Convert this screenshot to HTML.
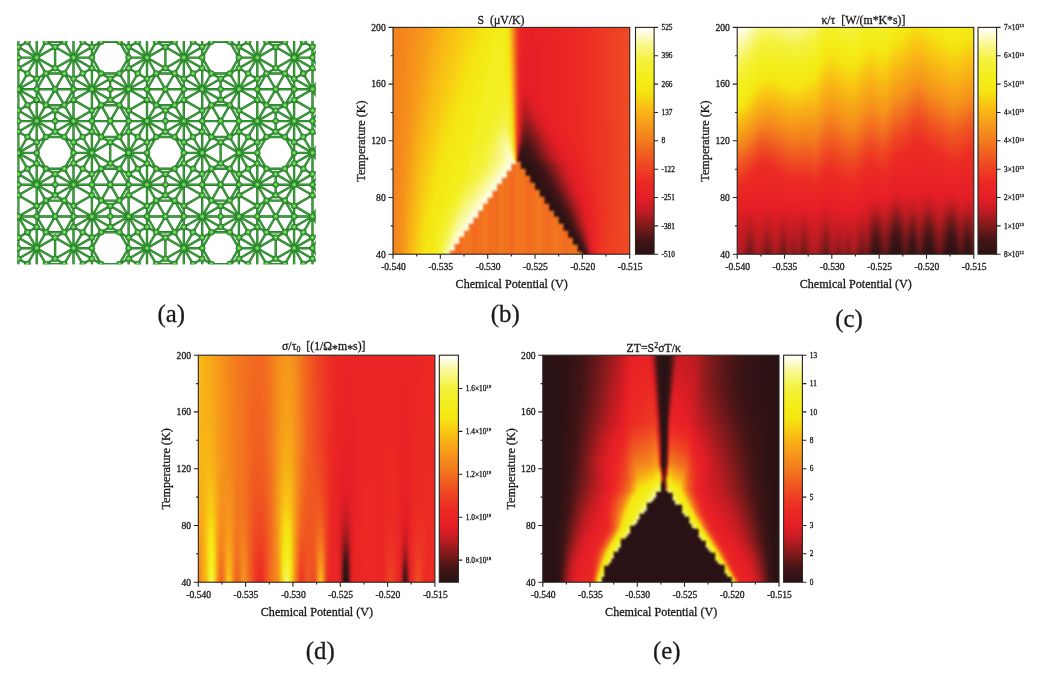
<!DOCTYPE html>
<html><head><meta charset="utf-8"><title>Figure</title>
<style>html,body{margin:0;padding:0;background:#fff}svg{display:block}text{font-family:"Liberation Serif", serif;fill:#1d191a;stroke:#1d191a;stroke-width:.3px}</style>
</head><body>
<svg width="1044" height="678" viewBox="0 0 1044 678">
<defs><filter id="hb" x="-5%" y="-5%" width="110%" height="110%" color-interpolation-filters="sRGB"><feGaussianBlur stdDeviation="0.9"/></filter><filter id="tb" x="0" y="0" width="1044" height="678" filterUnits="userSpaceOnUse" color-interpolation-filters="sRGB"><feGaussianBlur stdDeviation="0.5"/></filter><linearGradient id="cbg" x1="0" y1="0" x2="0" y2="1"><stop offset="0.000" stop-color="#fff"/><stop offset="0.030" stop-color="#fdfcd4"/><stop offset="0.070" stop-color="#f9f896"/><stop offset="0.140" stop-color="#f5f240"/><stop offset="0.220" stop-color="#f3ee1a"/><stop offset="0.280" stop-color="#f5e612"/><stop offset="0.350" stop-color="#f9c014"/><stop offset="0.420" stop-color="#f79e1a"/><stop offset="0.500" stop-color="#f37c1e"/><stop offset="0.600" stop-color="#ef4a22"/><stop offset="0.680" stop-color="#ec2a24"/><stop offset="0.750" stop-color="#e61e26"/><stop offset="0.810" stop-color="#c01c22"/><stop offset="0.875" stop-color="#801a1b"/><stop offset="0.940" stop-color="#421416"/><stop offset="1.000" stop-color="#2a1214"/></linearGradient><linearGradient id="bg" gradientUnits="userSpaceOnUse" x1="0" y1="27.4" x2="0" y2="254.2"/><linearGradient id="b0" href="#bg"><stop offset="0" stop-color="#f4821d"/><stop offset="1" stop-color="#f4831d"/></linearGradient><linearGradient id="b1" href="#bg"><stop offset="0" stop-color="#f4831d"/><stop offset="1" stop-color="#f4861d"/></linearGradient><linearGradient id="b2" href="#bg"><stop offset="0" stop-color="#f4841d"/><stop offset="1" stop-color="#f58b1c"/></linearGradient><linearGradient id="b3" href="#bg"><stop offset="0" stop-color="#f4851d"/><stop offset="1" stop-color="#f6921b"/></linearGradient><linearGradient id="b4" href="#bg"><stop offset="0" stop-color="#f4861d"/><stop offset="0.445" stop-color="#f58b1c"/><stop offset="1" stop-color="#f6991b"/></linearGradient><linearGradient id="b5" href="#bg"><stop offset="0" stop-color="#f4881d"/><stop offset="0.449" stop-color="#f58f1c"/><stop offset="1" stop-color="#f7a319"/></linearGradient><linearGradient id="b6" href="#bg"><stop offset="0" stop-color="#f58a1c"/><stop offset="0.463" stop-color="#f6931b"/><stop offset="1" stop-color="#f8ae17"/></linearGradient><linearGradient id="b7" href="#bg"><stop offset="0" stop-color="#f58b1c"/><stop offset="0.458" stop-color="#f6971b"/><stop offset="1" stop-color="#f9b815"/></linearGradient><linearGradient id="b8" href="#bg"><stop offset="0" stop-color="#f58d1c"/><stop offset="0.432" stop-color="#f79b1a"/><stop offset="1" stop-color="#f9c014"/></linearGradient><linearGradient id="b9" href="#bg"><stop offset="0" stop-color="#f58f1c"/><stop offset="0.41" stop-color="#f79e1a"/><stop offset="0.595" stop-color="#f8af17"/><stop offset="1" stop-color="#f8c814"/></linearGradient><linearGradient id="b10" href="#bg"><stop offset="0" stop-color="#f6921b"/><stop offset="0.352" stop-color="#f7a01a"/><stop offset="0.59" stop-color="#f8b616"/><stop offset="0.771" stop-color="#f9bf14"/><stop offset="1" stop-color="#f7d113"/></linearGradient><linearGradient id="b11" href="#bg"><stop offset="0" stop-color="#f6941b"/><stop offset="0.335" stop-color="#f7a319"/><stop offset="0.533" stop-color="#f8b616"/><stop offset="1" stop-color="#f6d913"/></linearGradient><linearGradient id="b12" href="#bg"><stop offset="0" stop-color="#f6971b"/><stop offset="0.317" stop-color="#f8a718"/><stop offset="1" stop-color="#f5e112"/></linearGradient><linearGradient id="b13" href="#bg"><stop offset="0" stop-color="#f6991b"/><stop offset="0.225" stop-color="#f7a519"/><stop offset="0.727" stop-color="#f7ce13"/><stop offset="0.877" stop-color="#f6e012"/><stop offset="1" stop-color="#f5e612"/></linearGradient><linearGradient id="b14" href="#bg"><stop offset="0" stop-color="#f79c1a"/><stop offset="0.163" stop-color="#f7a519"/><stop offset="0.502" stop-color="#f9c014"/><stop offset="0.872" stop-color="#f5e512"/><stop offset="1" stop-color="#f5e713"/></linearGradient><linearGradient id="b15" href="#bg"><stop offset="0" stop-color="#f79f1a"/><stop offset="0.458" stop-color="#f9c014"/><stop offset="0.837" stop-color="#f5e612"/><stop offset="1" stop-color="#f5e814"/></linearGradient><linearGradient id="b16" href="#bg"><stop offset="0" stop-color="#f7a319"/><stop offset="0.436" stop-color="#f9c314"/><stop offset="0.789" stop-color="#f5e612"/><stop offset="1" stop-color="#f4e814"/></linearGradient><linearGradient id="b17" href="#bg"><stop offset="0" stop-color="#f7a619"/><stop offset="0.419" stop-color="#f8c514"/><stop offset="0.736" stop-color="#f5e612"/><stop offset="0.93" stop-color="#f4ec18"/><stop offset="1" stop-color="#f4e915"/></linearGradient><linearGradient id="b18" href="#bg"><stop offset="0" stop-color="#f8aa18"/><stop offset="0.401" stop-color="#f8c714"/><stop offset="0.687" stop-color="#f5e612"/><stop offset="0.811" stop-color="#f5e814"/><stop offset="0.934" stop-color="#f3ee1c"/><stop offset="1" stop-color="#f3ee1b"/></linearGradient><linearGradient id="b19" href="#bg"><stop offset="0" stop-color="#f8ae17"/><stop offset="0.383" stop-color="#f8c914"/><stop offset="0.634" stop-color="#f5e612"/><stop offset="0.789" stop-color="#f4e814"/><stop offset="0.868" stop-color="#f3ee1a"/><stop offset="0.907" stop-color="#f4ef24"/><stop offset="1" stop-color="#f4f02d"/></linearGradient><linearGradient id="b20" href="#bg"><stop offset="0" stop-color="#f8b217"/><stop offset="0.366" stop-color="#f8cc13"/><stop offset="0.59" stop-color="#f5e612"/><stop offset="0.775" stop-color="#f4e915"/><stop offset="0.837" stop-color="#f3ee1b"/><stop offset="0.907" stop-color="#f4f02d"/><stop offset="1" stop-color="#f5f23f"/></linearGradient><linearGradient id="b21" href="#bg"><stop offset="0" stop-color="#f8b616"/><stop offset="0.335" stop-color="#f8cd13"/><stop offset="0.559" stop-color="#f5e612"/><stop offset="0.767" stop-color="#f4ea16"/><stop offset="0.806" stop-color="#f3ee1a"/><stop offset="0.952" stop-color="#f5f240"/><stop offset="0.978" stop-color="#f6f354"/><stop offset="1" stop-color="#f7f56d"/></linearGradient><linearGradient id="b22" href="#bg"><stop offset="0" stop-color="#f9b815"/><stop offset="0.317" stop-color="#f7ce13"/><stop offset="0.524" stop-color="#f5e612"/><stop offset="0.749" stop-color="#f4ea16"/><stop offset="0.784" stop-color="#f3ee1a"/><stop offset="0.907" stop-color="#f5f240"/><stop offset="0.965" stop-color="#f7f56a"/><stop offset="0.987" stop-color="#f8f785"/><stop offset="1" stop-color="#f9f89e"/></linearGradient><linearGradient id="b23" href="#bg"><stop offset="0" stop-color="#f9bb15"/><stop offset="0.3" stop-color="#f7d013"/><stop offset="0.493" stop-color="#f5e612"/><stop offset="0.736" stop-color="#f4ea16"/><stop offset="0.767" stop-color="#f3ee1a"/><stop offset="0.885" stop-color="#f5f244"/><stop offset="0.943" stop-color="#f7f674"/><stop offset="0.965" stop-color="#f8f78b"/><stop offset="0.974" stop-color="#f9f897"/><stop offset="0.982" stop-color="#faf9a9"/><stop offset="1" stop-color="#fdfcd8"/></linearGradient><linearGradient id="b24" href="#bg"><stop offset="0" stop-color="#f9bd14"/><stop offset="0.286" stop-color="#f7d313"/><stop offset="0.458" stop-color="#f5e612"/><stop offset="0.749" stop-color="#f3ee1a"/><stop offset="0.859" stop-color="#f5f244"/><stop offset="0.921" stop-color="#f8f67a"/><stop offset="0.947" stop-color="#f9f896"/><stop offset="0.965" stop-color="#fbfab4"/><stop offset="0.982" stop-color="#fdfcda"/><stop offset="0.987" stop-color="#f2721f"/><stop offset="1" stop-color="#f2721f"/></linearGradient><linearGradient id="b25" href="#bg"><stop offset="0" stop-color="#f9c014"/><stop offset="0.242" stop-color="#f7d213"/><stop offset="0.427" stop-color="#f5e612"/><stop offset="0.731" stop-color="#f3ee1a"/><stop offset="0.828" stop-color="#f5f23f"/><stop offset="0.863" stop-color="#f6f45c"/><stop offset="0.921" stop-color="#f9f897"/><stop offset="0.956" stop-color="#fdfccd"/><stop offset="0.982" stop-color="#fff"/><stop offset="0.987" stop-color="#f2701f"/><stop offset="1" stop-color="#f2701f"/></linearGradient><linearGradient id="b26" href="#bg"><stop offset="0" stop-color="#f9c214"/><stop offset="0.229" stop-color="#f7d413"/><stop offset="0.396" stop-color="#f5e612"/><stop offset="0.714" stop-color="#f3ee1a"/><stop offset="0.811" stop-color="#f5f243"/><stop offset="0.85" stop-color="#f7f567"/><stop offset="0.89" stop-color="#f9f892"/><stop offset="0.952" stop-color="#fefde2"/><stop offset="0.956" stop-color="#f2701f"/><stop offset="1" stop-color="#f2701f"/></linearGradient><linearGradient id="b27" href="#bg"><stop offset="0" stop-color="#f8c514"/><stop offset="0.216" stop-color="#f7d613"/><stop offset="0.361" stop-color="#f5e612"/><stop offset="0.7" stop-color="#f3ee1b"/><stop offset="0.789" stop-color="#f5f242"/><stop offset="0.912" stop-color="#fcfbc3"/><stop offset="0.934" stop-color="#fefddf"/><stop offset="0.952" stop-color="#fffffd"/><stop offset="0.956" stop-color="#f16920"/><stop offset="1" stop-color="#f16920"/></linearGradient><linearGradient id="b28" href="#bg"><stop offset="0" stop-color="#f8c814"/><stop offset="0.33" stop-color="#f5e612"/><stop offset="0.683" stop-color="#f3ee1a"/><stop offset="0.762" stop-color="#f5f23f"/><stop offset="0.802" stop-color="#f7f56f"/><stop offset="0.855" stop-color="#f9f899"/><stop offset="0.881" stop-color="#fbfab1"/><stop offset="0.921" stop-color="#fefde3"/><stop offset="0.925" stop-color="#f26b1f"/><stop offset="1" stop-color="#f26b1f"/></linearGradient><linearGradient id="b29" href="#bg"><stop offset="0" stop-color="#f8cb13"/><stop offset="0.3" stop-color="#f5e612"/><stop offset="0.665" stop-color="#f3ee1a"/><stop offset="0.74" stop-color="#f5f241"/><stop offset="0.762" stop-color="#f6f45d"/><stop offset="0.78" stop-color="#f7f56e"/><stop offset="0.841" stop-color="#f9f898"/><stop offset="0.877" stop-color="#fcfbbe"/><stop offset="0.921" stop-color="#fffffa"/><stop offset="0.925" stop-color="#f3761e"/><stop offset="1" stop-color="#f3761e"/></linearGradient><linearGradient id="b30" href="#bg"><stop offset="0" stop-color="#f8cd13"/><stop offset="0.264" stop-color="#f5e612"/><stop offset="0.639" stop-color="#f3ee1a"/><stop offset="0.656" stop-color="#f3ef20"/><stop offset="0.714" stop-color="#f5f240"/><stop offset="0.74" stop-color="#f6f458"/><stop offset="0.824" stop-color="#f9f896"/><stop offset="0.855" stop-color="#fbfab7"/><stop offset="0.894" stop-color="#fefeea"/><stop offset="0.899" stop-color="#f2761f"/><stop offset="1" stop-color="#f2761f"/></linearGradient><linearGradient id="b31" href="#bg"><stop offset="0" stop-color="#f7d013"/><stop offset="0.233" stop-color="#f5e612"/><stop offset="0.612" stop-color="#f3ee1d"/><stop offset="0.7" stop-color="#f5f241"/><stop offset="0.753" stop-color="#f7f566"/><stop offset="0.819" stop-color="#faf9a3"/><stop offset="0.855" stop-color="#fcfbcb"/><stop offset="0.894" stop-color="#fff"/><stop offset="0.899" stop-color="#f2731f"/><stop offset="1" stop-color="#f2731f"/></linearGradient><linearGradient id="b32" href="#bg"><stop offset="0" stop-color="#f7d313"/><stop offset="0.203" stop-color="#f5e612"/><stop offset="0.533" stop-color="#f3ed19"/><stop offset="0.577" stop-color="#f3ef20"/><stop offset="0.7" stop-color="#f5f242"/><stop offset="0.793" stop-color="#f9f897"/><stop offset="0.863" stop-color="#fefeea"/><stop offset="0.868" stop-color="#f3771e"/><stop offset="1" stop-color="#f3771e"/></linearGradient><linearGradient id="b33" href="#bg"><stop offset="0" stop-color="#f7d513"/><stop offset="0.172" stop-color="#f5e612"/><stop offset="0.498" stop-color="#f3ee1a"/><stop offset="0.586" stop-color="#f4f02d"/><stop offset="0.656" stop-color="#f4f135"/><stop offset="0.692" stop-color="#f5f243"/><stop offset="0.775" stop-color="#f9f894"/><stop offset="0.863" stop-color="#fffffd"/><stop offset="0.868" stop-color="#f26f1f"/><stop offset="1" stop-color="#f26f1f"/></linearGradient><linearGradient id="b34" href="#bg"><stop offset="0" stop-color="#f6d813"/><stop offset="0.137" stop-color="#f5e612"/><stop offset="0.454" stop-color="#f3ee1a"/><stop offset="0.515" stop-color="#f4f028"/><stop offset="0.604" stop-color="#f4f02e"/><stop offset="0.656" stop-color="#f5f138"/><stop offset="0.678" stop-color="#f5f243"/><stop offset="0.762" stop-color="#f9f895"/><stop offset="0.837" stop-color="#fefeee"/><stop offset="0.841" stop-color="#f16720"/><stop offset="1" stop-color="#f16720"/></linearGradient><linearGradient id="b35" href="#bg"><stop offset="0" stop-color="#f6db13"/><stop offset="0.106" stop-color="#f5e612"/><stop offset="0.41" stop-color="#f3ee1a"/><stop offset="0.471" stop-color="#f4f029"/><stop offset="0.555" stop-color="#f4f029"/><stop offset="0.656" stop-color="#f5f23d"/><stop offset="0.665" stop-color="#f5f243"/><stop offset="0.749" stop-color="#f9f897"/><stop offset="0.837" stop-color="#fff"/><stop offset="0.841" stop-color="#f26e1f"/><stop offset="1" stop-color="#f26e1f"/></linearGradient><linearGradient id="b36" href="#bg"><stop offset="0" stop-color="#f6de12"/><stop offset="0.075" stop-color="#f5e612"/><stop offset="0.352" stop-color="#f3ed19"/><stop offset="0.37" stop-color="#f3ee1a"/><stop offset="0.436" stop-color="#f4f02a"/><stop offset="0.507" stop-color="#f3ef23"/><stop offset="0.643" stop-color="#f5f23f"/><stop offset="0.656" stop-color="#f5f347"/><stop offset="0.731" stop-color="#f9f893"/><stop offset="0.806" stop-color="#fefeed"/><stop offset="0.811" stop-color="#f2721f"/><stop offset="1" stop-color="#f2721f"/></linearGradient><linearGradient id="b37" href="#bg"><stop offset="0" stop-color="#f6e012"/><stop offset="0.044" stop-color="#f5e612"/><stop offset="0.308" stop-color="#f3ed19"/><stop offset="0.392" stop-color="#f4f02a"/><stop offset="0.485" stop-color="#f3ef22"/><stop offset="0.626" stop-color="#f5f240"/><stop offset="0.656" stop-color="#f6f355"/><stop offset="0.718" stop-color="#f9f894"/><stop offset="0.806" stop-color="#fff"/><stop offset="0.811" stop-color="#f2701f"/><stop offset="1" stop-color="#f2701f"/></linearGradient><linearGradient id="b38" href="#bg"><stop offset="0" stop-color="#f5e512"/><stop offset="0.264" stop-color="#f3ed19"/><stop offset="0.348" stop-color="#f4f029"/><stop offset="0.463" stop-color="#f3ef21"/><stop offset="0.608" stop-color="#f5f240"/><stop offset="0.656" stop-color="#f7f463"/><stop offset="0.705" stop-color="#f9f895"/><stop offset="0.775" stop-color="#fefeec"/><stop offset="0.78" stop-color="#f3781e"/><stop offset="1" stop-color="#f3781e"/></linearGradient><linearGradient id="b39" href="#bg"><stop offset="0" stop-color="#f5e713"/><stop offset="0.22" stop-color="#f3ed19"/><stop offset="0.295" stop-color="#f4f028"/><stop offset="0.445" stop-color="#f3ef21"/><stop offset="0.586" stop-color="#f5f240"/><stop offset="0.608" stop-color="#f6f34d"/><stop offset="0.656" stop-color="#f7f571"/><stop offset="0.692" stop-color="#f9f896"/><stop offset="0.775" stop-color="#fffffd"/><stop offset="0.78" stop-color="#f3791e"/><stop offset="1" stop-color="#f3791e"/></linearGradient><linearGradient id="b40" href="#bg"><stop offset="0" stop-color="#f5e713"/><stop offset="0.176" stop-color="#f3ed19"/><stop offset="0.247" stop-color="#f4ef27"/><stop offset="0.423" stop-color="#f3ef21"/><stop offset="0.551" stop-color="#f5f240"/><stop offset="0.595" stop-color="#f6f351"/><stop offset="0.656" stop-color="#f8f680"/><stop offset="0.678" stop-color="#f9f897"/><stop offset="0.749" stop-color="#fefeef"/><stop offset="0.753" stop-color="#f26e1f"/><stop offset="1" stop-color="#f26e1f"/></linearGradient><linearGradient id="b41" href="#bg"><stop offset="0" stop-color="#f4e814"/><stop offset="0.137" stop-color="#f3ed19"/><stop offset="0.198" stop-color="#f4ef26"/><stop offset="0.401" stop-color="#f3ef21"/><stop offset="0.52" stop-color="#f5f240"/><stop offset="0.595" stop-color="#f6f45e"/><stop offset="0.643" stop-color="#f8f783"/><stop offset="0.665" stop-color="#f9f898"/><stop offset="0.709" stop-color="#fdfcd1"/><stop offset="0.749" stop-color="#fff"/><stop offset="0.753" stop-color="#f26c1f"/><stop offset="1" stop-color="#f26c1f"/></linearGradient><linearGradient id="b42" href="#bg"><stop offset="0" stop-color="#f4e915"/><stop offset="0.097" stop-color="#f3ee1a"/><stop offset="0.15" stop-color="#f4ef25"/><stop offset="0.374" stop-color="#f3ef21"/><stop offset="0.489" stop-color="#f5f23f"/><stop offset="0.52" stop-color="#f6f350"/><stop offset="0.595" stop-color="#f7f56b"/><stop offset="0.604" stop-color="#f7f571"/><stop offset="0.652" stop-color="#f9f89a"/><stop offset="0.718" stop-color="#fefeed"/><stop offset="0.722" stop-color="#f26f1f"/><stop offset="1" stop-color="#f26f1f"/></linearGradient><linearGradient id="b43" href="#bg"><stop offset="0" stop-color="#f4ea16"/><stop offset="0.053" stop-color="#f3ee1a"/><stop offset="0.101" stop-color="#f3ef23"/><stop offset="0.344" stop-color="#f3ef21"/><stop offset="0.405" stop-color="#f4f02e"/><stop offset="0.467" stop-color="#f5f240"/><stop offset="0.502" stop-color="#f6f458"/><stop offset="0.595" stop-color="#f8f678"/><stop offset="0.634" stop-color="#f9f899"/><stop offset="0.718" stop-color="#fffffe"/><stop offset="0.722" stop-color="#f26b1f"/><stop offset="1" stop-color="#f26b1f"/></linearGradient><linearGradient id="b44" href="#bg"><stop offset="0" stop-color="#f3ed19"/><stop offset="0.053" stop-color="#f3ef21"/><stop offset="0.317" stop-color="#f3ef20"/><stop offset="0.445" stop-color="#f5f23f"/><stop offset="0.502" stop-color="#f7f569"/><stop offset="0.595" stop-color="#f8f785"/><stop offset="0.626" stop-color="#faf9a1"/><stop offset="0.687" stop-color="#fefeeb"/><stop offset="0.692" stop-color="#f26f1f"/><stop offset="1" stop-color="#f26f1f"/></linearGradient><linearGradient id="b45" href="#bg"><stop offset="0" stop-color="#f3ee1e"/><stop offset="0.075" stop-color="#f3ee1c"/><stop offset="0.291" stop-color="#f3ef1f"/><stop offset="0.427" stop-color="#f5f240"/><stop offset="0.502" stop-color="#f8f679"/><stop offset="0.595" stop-color="#f9f893"/><stop offset="0.63" stop-color="#fbfab8"/><stop offset="0.687" stop-color="#fffffc"/><stop offset="0.692" stop-color="#f37a1e"/><stop offset="1" stop-color="#f37a1e"/></linearGradient><linearGradient id="b46" href="#bg"><stop offset="0" stop-color="#f3ed19"/><stop offset="0.273" stop-color="#f3ee1f"/><stop offset="0.41" stop-color="#f5f23f"/><stop offset="0.449" stop-color="#f6f45b"/><stop offset="0.502" stop-color="#f8f788"/><stop offset="0.595" stop-color="#faf9a3"/><stop offset="0.661" stop-color="#fefeee"/><stop offset="0.665" stop-color="#f3761e"/><stop offset="1" stop-color="#f3761e"/></linearGradient><linearGradient id="b47" href="#bg"><stop offset="0" stop-color="#f4eb17"/><stop offset="0.251" stop-color="#f3ee1c"/><stop offset="0.278" stop-color="#f3ef1f"/><stop offset="0.41" stop-color="#f5f240"/><stop offset="0.449" stop-color="#f6f45c"/><stop offset="0.502" stop-color="#f9f892"/><stop offset="0.542" stop-color="#faf9a8"/><stop offset="0.595" stop-color="#fbfab4"/><stop offset="0.661" stop-color="#fff"/><stop offset="0.665" stop-color="#f2711f"/><stop offset="1" stop-color="#f2711f"/></linearGradient><linearGradient id="b48" href="#bg"><stop offset="0" stop-color="#f5e612"/><stop offset="0.286" stop-color="#f3ee1a"/><stop offset="0.432" stop-color="#f5f23f"/><stop offset="0.449" stop-color="#f5f34a"/><stop offset="0.498" stop-color="#f8f78a"/><stop offset="0.533" stop-color="#fbfaae"/><stop offset="0.559" stop-color="#fcfbbe"/><stop offset="0.595" stop-color="#fcfbc5"/><stop offset="0.63" stop-color="#fefeed"/><stop offset="0.634" stop-color="#f2731f"/><stop offset="1" stop-color="#f2731f"/></linearGradient><linearGradient id="b49" href="#bg"><stop offset="0" stop-color="#f8c614"/><stop offset="0.273" stop-color="#f5e713"/><stop offset="0.374" stop-color="#f3ee1a"/><stop offset="0.449" stop-color="#f4f02d"/><stop offset="0.48" stop-color="#f5f243"/><stop offset="0.498" stop-color="#f7f461"/><stop offset="0.515" stop-color="#f8f67a"/><stop offset="0.546" stop-color="#fbfab3"/><stop offset="0.559" stop-color="#fcfbc5"/><stop offset="0.573" stop-color="#fdfcd0"/><stop offset="0.595" stop-color="#fdfcd7"/><stop offset="0.63" stop-color="#fffffe"/><stop offset="0.634" stop-color="#f26d1f"/><stop offset="1" stop-color="#f26d1f"/></linearGradient><linearGradient id="b50" href="#bg"><stop offset="0" stop-color="#f6981b"/><stop offset="0.251" stop-color="#f8b616"/><stop offset="0.449" stop-color="#f5e612"/><stop offset="0.489" stop-color="#f3ed19"/><stop offset="0.511" stop-color="#f4ef27"/><stop offset="0.533" stop-color="#f5f23e"/><stop offset="0.577" stop-color="#fcfbc3"/><stop offset="0.595" stop-color="#fefde7"/><stop offset="0.599" stop-color="#fefeeb"/><stop offset="0.604" stop-color="#f16720"/><stop offset="1" stop-color="#f16720"/></linearGradient><linearGradient id="b51" href="#bg"><stop offset="0" stop-color="#f16720"/><stop offset="0.251" stop-color="#f37e1e"/><stop offset="0.454" stop-color="#f6981b"/><stop offset="0.524" stop-color="#f8b416"/><stop offset="0.542" stop-color="#f9c314"/><stop offset="0.564" stop-color="#f5e412"/><stop offset="0.568" stop-color="#f5e814"/><stop offset="0.581" stop-color="#f3ee1e"/><stop offset="0.59" stop-color="#f4f135"/><stop offset="0.595" stop-color="#fffef7"/><stop offset="0.599" stop-color="#fffffc"/><stop offset="0.604" stop-color="#f2711f"/><stop offset="1" stop-color="#f2711f"/></linearGradient><linearGradient id="b52" href="#bg"><stop offset="0" stop-color="#ee3f23"/><stop offset="0.348" stop-color="#e42"/><stop offset="0.449" stop-color="#ee4322"/><stop offset="0.511" stop-color="#ed3823"/><stop offset="0.537" stop-color="#ec2a24"/><stop offset="0.568" stop-color="#e31e26"/><stop offset="0.586" stop-color="#bf1c22"/><stop offset="0.59" stop-color="#ae1b20"/><stop offset="0.595" stop-color="#f2761f"/><stop offset="1" stop-color="#f2761f"/></linearGradient><linearGradient id="b53" href="#bg"><stop offset="0" stop-color="#ec2a24"/><stop offset="0.352" stop-color="#e82325"/><stop offset="0.423" stop-color="#e61e26"/><stop offset="0.449" stop-color="#e01e25"/><stop offset="0.502" stop-color="#bb1c21"/><stop offset="0.515" stop-color="#a81b1f"/><stop offset="0.559" stop-color="#431416"/><stop offset="0.577" stop-color="#341315"/><stop offset="0.59" stop-color="#2e1214"/><stop offset="0.595" stop-color="#f2731f"/><stop offset="1" stop-color="#f2731f"/></linearGradient><linearGradient id="b54" href="#bg"><stop offset="0" stop-color="#e92525"/><stop offset="0.286" stop-color="#e61e26"/><stop offset="0.348" stop-color="#d51d24"/><stop offset="0.401" stop-color="#c11c22"/><stop offset="0.449" stop-color="#a41b1f"/><stop offset="0.511" stop-color="#611718"/><stop offset="0.533" stop-color="#411416"/><stop offset="0.573" stop-color="#2f1214"/><stop offset="0.621" stop-color="#2a1214"/><stop offset="0.626" stop-color="#f3771e"/><stop offset="1" stop-color="#f3771e"/></linearGradient><linearGradient id="b55" href="#bg"><stop offset="0" stop-color="#e82225"/><stop offset="0.233" stop-color="#e71f26"/><stop offset="0.278" stop-color="#e21e26"/><stop offset="0.37" stop-color="#be1c22"/><stop offset="0.449" stop-color="#821a1b"/><stop offset="0.52" stop-color="#411416"/><stop offset="0.573" stop-color="#301315"/><stop offset="0.621" stop-color="#2a1214"/><stop offset="0.626" stop-color="#f3761e"/><stop offset="1" stop-color="#f3761e"/></linearGradient><linearGradient id="b56" href="#bg"><stop offset="0" stop-color="#e82125"/><stop offset="0.278" stop-color="#e41e26"/><stop offset="0.366" stop-color="#c01c22"/><stop offset="0.52" stop-color="#421416"/><stop offset="0.573" stop-color="#331315"/><stop offset="0.59" stop-color="#321315"/><stop offset="0.595" stop-color="#2e1214"/><stop offset="0.652" stop-color="#2a1214"/><stop offset="0.656" stop-color="#f26b1f"/><stop offset="1" stop-color="#f26b1f"/></linearGradient><linearGradient id="b57" href="#bg"><stop offset="0" stop-color="#e72126"/><stop offset="0.282" stop-color="#e61e26"/><stop offset="0.348" stop-color="#ce1d23"/><stop offset="0.379" stop-color="#bf1c22"/><stop offset="0.458" stop-color="#78191a"/><stop offset="0.533" stop-color="#421416"/><stop offset="0.59" stop-color="#361315"/><stop offset="0.595" stop-color="#301315"/><stop offset="0.652" stop-color="#2a1214"/><stop offset="0.656" stop-color="#f26a1f"/><stop offset="1" stop-color="#f26a1f"/></linearGradient><linearGradient id="b58" href="#bg"><stop offset="0" stop-color="#e72026"/><stop offset="0.3" stop-color="#e51e26"/><stop offset="0.348" stop-color="#d51d24"/><stop offset="0.392" stop-color="#c11c22"/><stop offset="0.463" stop-color="#811a1b"/><stop offset="0.551" stop-color="#421416"/><stop offset="0.59" stop-color="#3a1315"/><stop offset="0.595" stop-color="#341315"/><stop offset="0.617" stop-color="#2f1214"/><stop offset="0.683" stop-color="#2a1214"/><stop offset="0.687" stop-color="#f2701f"/><stop offset="1" stop-color="#f2701f"/></linearGradient><linearGradient id="b59" href="#bg"><stop offset="0" stop-color="#e72126"/><stop offset="0.278" stop-color="#e72026"/><stop offset="0.326" stop-color="#e31e26"/><stop offset="0.361" stop-color="#d81d24"/><stop offset="0.41" stop-color="#c11c22"/><stop offset="0.48" stop-color="#821a1b"/><stop offset="0.568" stop-color="#431416"/><stop offset="0.59" stop-color="#3f1416"/><stop offset="0.595" stop-color="#381315"/><stop offset="0.617" stop-color="#331315"/><stop offset="0.683" stop-color="#2a1214"/><stop offset="0.687" stop-color="#f26e1f"/><stop offset="1" stop-color="#f26e1f"/></linearGradient><linearGradient id="b60" href="#bg"><stop offset="0" stop-color="#e72126"/><stop offset="0.344" stop-color="#e41e26"/><stop offset="0.392" stop-color="#d31d24"/><stop offset="0.427" stop-color="#c11c22"/><stop offset="0.515" stop-color="#77191a"/><stop offset="0.573" stop-color="#4e1517"/><stop offset="0.59" stop-color="#471516"/><stop offset="0.595" stop-color="#3c1416"/><stop offset="0.661" stop-color="#2d1214"/><stop offset="0.714" stop-color="#2a1214"/><stop offset="0.718" stop-color="#f2731f"/><stop offset="1" stop-color="#f2731f"/></linearGradient><linearGradient id="b61" href="#bg"><stop offset="0" stop-color="#e82125"/><stop offset="0.361" stop-color="#e61e26"/><stop offset="0.405" stop-color="#d61d24"/><stop offset="0.445" stop-color="#c11c22"/><stop offset="0.537" stop-color="#76191a"/><stop offset="0.573" stop-color="#5c1718"/><stop offset="0.59" stop-color="#551618"/><stop offset="0.595" stop-color="#411416"/><stop offset="0.665" stop-color="#301214"/><stop offset="0.714" stop-color="#2a1214"/><stop offset="0.718" stop-color="#f37b1e"/><stop offset="1" stop-color="#f37b1e"/></linearGradient><linearGradient id="b62" href="#bg"><stop offset="0" stop-color="#e82225"/><stop offset="0.295" stop-color="#e82125"/><stop offset="0.383" stop-color="#e51e26"/><stop offset="0.414" stop-color="#da1d25"/><stop offset="0.467" stop-color="#be1c22"/><stop offset="0.568" stop-color="#6f181a"/><stop offset="0.59" stop-color="#631719"/><stop offset="0.595" stop-color="#4e1517"/><stop offset="0.612" stop-color="#421416"/><stop offset="0.687" stop-color="#2e1214"/><stop offset="0.744" stop-color="#2a1214"/><stop offset="0.749" stop-color="#f2751f"/><stop offset="1" stop-color="#f2751f"/></linearGradient><linearGradient id="b63" href="#bg"><stop offset="0" stop-color="#e82225"/><stop offset="0.308" stop-color="#e82225"/><stop offset="0.405" stop-color="#e51e26"/><stop offset="0.485" stop-color="#c01c22"/><stop offset="0.573" stop-color="#7b191b"/><stop offset="0.59" stop-color="#72191a"/><stop offset="0.595" stop-color="#5c1718"/><stop offset="0.63" stop-color="#421416"/><stop offset="0.696" stop-color="#301214"/><stop offset="0.744" stop-color="#2a1214"/><stop offset="0.749" stop-color="#f26d1f"/><stop offset="1" stop-color="#f26d1f"/></linearGradient><linearGradient id="b64" href="#bg"><stop offset="0" stop-color="#e82225"/><stop offset="0.326" stop-color="#e82225"/><stop offset="0.423" stop-color="#e51e26"/><stop offset="0.507" stop-color="#be1c22"/><stop offset="0.573" stop-color="#8b1a1c"/><stop offset="0.59" stop-color="#811a1b"/><stop offset="0.595" stop-color="#6b1819"/><stop offset="0.648" stop-color="#431416"/><stop offset="0.718" stop-color="#2f1214"/><stop offset="0.775" stop-color="#2a1214"/><stop offset="0.78" stop-color="#f2701f"/><stop offset="1" stop-color="#f2701f"/></linearGradient><linearGradient id="b65" href="#bg"><stop offset="0" stop-color="#e82325"/><stop offset="0.344" stop-color="#e82325"/><stop offset="0.441" stop-color="#e51e26"/><stop offset="0.524" stop-color="#c01c22"/><stop offset="0.573" stop-color="#9b1b1e"/><stop offset="0.59" stop-color="#911b1d"/><stop offset="0.595" stop-color="#7a191a"/><stop offset="0.67" stop-color="#411416"/><stop offset="0.731" stop-color="#301214"/><stop offset="0.775" stop-color="#2a1214"/><stop offset="0.78" stop-color="#f26c1f"/><stop offset="1" stop-color="#f26c1f"/></linearGradient><linearGradient id="b66" href="#bg"><stop offset="0" stop-color="#e92325"/><stop offset="0.357" stop-color="#e92325"/><stop offset="0.458" stop-color="#e51e26"/><stop offset="0.542" stop-color="#c11c22"/><stop offset="0.59" stop-color="#a01b1e"/><stop offset="0.595" stop-color="#891a1c"/><stop offset="0.687" stop-color="#421416"/><stop offset="0.753" stop-color="#2e1214"/><stop offset="0.806" stop-color="#2a1214"/><stop offset="0.811" stop-color="#f26a1f"/><stop offset="1" stop-color="#f26a1f"/></linearGradient><linearGradient id="b67" href="#bg"><stop offset="0" stop-color="#e92425"/><stop offset="0.37" stop-color="#e92425"/><stop offset="0.476" stop-color="#e61e26"/><stop offset="0.564" stop-color="#c01c22"/><stop offset="0.59" stop-color="#af1b20"/><stop offset="0.595" stop-color="#991b1e"/><stop offset="0.705" stop-color="#421416"/><stop offset="0.762" stop-color="#301315"/><stop offset="0.806" stop-color="#2a1214"/><stop offset="0.811" stop-color="#f2741f"/><stop offset="1" stop-color="#f2741f"/></linearGradient><linearGradient id="b68" href="#bg"><stop offset="0" stop-color="#e92425"/><stop offset="0.388" stop-color="#e92425"/><stop offset="0.493" stop-color="#e61e26"/><stop offset="0.59" stop-color="#be1c22"/><stop offset="0.595" stop-color="#a81b1f"/><stop offset="0.648" stop-color="#821a1b"/><stop offset="0.722" stop-color="#431416"/><stop offset="0.784" stop-color="#2f1214"/><stop offset="0.833" stop-color="#2a1214"/><stop offset="0.837" stop-color="#f3791e"/><stop offset="1" stop-color="#f3791e"/></linearGradient><linearGradient id="b69" href="#bg"><stop offset="0" stop-color="#e92525"/><stop offset="0.405" stop-color="#e92425"/><stop offset="0.515" stop-color="#e61e26"/><stop offset="0.59" stop-color="#c81c23"/><stop offset="0.595" stop-color="#b81c21"/><stop offset="0.656" stop-color="#8d1a1c"/><stop offset="0.744" stop-color="#411416"/><stop offset="0.797" stop-color="#301214"/><stop offset="0.833" stop-color="#2a1214"/><stop offset="0.837" stop-color="#f2731f"/><stop offset="1" stop-color="#f2731f"/></linearGradient><linearGradient id="b70" href="#bg"><stop offset="0" stop-color="#ea2525"/><stop offset="0.41" stop-color="#ea2525"/><stop offset="0.533" stop-color="#e61e26"/><stop offset="0.59" stop-color="#d01d24"/><stop offset="0.595" stop-color="#c41c22"/><stop offset="0.617" stop-color="#ba1c21"/><stop offset="0.661" stop-color="#9b1b1e"/><stop offset="0.762" stop-color="#411416"/><stop offset="0.819" stop-color="#2f1214"/><stop offset="0.863" stop-color="#2a1214"/><stop offset="0.868" stop-color="#f2741f"/><stop offset="1" stop-color="#f2741f"/></linearGradient><linearGradient id="b71" href="#bg"><stop offset="0" stop-color="#ea2625"/><stop offset="0.423" stop-color="#ea2625"/><stop offset="0.555" stop-color="#e51e26"/><stop offset="0.59" stop-color="#d91d25"/><stop offset="0.595" stop-color="#cd1d23"/><stop offset="0.63" stop-color="#c11c22"/><stop offset="0.661" stop-color="#ac1b20"/><stop offset="0.705" stop-color="#891a1c"/><stop offset="0.78" stop-color="#421416"/><stop offset="0.828" stop-color="#311315"/><stop offset="0.863" stop-color="#2a1214"/><stop offset="0.868" stop-color="#f2721f"/><stop offset="1" stop-color="#f2721f"/></linearGradient><linearGradient id="b72" href="#bg"><stop offset="0" stop-color="#ea2625"/><stop offset="0.432" stop-color="#ea2625"/><stop offset="0.573" stop-color="#e61e26"/><stop offset="0.59" stop-color="#e01e25"/><stop offset="0.595" stop-color="#d61d24"/><stop offset="0.656" stop-color="#c01c22"/><stop offset="0.674" stop-color="#b41c21"/><stop offset="0.722" stop-color="#8c1a1c"/><stop offset="0.797" stop-color="#421416"/><stop offset="0.859" stop-color="#2d1214"/><stop offset="0.894" stop-color="#2a1214"/><stop offset="0.899" stop-color="#f16820"/><stop offset="1" stop-color="#f16820"/></linearGradient><linearGradient id="b73" href="#bg"><stop offset="0" stop-color="#ea2725"/><stop offset="0.445" stop-color="#ea2725"/><stop offset="0.59" stop-color="#e61e26"/><stop offset="0.595" stop-color="#de1e25"/><stop offset="0.648" stop-color="#ce1d23"/><stop offset="0.687" stop-color="#bc1c22"/><stop offset="0.736" stop-color="#941b1d"/><stop offset="0.819" stop-color="#421416"/><stop offset="0.868" stop-color="#301214"/><stop offset="0.894" stop-color="#2a1214"/><stop offset="0.899" stop-color="#f26b1f"/><stop offset="1" stop-color="#f26b1f"/></linearGradient><linearGradient id="b74" href="#bg"><stop offset="0" stop-color="#eb2824"/><stop offset="0.449" stop-color="#eb2724"/><stop offset="0.59" stop-color="#e72026"/><stop offset="0.652" stop-color="#d61d24"/><stop offset="0.705" stop-color="#c11c22"/><stop offset="0.749" stop-color="#9d1b1e"/><stop offset="0.841" stop-color="#411416"/><stop offset="0.894" stop-color="#2d1214"/><stop offset="0.925" stop-color="#2a1214"/><stop offset="0.93" stop-color="#f2731f"/><stop offset="1" stop-color="#f2731f"/></linearGradient><linearGradient id="b75" href="#bg"><stop offset="0" stop-color="#eb2824"/><stop offset="0.471" stop-color="#eb2824"/><stop offset="0.626" stop-color="#e61e26"/><stop offset="0.683" stop-color="#d51d24"/><stop offset="0.731" stop-color="#c01c22"/><stop offset="0.767" stop-color="#a11b1f"/><stop offset="0.863" stop-color="#411416"/><stop offset="0.903" stop-color="#301214"/><stop offset="0.925" stop-color="#2a1214"/><stop offset="0.93" stop-color="#f2721f"/><stop offset="1" stop-color="#f2721f"/></linearGradient><linearGradient id="b76" href="#bg"><stop offset="0" stop-color="#eb2924"/><stop offset="0.48" stop-color="#eb2824"/><stop offset="0.661" stop-color="#e51e26"/><stop offset="0.709" stop-color="#d51d24"/><stop offset="0.753" stop-color="#c11c22"/><stop offset="0.837" stop-color="#75191a"/><stop offset="0.885" stop-color="#411416"/><stop offset="0.93" stop-color="#2c1214"/><stop offset="0.956" stop-color="#2a1214"/><stop offset="0.96" stop-color="#f2741f"/><stop offset="1" stop-color="#f2741f"/></linearGradient><linearGradient id="b77" href="#bg"><stop offset="0" stop-color="#ec2924"/><stop offset="0.493" stop-color="#eb2924"/><stop offset="0.692" stop-color="#e51e26"/><stop offset="0.736" stop-color="#d61d24"/><stop offset="0.78" stop-color="#c01c22"/><stop offset="0.85" stop-color="#821a1b"/><stop offset="0.877" stop-color="#651719"/><stop offset="0.903" stop-color="#431416"/><stop offset="0.934" stop-color="#311315"/><stop offset="0.956" stop-color="#2a1214"/><stop offset="0.96" stop-color="#f37a1e"/><stop offset="1" stop-color="#f37a1e"/></linearGradient><linearGradient id="b78" href="#bg"><stop offset="0" stop-color="#ec2a24"/><stop offset="0.507" stop-color="#ec2924"/><stop offset="0.718" stop-color="#e61e26"/><stop offset="0.771" stop-color="#d21d24"/><stop offset="0.824" stop-color="#b41c21"/><stop offset="0.872" stop-color="#881a1c"/><stop offset="0.899" stop-color="#681819"/><stop offset="0.925" stop-color="#421416"/><stop offset="0.965" stop-color="#2c1214"/><stop offset="0.987" stop-color="#2a1214"/><stop offset="0.991" stop-color="#f2711f"/><stop offset="1" stop-color="#f2711f"/></linearGradient><linearGradient id="b79" href="#bg"><stop offset="0" stop-color="#ec2b24"/><stop offset="0.485" stop-color="#ec2b24"/><stop offset="0.749" stop-color="#e61e26"/><stop offset="0.841" stop-color="#c01c22"/><stop offset="0.855" stop-color="#b61c21"/><stop offset="0.899" stop-color="#8a1a1c"/><stop offset="0.947" stop-color="#431416"/><stop offset="0.987" stop-color="#2a1214"/><stop offset="0.991" stop-color="#f26a1f"/><stop offset="1" stop-color="#f26a1f"/></linearGradient><linearGradient id="b80" href="#bg"><stop offset="0" stop-color="#ec2c24"/><stop offset="0.498" stop-color="#ec2c24"/><stop offset="0.78" stop-color="#e61e26"/><stop offset="0.85" stop-color="#cd1d23"/><stop offset="0.881" stop-color="#be1c22"/><stop offset="0.903" stop-color="#a81b1f"/><stop offset="0.921" stop-color="#921b1d"/><stop offset="0.947" stop-color="#6c1819"/><stop offset="0.969" stop-color="#441416"/><stop offset="1" stop-color="#2b1214"/></linearGradient><linearGradient id="b81" href="#bg"><stop offset="0" stop-color="#ec2e24"/><stop offset="0.511" stop-color="#ec2d24"/><stop offset="0.815" stop-color="#e61e26"/><stop offset="0.872" stop-color="#d51d24"/><stop offset="0.916" stop-color="#bd1c22"/><stop offset="0.956" stop-color="#8d1a1c"/><stop offset="0.974" stop-color="#6e181a"/><stop offset="0.991" stop-color="#461416"/><stop offset="1" stop-color="#3a1315"/></linearGradient><linearGradient id="b82" href="#bg"><stop offset="0" stop-color="#ec2f24"/><stop offset="0.52" stop-color="#ec2f24"/><stop offset="0.868" stop-color="#e61e26"/><stop offset="0.907" stop-color="#d91d25"/><stop offset="0.956" stop-color="#be1c22"/><stop offset="0.978" stop-color="#a11b1f"/><stop offset="0.991" stop-color="#871a1c"/><stop offset="1" stop-color="#72191a"/></linearGradient><linearGradient id="b83" href="#bg"><stop offset="0" stop-color="#ed3124"/><stop offset="0.533" stop-color="#ed3024"/><stop offset="0.916" stop-color="#e61f26"/><stop offset="0.969" stop-color="#d61d24"/><stop offset="0.987" stop-color="#cb1d23"/><stop offset="1" stop-color="#be1c22"/></linearGradient><linearGradient id="b84" href="#bg"><stop offset="0" stop-color="#ed3223"/><stop offset="0.542" stop-color="#ed3224"/><stop offset="1" stop-color="#e61f26"/></linearGradient><linearGradient id="b85" href="#bg"><stop offset="0" stop-color="#ed3423"/><stop offset="0.537" stop-color="#ed3323"/><stop offset="0.802" stop-color="#eb2924"/><stop offset="1" stop-color="#ea2725"/></linearGradient><linearGradient id="b86" href="#bg"><stop offset="0" stop-color="#ed3523"/><stop offset="0.546" stop-color="#ed3523"/><stop offset="0.93" stop-color="#ec2a24"/><stop offset="1" stop-color="#ec2e24"/></linearGradient><linearGradient id="b87" href="#bg"><stop offset="0" stop-color="#ed3723"/><stop offset="0.546" stop-color="#ed3723"/><stop offset="0.802" stop-color="#ed2f24"/><stop offset="0.934" stop-color="#ed3024"/><stop offset="1" stop-color="#ed3423"/></linearGradient><linearGradient id="b88" href="#bg"><stop offset="0" stop-color="#ed3823"/><stop offset="0.546" stop-color="#ed3823"/><stop offset="0.802" stop-color="#ed3323"/><stop offset="1" stop-color="#ed3723"/></linearGradient><linearGradient id="b89" href="#bg"><stop offset="0" stop-color="#ed3a23"/><stop offset="0.546" stop-color="#ed3a23"/><stop offset="0.802" stop-color="#ed3623"/><stop offset="1" stop-color="#ed3a23"/></linearGradient><linearGradient id="b90" href="#bg"><stop offset="0" stop-color="#ee3b23"/><stop offset="0.802" stop-color="#ed3823"/><stop offset="1" stop-color="#ee3b23"/></linearGradient><linearGradient id="b91" href="#bg"><stop offset="0" stop-color="#ee3d23"/><stop offset="1" stop-color="#ee3d23"/></linearGradient><linearGradient id="b92" href="#bg"><stop offset="0" stop-color="#ee3f23"/><stop offset="1" stop-color="#ee3f23"/></linearGradient><linearGradient id="b93" href="#bg"><stop offset="0" stop-color="#ee4023"/><stop offset="1" stop-color="#ee4023"/></linearGradient><linearGradient id="b94" href="#bg"><stop offset="0" stop-color="#ee4223"/><stop offset="1" stop-color="#ee4223"/></linearGradient><linearGradient id="b95" href="#bg"><stop offset="0" stop-color="#ee4322"/><stop offset="1" stop-color="#ee4322"/></linearGradient><linearGradient id="b96" href="#bg"><stop offset="0" stop-color="#ef4522"/><stop offset="1" stop-color="#ef4522"/></linearGradient><linearGradient id="b97" href="#bg"><stop offset="0" stop-color="#ef4722"/><stop offset="1" stop-color="#ef4722"/></linearGradient><linearGradient id="b98" href="#bg"><stop offset="0" stop-color="#ef4822"/><stop offset="1" stop-color="#ef4822"/></linearGradient><linearGradient id="b99" href="#bg"><stop offset="0" stop-color="#ef4a22"/><stop offset="1" stop-color="#ef4a22"/></linearGradient><clipPath id="clb"><rect x="393.0" y="27.4" width="236.7" height="226.8"/></clipPath><linearGradient id="cg" gradientUnits="userSpaceOnUse" x1="0" y1="27.4" x2="0" y2="254.2"/><linearGradient id="c0" href="#cg"><stop offset="0" stop-color="#fffffe"/><stop offset="0.088" stop-color="#f9f895"/><stop offset="0.172" stop-color="#f5f243"/><stop offset="0.273" stop-color="#f3ee1b"/><stop offset="0.352" stop-color="#f5e412"/><stop offset="0.41" stop-color="#f9c014"/><stop offset="0.537" stop-color="#f37b1e"/><stop offset="0.595" stop-color="#f05821"/><stop offset="0.696" stop-color="#ec2b24"/><stop offset="0.811" stop-color="#e61e26"/><stop offset="0.85" stop-color="#d61d24"/><stop offset="0.952" stop-color="#c01c22"/><stop offset="1" stop-color="#b01c20"/></linearGradient><linearGradient id="c1" href="#cg"><stop offset="0" stop-color="#fffff8"/><stop offset="0.084" stop-color="#f9f894"/><stop offset="0.167" stop-color="#f5f242"/><stop offset="0.269" stop-color="#f3ee1a"/><stop offset="0.344" stop-color="#f5e612"/><stop offset="0.405" stop-color="#f9c014"/><stop offset="0.533" stop-color="#f37c1e"/><stop offset="0.59" stop-color="#f05821"/><stop offset="0.692" stop-color="#ec2b24"/><stop offset="0.811" stop-color="#e51e26"/><stop offset="0.85" stop-color="#d51d24"/><stop offset="0.943" stop-color="#bf1c22"/><stop offset="1" stop-color="#ab1b20"/></linearGradient><linearGradient id="c2" href="#cg"><stop offset="0" stop-color="#fefeec"/><stop offset="0.07" stop-color="#f9f897"/><stop offset="0.159" stop-color="#f5f240"/><stop offset="0.26" stop-color="#f3ee1a"/><stop offset="0.335" stop-color="#f5e512"/><stop offset="0.396" stop-color="#f9bf14"/><stop offset="0.524" stop-color="#f37c1e"/><stop offset="0.581" stop-color="#f05821"/><stop offset="0.683" stop-color="#ec2b24"/><stop offset="0.806" stop-color="#e51e26"/><stop offset="0.85" stop-color="#d11d24"/><stop offset="0.907" stop-color="#c01c22"/><stop offset="1" stop-color="#981b1e"/></linearGradient><linearGradient id="c3" href="#cg"><stop offset="0" stop-color="#fdfddb"/><stop offset="0.057" stop-color="#f9f895"/><stop offset="0.145" stop-color="#f5f240"/><stop offset="0.247" stop-color="#f3ee1a"/><stop offset="0.322" stop-color="#f5e512"/><stop offset="0.383" stop-color="#f9c014"/><stop offset="0.511" stop-color="#f37d1e"/><stop offset="0.568" stop-color="#f05921"/><stop offset="0.665" stop-color="#ec2d24"/><stop offset="0.797" stop-color="#e61e26"/><stop offset="0.877" stop-color="#c01c22"/><stop offset="1" stop-color="#78191a"/></linearGradient><linearGradient id="c4" href="#cg"><stop offset="0" stop-color="#fcfbc7"/><stop offset="0.04" stop-color="#f9f896"/><stop offset="0.128" stop-color="#f5f240"/><stop offset="0.229" stop-color="#f3ee1a"/><stop offset="0.304" stop-color="#f5e512"/><stop offset="0.37" stop-color="#f9bf14"/><stop offset="0.498" stop-color="#f37d1e"/><stop offset="0.555" stop-color="#f05921"/><stop offset="0.652" stop-color="#ec2d24"/><stop offset="0.793" stop-color="#e61e26"/><stop offset="0.868" stop-color="#c01c22"/><stop offset="1" stop-color="#6d1819"/></linearGradient><linearGradient id="c5" href="#cg"><stop offset="0" stop-color="#fbfab0"/><stop offset="0.022" stop-color="#f9f895"/><stop offset="0.11" stop-color="#f5f240"/><stop offset="0.211" stop-color="#f3ee1a"/><stop offset="0.286" stop-color="#f5e512"/><stop offset="0.352" stop-color="#f9bf14"/><stop offset="0.454" stop-color="#f58e1c"/><stop offset="0.568" stop-color="#ef4a22"/><stop offset="0.639" stop-color="#ec2c24"/><stop offset="0.797" stop-color="#e51e26"/><stop offset="0.89" stop-color="#bf1c22"/><stop offset="1" stop-color="#851a1c"/></linearGradient><linearGradient id="c6" href="#cg"><stop offset="0" stop-color="#f9f89b"/><stop offset="0.093" stop-color="#f5f240"/><stop offset="0.194" stop-color="#f3ee1a"/><stop offset="0.269" stop-color="#f5e512"/><stop offset="0.335" stop-color="#f9c014"/><stop offset="0.441" stop-color="#f58e1c"/><stop offset="0.555" stop-color="#ef4a22"/><stop offset="0.626" stop-color="#ec2c24"/><stop offset="0.793" stop-color="#e61e26"/><stop offset="0.925" stop-color="#c01c22"/><stop offset="1" stop-color="#a21b1f"/></linearGradient><linearGradient id="c7" href="#cg"><stop offset="0" stop-color="#f8f78b"/><stop offset="0.075" stop-color="#f5f241"/><stop offset="0.181" stop-color="#f3ee1a"/><stop offset="0.251" stop-color="#f5e612"/><stop offset="0.322" stop-color="#f9c014"/><stop offset="0.427" stop-color="#f58f1c"/><stop offset="0.542" stop-color="#ef4b22"/><stop offset="0.617" stop-color="#ec2c24"/><stop offset="0.793" stop-color="#e61e26"/><stop offset="0.938" stop-color="#c01c22"/><stop offset="1" stop-color="#aa1b20"/></linearGradient><linearGradient id="c8" href="#cg"><stop offset="0" stop-color="#f8f67f"/><stop offset="0.066" stop-color="#f5f23f"/><stop offset="0.163" stop-color="#f3ee1b"/><stop offset="0.238" stop-color="#f5e612"/><stop offset="0.313" stop-color="#f9bf14"/><stop offset="0.419" stop-color="#f58f1c"/><stop offset="0.537" stop-color="#ef4a22"/><stop offset="0.608" stop-color="#ec2d24"/><stop offset="0.793" stop-color="#e51e26"/><stop offset="0.907" stop-color="#bf1c22"/><stop offset="1" stop-color="#951b1d"/></linearGradient><linearGradient id="c9" href="#cg"><stop offset="0" stop-color="#f8f679"/><stop offset="0.062" stop-color="#f5f23f"/><stop offset="0.159" stop-color="#f3ee1a"/><stop offset="0.229" stop-color="#f5e612"/><stop offset="0.308" stop-color="#f9bf14"/><stop offset="0.414" stop-color="#f58f1c"/><stop offset="0.537" stop-color="#ef4a22"/><stop offset="0.608" stop-color="#ec2c24"/><stop offset="0.789" stop-color="#e61e26"/><stop offset="0.877" stop-color="#c11c22"/><stop offset="1" stop-color="#77191a"/></linearGradient><linearGradient id="c10" href="#cg"><stop offset="0" stop-color="#f8f677"/><stop offset="0.057" stop-color="#f5f240"/><stop offset="0.154" stop-color="#f3ee1b"/><stop offset="0.229" stop-color="#f5e612"/><stop offset="0.304" stop-color="#f9c014"/><stop offset="0.449" stop-color="#f37d1e"/><stop offset="0.537" stop-color="#ef4b22"/><stop offset="0.612" stop-color="#ec2c24"/><stop offset="0.789" stop-color="#e61e26"/><stop offset="0.877" stop-color="#bf1c22"/><stop offset="1" stop-color="#73191a"/></linearGradient><linearGradient id="c11" href="#cg"><stop offset="0" stop-color="#f8f679"/><stop offset="0.057" stop-color="#f5f240"/><stop offset="0.159" stop-color="#f3ee1a"/><stop offset="0.229" stop-color="#f5e612"/><stop offset="0.308" stop-color="#f9bf14"/><stop offset="0.454" stop-color="#f37d1e"/><stop offset="0.546" stop-color="#ef4a22"/><stop offset="0.617" stop-color="#ec2c24"/><stop offset="0.793" stop-color="#e61e26"/><stop offset="0.899" stop-color="#bf1c22"/><stop offset="1" stop-color="#8d1a1c"/></linearGradient><linearGradient id="c12" href="#cg"><stop offset="0" stop-color="#f8f67c"/><stop offset="0.062" stop-color="#f5f240"/><stop offset="0.159" stop-color="#f3ee1b"/><stop offset="0.233" stop-color="#f5e612"/><stop offset="0.313" stop-color="#f9be14"/><stop offset="0.458" stop-color="#f37d1e"/><stop offset="0.555" stop-color="#ef4922"/><stop offset="0.626" stop-color="#ec2c24"/><stop offset="0.793" stop-color="#e61e26"/><stop offset="0.93" stop-color="#c11c22"/><stop offset="1" stop-color="#a61b1f"/></linearGradient><linearGradient id="c13" href="#cg"><stop offset="0" stop-color="#f8f680"/><stop offset="0.066" stop-color="#f5f240"/><stop offset="0.163" stop-color="#f3ee1b"/><stop offset="0.238" stop-color="#f5e612"/><stop offset="0.317" stop-color="#f9be14"/><stop offset="0.467" stop-color="#f37c1e"/><stop offset="0.564" stop-color="#ef4922"/><stop offset="0.634" stop-color="#ec2c24"/><stop offset="0.797" stop-color="#e51e26"/><stop offset="0.925" stop-color="#bf1c22"/><stop offset="1" stop-color="#a21b1f"/></linearGradient><linearGradient id="c14" href="#cg"><stop offset="0" stop-color="#f8f785"/><stop offset="0.07" stop-color="#f5f240"/><stop offset="0.172" stop-color="#f3ee1a"/><stop offset="0.242" stop-color="#f5e612"/><stop offset="0.322" stop-color="#f9bf14"/><stop offset="0.471" stop-color="#f37d1e"/><stop offset="0.573" stop-color="#ef4922"/><stop offset="0.643" stop-color="#ec2c24"/><stop offset="0.797" stop-color="#e51e26"/><stop offset="0.885" stop-color="#c01c22"/><stop offset="1" stop-color="#821a1b"/></linearGradient><linearGradient id="c15" href="#cg"><stop offset="0" stop-color="#f8f78a"/><stop offset="0.075" stop-color="#f5f240"/><stop offset="0.176" stop-color="#f3ee1a"/><stop offset="0.251" stop-color="#f5e612"/><stop offset="0.326" stop-color="#f9bf14"/><stop offset="0.48" stop-color="#f37c1e"/><stop offset="0.581" stop-color="#ef4922"/><stop offset="0.652" stop-color="#ec2c24"/><stop offset="0.793" stop-color="#e61e26"/><stop offset="0.868" stop-color="#c01c22"/><stop offset="1" stop-color="#6c1819"/></linearGradient><linearGradient id="c16" href="#cg"><stop offset="0" stop-color="#f9f78f"/><stop offset="0.079" stop-color="#f5f241"/><stop offset="0.181" stop-color="#f3ee1a"/><stop offset="0.256" stop-color="#f5e612"/><stop offset="0.33" stop-color="#f9c014"/><stop offset="0.489" stop-color="#f37b1e"/><stop offset="0.586" stop-color="#ef4b22"/><stop offset="0.656" stop-color="#ec2d24"/><stop offset="0.797" stop-color="#e61e26"/><stop offset="0.881" stop-color="#c01c22"/><stop offset="1" stop-color="#7e1a1b"/></linearGradient><linearGradient id="c17" href="#cg"><stop offset="0" stop-color="#f9f892"/><stop offset="0.084" stop-color="#f5f240"/><stop offset="0.185" stop-color="#f3ee1a"/><stop offset="0.26" stop-color="#f5e612"/><stop offset="0.335" stop-color="#f9c014"/><stop offset="0.493" stop-color="#f37c1e"/><stop offset="0.595" stop-color="#ef4922"/><stop offset="0.665" stop-color="#ec2c24"/><stop offset="0.802" stop-color="#e61e26"/><stop offset="0.85" stop-color="#d31d24"/><stop offset="0.921" stop-color="#bf1c22"/><stop offset="1" stop-color="#9f1b1e"/></linearGradient><linearGradient id="c18" href="#cg"><stop offset="0" stop-color="#f9f895"/><stop offset="0.088" stop-color="#f5f23f"/><stop offset="0.189" stop-color="#f3ee1a"/><stop offset="0.264" stop-color="#f5e512"/><stop offset="0.339" stop-color="#f9bf14"/><stop offset="0.498" stop-color="#f37b1e"/><stop offset="0.599" stop-color="#ef4922"/><stop offset="0.67" stop-color="#ec2c24"/><stop offset="0.802" stop-color="#e61e26"/><stop offset="0.899" stop-color="#bf1c22"/><stop offset="1" stop-color="#861a1c"/></linearGradient><linearGradient id="c19" href="#cg"><stop offset="0" stop-color="#f9f896"/><stop offset="0.088" stop-color="#f5f240"/><stop offset="0.189" stop-color="#f3ee1a"/><stop offset="0.264" stop-color="#f5e512"/><stop offset="0.339" stop-color="#f9bf14"/><stop offset="0.498" stop-color="#f37c1e"/><stop offset="0.599" stop-color="#ef4a22"/><stop offset="0.67" stop-color="#ec2c24"/><stop offset="0.802" stop-color="#e61e26"/><stop offset="0.894" stop-color="#c01c22"/><stop offset="1" stop-color="#831a1b"/></linearGradient><linearGradient id="c20" href="#cg"><stop offset="0" stop-color="#f9f894"/><stop offset="0.084" stop-color="#f5f242"/><stop offset="0.189" stop-color="#f3ee1a"/><stop offset="0.26" stop-color="#f5e612"/><stop offset="0.339" stop-color="#f9bf14"/><stop offset="0.498" stop-color="#f37b1e"/><stop offset="0.599" stop-color="#ef4922"/><stop offset="0.67" stop-color="#ec2c24"/><stop offset="0.802" stop-color="#e61e26"/><stop offset="0.85" stop-color="#d21d24"/><stop offset="0.916" stop-color="#c01c22"/><stop offset="1" stop-color="#9f1b1e"/></linearGradient><linearGradient id="c21" href="#cg"><stop offset="0" stop-color="#f9f78e"/><stop offset="0.079" stop-color="#f5f240"/><stop offset="0.181" stop-color="#f3ee1a"/><stop offset="0.256" stop-color="#f5e512"/><stop offset="0.335" stop-color="#f9be14"/><stop offset="0.493" stop-color="#f37c1e"/><stop offset="0.595" stop-color="#ef4b22"/><stop offset="0.67" stop-color="#ec2c24"/><stop offset="0.797" stop-color="#e61e26"/><stop offset="0.881" stop-color="#c01c22"/><stop offset="1" stop-color="#7f1a1b"/></linearGradient><linearGradient id="c22" href="#cg"><stop offset="0" stop-color="#f8f785"/><stop offset="0.07" stop-color="#f5f240"/><stop offset="0.172" stop-color="#f3ee1a"/><stop offset="0.247" stop-color="#f5e612"/><stop offset="0.326" stop-color="#f9c014"/><stop offset="0.489" stop-color="#f37d1e"/><stop offset="0.595" stop-color="#ef4a22"/><stop offset="0.67" stop-color="#ec2c24"/><stop offset="0.793" stop-color="#e61f26"/><stop offset="0.863" stop-color="#c01c22"/><stop offset="0.943" stop-color="#8b1a1c"/><stop offset="1" stop-color="#691819"/></linearGradient><linearGradient id="c23" href="#cg"><stop offset="0" stop-color="#f8f67d"/><stop offset="0.066" stop-color="#f5f23f"/><stop offset="0.163" stop-color="#f3ee1a"/><stop offset="0.233" stop-color="#f5e612"/><stop offset="0.322" stop-color="#f9bf14"/><stop offset="0.489" stop-color="#f37d1e"/><stop offset="0.595" stop-color="#ef4a22"/><stop offset="0.67" stop-color="#ec2d24"/><stop offset="0.797" stop-color="#e61e26"/><stop offset="0.877" stop-color="#c01c22"/><stop offset="1" stop-color="#7a191a"/></linearGradient><linearGradient id="c24" href="#cg"><stop offset="0" stop-color="#f8f678"/><stop offset="0.057" stop-color="#f5f240"/><stop offset="0.159" stop-color="#f3ee1a"/><stop offset="0.229" stop-color="#f5e612"/><stop offset="0.322" stop-color="#f9be14"/><stop offset="0.493" stop-color="#f37c1e"/><stop offset="0.599" stop-color="#ef4a22"/><stop offset="0.678" stop-color="#ec2c24"/><stop offset="0.802" stop-color="#e61e26"/><stop offset="0.85" stop-color="#d21d24"/><stop offset="0.912" stop-color="#c01c22"/><stop offset="1" stop-color="#9b1b1e"/></linearGradient><linearGradient id="c25" href="#cg"><stop offset="0" stop-color="#f8f676"/><stop offset="0.057" stop-color="#f5f23f"/><stop offset="0.154" stop-color="#f3ee1a"/><stop offset="0.229" stop-color="#f5e612"/><stop offset="0.322" stop-color="#f9bf14"/><stop offset="0.498" stop-color="#f37d1e"/><stop offset="0.608" stop-color="#ef4a22"/><stop offset="0.692" stop-color="#ec2b24"/><stop offset="0.811" stop-color="#e51e26"/><stop offset="0.85" stop-color="#d51d24"/><stop offset="0.943" stop-color="#c01c22"/><stop offset="1" stop-color="#ac1b20"/></linearGradient><linearGradient id="c26" href="#cg"><stop offset="0" stop-color="#f7f56b"/><stop offset="0.044" stop-color="#f5f240"/><stop offset="0.145" stop-color="#f3ee1a"/><stop offset="0.216" stop-color="#f5e612"/><stop offset="0.313" stop-color="#f9bf14"/><stop offset="0.498" stop-color="#f37c1e"/><stop offset="0.608" stop-color="#ef4a22"/><stop offset="0.692" stop-color="#ec2c24"/><stop offset="0.811" stop-color="#e61e26"/><stop offset="0.85" stop-color="#d61d24"/><stop offset="0.947" stop-color="#c01c22"/><stop offset="1" stop-color="#ae1b20"/></linearGradient><linearGradient id="c27" href="#cg"><stop offset="0" stop-color="#f6f355"/><stop offset="0.022" stop-color="#f5f240"/><stop offset="0.119" stop-color="#f3ee1b"/><stop offset="0.194" stop-color="#f5e612"/><stop offset="0.295" stop-color="#f9bf14"/><stop offset="0.436" stop-color="#f58e1c"/><stop offset="0.595" stop-color="#ef4a22"/><stop offset="0.683" stop-color="#ec2b24"/><stop offset="0.802" stop-color="#e61e26"/><stop offset="0.85" stop-color="#d21d24"/><stop offset="0.921" stop-color="#c01c22"/><stop offset="1" stop-color="#a11b1f"/></linearGradient><linearGradient id="c28" href="#cg"><stop offset="0" stop-color="#f5f23d"/><stop offset="0.093" stop-color="#f3ee1a"/><stop offset="0.167" stop-color="#f5e612"/><stop offset="0.269" stop-color="#f9bf14"/><stop offset="0.414" stop-color="#f58f1c"/><stop offset="0.577" stop-color="#ef4a22"/><stop offset="0.661" stop-color="#ec2d24"/><stop offset="0.793" stop-color="#e61e26"/><stop offset="0.881" stop-color="#c01c22"/><stop offset="1" stop-color="#831a1b"/></linearGradient><linearGradient id="c29" href="#cg"><stop offset="0" stop-color="#f4f134"/><stop offset="0.066" stop-color="#f3ee1a"/><stop offset="0.145" stop-color="#f5e512"/><stop offset="0.242" stop-color="#f9c014"/><stop offset="0.396" stop-color="#f58e1c"/><stop offset="0.559" stop-color="#ef4922"/><stop offset="0.643" stop-color="#ec2d24"/><stop offset="0.784" stop-color="#e61e26"/><stop offset="0.859" stop-color="#bf1c22"/><stop offset="0.938" stop-color="#8a1a1c"/><stop offset="1" stop-color="#661719"/></linearGradient><linearGradient id="c30" href="#cg"><stop offset="0" stop-color="#f4f02d"/><stop offset="0.048" stop-color="#f3ee1a"/><stop offset="0.123" stop-color="#f5e612"/><stop offset="0.225" stop-color="#f9c014"/><stop offset="0.379" stop-color="#f58f1c"/><stop offset="0.546" stop-color="#ef4a22"/><stop offset="0.634" stop-color="#ec2c24"/><stop offset="0.784" stop-color="#e61e26"/><stop offset="0.859" stop-color="#c01c22"/><stop offset="0.938" stop-color="#8c1a1c"/><stop offset="1" stop-color="#681819"/></linearGradient><linearGradient id="c31" href="#cg"><stop offset="0" stop-color="#f4f02b"/><stop offset="0.044" stop-color="#f3ee1a"/><stop offset="0.119" stop-color="#f5e612"/><stop offset="0.22" stop-color="#f9c014"/><stop offset="0.379" stop-color="#f58e1c"/><stop offset="0.542" stop-color="#ef4a22"/><stop offset="0.63" stop-color="#ec2c24"/><stop offset="0.789" stop-color="#e61e26"/><stop offset="0.885" stop-color="#c01c22"/><stop offset="1" stop-color="#871a1c"/></linearGradient><linearGradient id="c32" href="#cg"><stop offset="0" stop-color="#f4f02c"/><stop offset="0.048" stop-color="#f3ee1a"/><stop offset="0.123" stop-color="#f5e512"/><stop offset="0.225" stop-color="#f9c014"/><stop offset="0.379" stop-color="#f58f1c"/><stop offset="0.546" stop-color="#ef4a22"/><stop offset="0.634" stop-color="#ec2c24"/><stop offset="0.793" stop-color="#e61e26"/><stop offset="0.85" stop-color="#d31d24"/><stop offset="0.925" stop-color="#c01c22"/><stop offset="1" stop-color="#a31b1f"/></linearGradient><linearGradient id="c33" href="#cg"><stop offset="0" stop-color="#f4f02f"/><stop offset="0.053" stop-color="#f3ee1a"/><stop offset="0.132" stop-color="#f5e512"/><stop offset="0.233" stop-color="#f9bf14"/><stop offset="0.388" stop-color="#f58e1c"/><stop offset="0.551" stop-color="#ef4b22"/><stop offset="0.643" stop-color="#ec2c24"/><stop offset="0.797" stop-color="#e61e26"/><stop offset="0.899" stop-color="#c11c22"/><stop offset="1" stop-color="#8b1a1c"/></linearGradient><linearGradient id="c34" href="#cg"><stop offset="0" stop-color="#f4f132"/><stop offset="0.066" stop-color="#f3ee1a"/><stop offset="0.141" stop-color="#f5e512"/><stop offset="0.242" stop-color="#f9c014"/><stop offset="0.396" stop-color="#f58f1c"/><stop offset="0.564" stop-color="#ef4a22"/><stop offset="0.652" stop-color="#ec2c24"/><stop offset="0.802" stop-color="#e61e26"/><stop offset="0.894" stop-color="#bf1c22"/><stop offset="1" stop-color="#7f1a1b"/></linearGradient><linearGradient id="c35" href="#cg"><stop offset="0" stop-color="#f5f137"/><stop offset="0.075" stop-color="#f3ee1a"/><stop offset="0.15" stop-color="#f5e612"/><stop offset="0.256" stop-color="#f9bf14"/><stop offset="0.41" stop-color="#f58e1c"/><stop offset="0.573" stop-color="#ef4b22"/><stop offset="0.661" stop-color="#ec2d24"/><stop offset="0.802" stop-color="#e61e26"/><stop offset="0.912" stop-color="#c11c22"/><stop offset="1" stop-color="#981b1e"/></linearGradient><linearGradient id="c36" href="#cg"><stop offset="0" stop-color="#f5f13a"/><stop offset="0.084" stop-color="#f3ee1b"/><stop offset="0.163" stop-color="#f5e512"/><stop offset="0.264" stop-color="#f9c014"/><stop offset="0.419" stop-color="#f58f1c"/><stop offset="0.581" stop-color="#ef4b22"/><stop offset="0.674" stop-color="#ec2c24"/><stop offset="0.806" stop-color="#e61e26"/><stop offset="0.907" stop-color="#bf1c22"/><stop offset="1" stop-color="#901b1d"/></linearGradient><linearGradient id="c37" href="#cg"><stop offset="0" stop-color="#f5f23d"/><stop offset="0.093" stop-color="#f3ee1a"/><stop offset="0.167" stop-color="#f5e612"/><stop offset="0.273" stop-color="#f9bf14"/><stop offset="0.427" stop-color="#f58e1c"/><stop offset="0.59" stop-color="#ef4a22"/><stop offset="0.678" stop-color="#ec2c24"/><stop offset="0.806" stop-color="#e61e26"/><stop offset="0.89" stop-color="#c11c22"/><stop offset="1" stop-color="#7e1a1b"/></linearGradient><linearGradient id="c38" href="#cg"><stop offset="0" stop-color="#f5f23e"/><stop offset="0.093" stop-color="#f3ee1a"/><stop offset="0.167" stop-color="#f5e612"/><stop offset="0.273" stop-color="#f9c014"/><stop offset="0.432" stop-color="#f58e1c"/><stop offset="0.59" stop-color="#ef4b22"/><stop offset="0.683" stop-color="#ec2c24"/><stop offset="0.806" stop-color="#e61e26"/><stop offset="0.907" stop-color="#c01c22"/><stop offset="1" stop-color="#921b1d"/></linearGradient><linearGradient id="c39" href="#cg"><stop offset="0" stop-color="#f5f23c"/><stop offset="0.088" stop-color="#f3ee1b"/><stop offset="0.167" stop-color="#f5e512"/><stop offset="0.269" stop-color="#f9c014"/><stop offset="0.427" stop-color="#f58e1c"/><stop offset="0.586" stop-color="#ef4b22"/><stop offset="0.683" stop-color="#ec2b24"/><stop offset="0.806" stop-color="#e61e26"/><stop offset="0.85" stop-color="#d51d24"/><stop offset="0.934" stop-color="#c01c22"/><stop offset="1" stop-color="#a71b1f"/></linearGradient><linearGradient id="c40" href="#cg"><stop offset="0" stop-color="#f5f138"/><stop offset="0.079" stop-color="#f3ee1a"/><stop offset="0.154" stop-color="#f5e612"/><stop offset="0.26" stop-color="#f9c014"/><stop offset="0.419" stop-color="#f58e1c"/><stop offset="0.577" stop-color="#ef4a22"/><stop offset="0.665" stop-color="#ec2d24"/><stop offset="0.802" stop-color="#e61e26"/><stop offset="0.85" stop-color="#d01d24"/><stop offset="0.899" stop-color="#c01c22"/><stop offset="1" stop-color="#8f1a1d"/></linearGradient><linearGradient id="c41" href="#cg"><stop offset="0" stop-color="#f4f132"/><stop offset="0.066" stop-color="#f3ee1a"/><stop offset="0.141" stop-color="#f5e512"/><stop offset="0.242" stop-color="#f9c014"/><stop offset="0.401" stop-color="#f58f1c"/><stop offset="0.559" stop-color="#ef4b22"/><stop offset="0.652" stop-color="#ec2c24"/><stop offset="0.797" stop-color="#e61e26"/><stop offset="0.872" stop-color="#bf1c22"/><stop offset="1" stop-color="#6f181a"/></linearGradient><linearGradient id="c42" href="#cg"><stop offset="0" stop-color="#f4f02c"/><stop offset="0.048" stop-color="#f3ee1a"/><stop offset="0.123" stop-color="#f5e612"/><stop offset="0.229" stop-color="#f9bf14"/><stop offset="0.388" stop-color="#f58e1c"/><stop offset="0.546" stop-color="#ef4a22"/><stop offset="0.634" stop-color="#ec2c24"/><stop offset="0.784" stop-color="#e61e26"/><stop offset="0.802" stop-color="#e01e25"/><stop offset="0.863" stop-color="#c01c22"/><stop offset="0.943" stop-color="#8b1a1c"/><stop offset="1" stop-color="#681819"/></linearGradient><linearGradient id="c43" href="#cg"><stop offset="0" stop-color="#f4ef26"/><stop offset="0.035" stop-color="#f3ee1a"/><stop offset="0.11" stop-color="#f5e512"/><stop offset="0.211" stop-color="#f9c014"/><stop offset="0.37" stop-color="#f58f1c"/><stop offset="0.529" stop-color="#ef4b22"/><stop offset="0.621" stop-color="#ec2c24"/><stop offset="0.775" stop-color="#e61e26"/><stop offset="0.872" stop-color="#c01c22"/><stop offset="1" stop-color="#7a191b"/></linearGradient><linearGradient id="c44" href="#cg"><stop offset="0" stop-color="#f3ef22"/><stop offset="0.022" stop-color="#f3ee1a"/><stop offset="0.097" stop-color="#f5e612"/><stop offset="0.203" stop-color="#f9c014"/><stop offset="0.361" stop-color="#f58f1c"/><stop offset="0.52" stop-color="#ef4a22"/><stop offset="0.608" stop-color="#ec2d24"/><stop offset="0.762" stop-color="#e61e26"/><stop offset="0.846" stop-color="#bf1c22"/><stop offset="0.93" stop-color="#8d1a1c"/><stop offset="1" stop-color="#681819"/></linearGradient><linearGradient id="c45" href="#cg"><stop offset="0" stop-color="#f3ef21"/><stop offset="0.022" stop-color="#f3ee1a"/><stop offset="0.097" stop-color="#f5e512"/><stop offset="0.198" stop-color="#f9c014"/><stop offset="0.357" stop-color="#f58f1c"/><stop offset="0.515" stop-color="#ef4b22"/><stop offset="0.608" stop-color="#ec2c24"/><stop offset="0.753" stop-color="#e61e26"/><stop offset="0.819" stop-color="#bf1c22"/><stop offset="0.877" stop-color="#8e1a1d"/><stop offset="0.938" stop-color="#611718"/><stop offset="0.987" stop-color="#421416"/><stop offset="1" stop-color="#3f1416"/></linearGradient><linearGradient id="c46" href="#cg"><stop offset="0" stop-color="#f3ef23"/><stop offset="0.026" stop-color="#f3ee1a"/><stop offset="0.101" stop-color="#f5e512"/><stop offset="0.203" stop-color="#f9c114"/><stop offset="0.361" stop-color="#f58f1c"/><stop offset="0.52" stop-color="#ef4b22"/><stop offset="0.612" stop-color="#ec2c24"/><stop offset="0.753" stop-color="#e61e26"/><stop offset="0.806" stop-color="#c01c22"/><stop offset="0.868" stop-color="#801a1b"/><stop offset="0.938" stop-color="#451416"/><stop offset="1" stop-color="#301315"/></linearGradient><linearGradient id="c47" href="#cg"><stop offset="0" stop-color="#f4ef28"/><stop offset="0.035" stop-color="#f3ee1a"/><stop offset="0.11" stop-color="#f5e612"/><stop offset="0.216" stop-color="#f9c014"/><stop offset="0.374" stop-color="#f58f1c"/><stop offset="0.533" stop-color="#ef4b22"/><stop offset="0.626" stop-color="#ec2c24"/><stop offset="0.753" stop-color="#e61e26"/><stop offset="0.806" stop-color="#c11c22"/><stop offset="0.868" stop-color="#831a1b"/><stop offset="0.943" stop-color="#441416"/><stop offset="1" stop-color="#321315"/></linearGradient><linearGradient id="c48" href="#cg"><stop offset="0" stop-color="#f4f02c"/><stop offset="0.048" stop-color="#f3ee1a"/><stop offset="0.123" stop-color="#f5e512"/><stop offset="0.229" stop-color="#f9bf14"/><stop offset="0.388" stop-color="#f58e1c"/><stop offset="0.546" stop-color="#ef4a22"/><stop offset="0.634" stop-color="#ec2c24"/><stop offset="0.758" stop-color="#e61e26"/><stop offset="0.819" stop-color="#c11c22"/><stop offset="0.859" stop-color="#9e1b1e"/><stop offset="0.925" stop-color="#6d1819"/><stop offset="0.987" stop-color="#451416"/><stop offset="1" stop-color="#401416"/></linearGradient><linearGradient id="c49" href="#cg"><stop offset="0" stop-color="#f4f02d"/><stop offset="0.048" stop-color="#f3ee1b"/><stop offset="0.128" stop-color="#f5e512"/><stop offset="0.229" stop-color="#f9c014"/><stop offset="0.388" stop-color="#f58f1c"/><stop offset="0.546" stop-color="#ef4b22"/><stop offset="0.639" stop-color="#ec2c24"/><stop offset="0.767" stop-color="#e61e26"/><stop offset="0.837" stop-color="#c01c22"/><stop offset="0.921" stop-color="#891a1c"/><stop offset="1" stop-color="#5d1718"/></linearGradient><linearGradient id="c50" href="#cg"><stop offset="0" stop-color="#f4f029"/><stop offset="0.04" stop-color="#f3ee1a"/><stop offset="0.115" stop-color="#f5e612"/><stop offset="0.22" stop-color="#f9c014"/><stop offset="0.379" stop-color="#f58f1c"/><stop offset="0.537" stop-color="#ef4a22"/><stop offset="0.626" stop-color="#ec2d24"/><stop offset="0.758" stop-color="#e61e26"/><stop offset="0.833" stop-color="#c01c22"/><stop offset="0.916" stop-color="#8a1a1c"/><stop offset="1" stop-color="#5d1718"/></linearGradient><linearGradient id="c51" href="#cg"><stop offset="0" stop-color="#f3ef21"/><stop offset="0.018" stop-color="#f3ee1a"/><stop offset="0.093" stop-color="#f5e612"/><stop offset="0.198" stop-color="#f9c014"/><stop offset="0.357" stop-color="#f58f1c"/><stop offset="0.515" stop-color="#ef4b22"/><stop offset="0.608" stop-color="#ec2c24"/><stop offset="0.744" stop-color="#e61e26"/><stop offset="0.811" stop-color="#c11c22"/><stop offset="0.863" stop-color="#961b1d"/><stop offset="0.925" stop-color="#6b1819"/><stop offset="1" stop-color="#401416"/></linearGradient><linearGradient id="c52" href="#cg"><stop offset="0" stop-color="#f3ed19"/><stop offset="0.07" stop-color="#f5e612"/><stop offset="0.176" stop-color="#f9c014"/><stop offset="0.335" stop-color="#f58f1c"/><stop offset="0.493" stop-color="#ef4a22"/><stop offset="0.586" stop-color="#ec2c24"/><stop offset="0.736" stop-color="#e61e26"/><stop offset="0.793" stop-color="#bf1c22"/><stop offset="0.859" stop-color="#801a1b"/><stop offset="0.934" stop-color="#441416"/><stop offset="1" stop-color="#301214"/></linearGradient><linearGradient id="c53" href="#cg"><stop offset="0" stop-color="#f4ec18"/><stop offset="0.053" stop-color="#f5e612"/><stop offset="0.159" stop-color="#f9c014"/><stop offset="0.317" stop-color="#f5901c"/><stop offset="0.476" stop-color="#ef4b22"/><stop offset="0.568" stop-color="#ec2c24"/><stop offset="0.727" stop-color="#e61e26"/><stop offset="0.78" stop-color="#c21c22"/><stop offset="0.846" stop-color="#7c1a1b"/><stop offset="0.907" stop-color="#441416"/><stop offset="0.965" stop-color="#2f1214"/><stop offset="1" stop-color="#2f1214"/></linearGradient><linearGradient id="c54" href="#cg"><stop offset="0" stop-color="#f4eb17"/><stop offset="0.048" stop-color="#f5e612"/><stop offset="0.159" stop-color="#f9bf14"/><stop offset="0.317" stop-color="#f58f1c"/><stop offset="0.471" stop-color="#ef4b22"/><stop offset="0.564" stop-color="#ec2d24"/><stop offset="0.727" stop-color="#e61e26"/><stop offset="0.784" stop-color="#c01c22"/><stop offset="0.846" stop-color="#801a1b"/><stop offset="0.916" stop-color="#421416"/><stop offset="0.974" stop-color="#301214"/><stop offset="1" stop-color="#2f1214"/></linearGradient><linearGradient id="c55" href="#cg"><stop offset="0" stop-color="#f4eb17"/><stop offset="0.044" stop-color="#f5e612"/><stop offset="0.15" stop-color="#f9c014"/><stop offset="0.313" stop-color="#f58e1c"/><stop offset="0.467" stop-color="#ef4b22"/><stop offset="0.559" stop-color="#ec2d24"/><stop offset="0.731" stop-color="#e61e26"/><stop offset="0.797" stop-color="#c01c22"/><stop offset="0.872" stop-color="#7f1a1b"/><stop offset="0.952" stop-color="#441416"/><stop offset="1" stop-color="#361315"/></linearGradient><linearGradient id="c56" href="#cg"><stop offset="0" stop-color="#f4e915"/><stop offset="0.035" stop-color="#f5e512"/><stop offset="0.141" stop-color="#f9c014"/><stop offset="0.3" stop-color="#f58f1c"/><stop offset="0.454" stop-color="#ef4c22"/><stop offset="0.551" stop-color="#ec2c24"/><stop offset="0.74" stop-color="#e61e26"/><stop offset="0.819" stop-color="#bf1c22"/><stop offset="0.912" stop-color="#7e1a1b"/><stop offset="1" stop-color="#4c1517"/></linearGradient><linearGradient id="c57" href="#cg"><stop offset="0" stop-color="#f5e814"/><stop offset="0.018" stop-color="#f5e612"/><stop offset="0.128" stop-color="#f9bf14"/><stop offset="0.286" stop-color="#f58f1c"/><stop offset="0.441" stop-color="#ef4b22"/><stop offset="0.537" stop-color="#ec2c24"/><stop offset="0.744" stop-color="#e61e26"/><stop offset="0.824" stop-color="#bf1c22"/><stop offset="0.912" stop-color="#7e1a1b"/><stop offset="1" stop-color="#481517"/></linearGradient><linearGradient id="c58" href="#cg"><stop offset="0" stop-color="#f5e612"/><stop offset="0.11" stop-color="#f9c014"/><stop offset="0.273" stop-color="#f58e1c"/><stop offset="0.427" stop-color="#ef4a22"/><stop offset="0.52" stop-color="#ec2d24"/><stop offset="0.74" stop-color="#e61e26"/><stop offset="0.802" stop-color="#c11c22"/><stop offset="0.877" stop-color="#7d1a1b"/><stop offset="0.947" stop-color="#441416"/><stop offset="1" stop-color="#331315"/></linearGradient><linearGradient id="c59" href="#cg"><stop offset="0" stop-color="#f5e312"/><stop offset="0.097" stop-color="#f9c014"/><stop offset="0.26" stop-color="#f58f1c"/><stop offset="0.414" stop-color="#ef4b22"/><stop offset="0.507" stop-color="#ec2d24"/><stop offset="0.74" stop-color="#e61e26"/><stop offset="0.802" stop-color="#be1c22"/><stop offset="0.872" stop-color="#79191a"/><stop offset="0.934" stop-color="#431416"/><stop offset="1" stop-color="#2f1214"/></linearGradient><linearGradient id="c60" href="#cg"><stop offset="0" stop-color="#f6e012"/><stop offset="0.093" stop-color="#f9bf14"/><stop offset="0.251" stop-color="#f58f1c"/><stop offset="0.405" stop-color="#ef4b22"/><stop offset="0.502" stop-color="#ec2c24"/><stop offset="0.74" stop-color="#e61e26"/><stop offset="0.811" stop-color="#c01c22"/><stop offset="0.89" stop-color="#7f1a1b"/><stop offset="0.965" stop-color="#491517"/><stop offset="0.978" stop-color="#411416"/><stop offset="1" stop-color="#3c1315"/></linearGradient><linearGradient id="c61" href="#cg"><stop offset="0" stop-color="#f6e012"/><stop offset="0.088" stop-color="#f9c014"/><stop offset="0.251" stop-color="#f58f1c"/><stop offset="0.405" stop-color="#ef4b22"/><stop offset="0.498" stop-color="#ec2d24"/><stop offset="0.74" stop-color="#e61e26"/><stop offset="0.833" stop-color="#bf1c22"/><stop offset="0.93" stop-color="#811a1b"/><stop offset="1" stop-color="#5a1618"/></linearGradient><linearGradient id="c62" href="#cg"><stop offset="0" stop-color="#f5e112"/><stop offset="0.097" stop-color="#f9bf14"/><stop offset="0.256" stop-color="#f58f1c"/><stop offset="0.41" stop-color="#ef4b22"/><stop offset="0.507" stop-color="#ec2c24"/><stop offset="0.736" stop-color="#e61e26"/><stop offset="0.811" stop-color="#c11c22"/><stop offset="0.907" stop-color="#7b191b"/><stop offset="1" stop-color="#431416"/></linearGradient><linearGradient id="c63" href="#cg"><stop offset="0" stop-color="#f5e512"/><stop offset="0.106" stop-color="#f9c014"/><stop offset="0.269" stop-color="#f58e1c"/><stop offset="0.423" stop-color="#ef4a22"/><stop offset="0.515" stop-color="#ec2c24"/><stop offset="0.731" stop-color="#e61e26"/><stop offset="0.793" stop-color="#c11c22"/><stop offset="0.872" stop-color="#7a191a"/><stop offset="0.943" stop-color="#421416"/><stop offset="1" stop-color="#321315"/></linearGradient><linearGradient id="c64" href="#cg"><stop offset="0" stop-color="#f5e713"/><stop offset="0.119" stop-color="#f9c014"/><stop offset="0.282" stop-color="#f58f1c"/><stop offset="0.436" stop-color="#ef4a22"/><stop offset="0.529" stop-color="#ec2d24"/><stop offset="0.731" stop-color="#e61e26"/><stop offset="0.789" stop-color="#be1c22"/><stop offset="0.85" stop-color="#7f1a1b"/><stop offset="0.916" stop-color="#431416"/><stop offset="0.974" stop-color="#2f1214"/><stop offset="1" stop-color="#2f1214"/></linearGradient><linearGradient id="c65" href="#cg"><stop offset="0" stop-color="#f4e915"/><stop offset="0.026" stop-color="#f5e512"/><stop offset="0.132" stop-color="#f9c014"/><stop offset="0.295" stop-color="#f58f1c"/><stop offset="0.449" stop-color="#ef4a22"/><stop offset="0.542" stop-color="#ec2c24"/><stop offset="0.731" stop-color="#e61e26"/><stop offset="0.793" stop-color="#be1c22"/><stop offset="0.859" stop-color="#7d1a1b"/><stop offset="0.925" stop-color="#451416"/><stop offset="0.978" stop-color="#331315"/><stop offset="1" stop-color="#2f1214"/></linearGradient><linearGradient id="c66" href="#cg"><stop offset="0" stop-color="#f4ea16"/><stop offset="0.035" stop-color="#f5e512"/><stop offset="0.141" stop-color="#f9c014"/><stop offset="0.304" stop-color="#f58f1c"/><stop offset="0.458" stop-color="#ef4a22"/><stop offset="0.551" stop-color="#ec2d24"/><stop offset="0.74" stop-color="#e61e26"/><stop offset="0.806" stop-color="#c01c22"/><stop offset="0.885" stop-color="#7f1a1b"/><stop offset="0.952" stop-color="#511517"/><stop offset="0.974" stop-color="#431416"/><stop offset="1" stop-color="#3c1315"/></linearGradient><linearGradient id="c67" href="#cg"><stop offset="0" stop-color="#f4ea16"/><stop offset="0.04" stop-color="#f5e512"/><stop offset="0.145" stop-color="#f9c014"/><stop offset="0.308" stop-color="#f58f1c"/><stop offset="0.463" stop-color="#ef4a22"/><stop offset="0.555" stop-color="#ec2d24"/><stop offset="0.744" stop-color="#e61e26"/><stop offset="0.828" stop-color="#bf1c22"/><stop offset="0.921" stop-color="#821a1b"/><stop offset="1" stop-color="#571618"/></linearGradient><linearGradient id="c68" href="#cg"><stop offset="0" stop-color="#f4ea16"/><stop offset="0.04" stop-color="#f5e612"/><stop offset="0.15" stop-color="#f9c014"/><stop offset="0.313" stop-color="#f58f1c"/><stop offset="0.463" stop-color="#ef4b22"/><stop offset="0.559" stop-color="#ec2c24"/><stop offset="0.749" stop-color="#e61e26"/><stop offset="0.837" stop-color="#c01c22"/><stop offset="0.925" stop-color="#8a1a1c"/><stop offset="1" stop-color="#641719"/></linearGradient><linearGradient id="c69" href="#cg"><stop offset="0" stop-color="#f4eb17"/><stop offset="0.053" stop-color="#f5e512"/><stop offset="0.159" stop-color="#f9c014"/><stop offset="0.322" stop-color="#f58f1c"/><stop offset="0.441" stop-color="#f05821"/><stop offset="0.568" stop-color="#ec2c24"/><stop offset="0.744" stop-color="#e61e26"/><stop offset="0.819" stop-color="#c01c22"/><stop offset="0.912" stop-color="#7f1a1b"/><stop offset="1" stop-color="#4c1517"/></linearGradient><linearGradient id="c70" href="#cg"><stop offset="0" stop-color="#f3ed19"/><stop offset="0.062" stop-color="#f5e612"/><stop offset="0.172" stop-color="#f9c014"/><stop offset="0.335" stop-color="#f58f1c"/><stop offset="0.454" stop-color="#f05721"/><stop offset="0.581" stop-color="#ec2c24"/><stop offset="0.736" stop-color="#e61e26"/><stop offset="0.802" stop-color="#be1c22"/><stop offset="0.872" stop-color="#811a1b"/><stop offset="0.952" stop-color="#471516"/><stop offset="0.96" stop-color="#421416"/><stop offset="1" stop-color="#381315"/></linearGradient><linearGradient id="c71" href="#cg"><stop offset="0" stop-color="#f3ee1a"/><stop offset="0.075" stop-color="#f5e512"/><stop offset="0.185" stop-color="#f9bf14"/><stop offset="0.344" stop-color="#f5901c"/><stop offset="0.463" stop-color="#f05821"/><stop offset="0.59" stop-color="#ec2d24"/><stop offset="0.731" stop-color="#e61e26"/><stop offset="0.789" stop-color="#be1c22"/><stop offset="0.85" stop-color="#7e1a1b"/><stop offset="0.916" stop-color="#441416"/><stop offset="0.978" stop-color="#301214"/><stop offset="1" stop-color="#2f1214"/></linearGradient><linearGradient id="c72" href="#cg"><stop offset="0" stop-color="#f3ee1c"/><stop offset="0.079" stop-color="#f5e612"/><stop offset="0.189" stop-color="#f9c014"/><stop offset="0.352" stop-color="#f58f1c"/><stop offset="0.471" stop-color="#f05821"/><stop offset="0.599" stop-color="#ec2c24"/><stop offset="0.731" stop-color="#e61e26"/><stop offset="0.784" stop-color="#bf1c22"/><stop offset="0.846" stop-color="#7b1a1b"/><stop offset="0.907" stop-color="#421416"/><stop offset="0.965" stop-color="#2f1214"/><stop offset="1" stop-color="#2f1214"/></linearGradient><linearGradient id="c73" href="#cg"><stop offset="0" stop-color="#f3ee1c"/><stop offset="0.084" stop-color="#f5e512"/><stop offset="0.189" stop-color="#f9c014"/><stop offset="0.352" stop-color="#f5901c"/><stop offset="0.471" stop-color="#f05821"/><stop offset="0.599" stop-color="#ec2c24"/><stop offset="0.736" stop-color="#e61e26"/><stop offset="0.789" stop-color="#c11c22"/><stop offset="0.85" stop-color="#821a1b"/><stop offset="0.925" stop-color="#431416"/><stop offset="0.987" stop-color="#301214"/><stop offset="1" stop-color="#2f1214"/></linearGradient><linearGradient id="c74" href="#cg"><stop offset="0" stop-color="#f3ee1a"/><stop offset="0.075" stop-color="#f5e612"/><stop offset="0.185" stop-color="#f9c014"/><stop offset="0.348" stop-color="#f5901c"/><stop offset="0.467" stop-color="#f05821"/><stop offset="0.595" stop-color="#ec2c24"/><stop offset="0.74" stop-color="#e61e26"/><stop offset="0.806" stop-color="#bf1c22"/><stop offset="0.877" stop-color="#841a1b"/><stop offset="0.943" stop-color="#551618"/><stop offset="0.974" stop-color="#421416"/><stop offset="1" stop-color="#3b1315"/></linearGradient><linearGradient id="c75" href="#cg"><stop offset="0" stop-color="#f3ed19"/><stop offset="0.07" stop-color="#f5e512"/><stop offset="0.176" stop-color="#f9c014"/><stop offset="0.339" stop-color="#f5901c"/><stop offset="0.458" stop-color="#f05821"/><stop offset="0.586" stop-color="#ec2c24"/><stop offset="0.749" stop-color="#e61e26"/><stop offset="0.824" stop-color="#c01c22"/><stop offset="0.916" stop-color="#821a1b"/><stop offset="1" stop-color="#531617"/></linearGradient><linearGradient id="c76" href="#cg"><stop offset="0" stop-color="#f3ec18"/><stop offset="0.057" stop-color="#f5e612"/><stop offset="0.167" stop-color="#f9c014"/><stop offset="0.33" stop-color="#f58f1c"/><stop offset="0.445" stop-color="#f05921"/><stop offset="0.577" stop-color="#ec2c24"/><stop offset="0.749" stop-color="#e61e26"/><stop offset="0.815" stop-color="#c01c22"/><stop offset="0.885" stop-color="#841a1b"/><stop offset="0.947" stop-color="#581618"/><stop offset="0.978" stop-color="#441416"/><stop offset="1" stop-color="#3d1416"/></linearGradient><linearGradient id="c77" href="#cg"><stop offset="0" stop-color="#f4eb17"/><stop offset="0.048" stop-color="#f5e512"/><stop offset="0.159" stop-color="#f9bf14"/><stop offset="0.322" stop-color="#f58f1c"/><stop offset="0.436" stop-color="#f05821"/><stop offset="0.564" stop-color="#ec2c24"/><stop offset="0.744" stop-color="#e61e26"/><stop offset="0.802" stop-color="#c01c22"/><stop offset="0.868" stop-color="#7e1a1b"/><stop offset="0.934" stop-color="#441416"/><stop offset="1" stop-color="#2f1214"/></linearGradient><linearGradient id="c78" href="#cg"><stop offset="0" stop-color="#f4ea16"/><stop offset="0.04" stop-color="#f5e512"/><stop offset="0.15" stop-color="#f9bf14"/><stop offset="0.313" stop-color="#f58f1c"/><stop offset="0.427" stop-color="#f05821"/><stop offset="0.555" stop-color="#ec2c24"/><stop offset="0.744" stop-color="#e61e26"/><stop offset="0.806" stop-color="#be1c22"/><stop offset="0.872" stop-color="#7f1a1b"/><stop offset="0.943" stop-color="#451416"/><stop offset="1" stop-color="#321315"/></linearGradient><linearGradient id="c79" href="#cg"><stop offset="0" stop-color="#f4e915"/><stop offset="0.035" stop-color="#f5e512"/><stop offset="0.141" stop-color="#f9c014"/><stop offset="0.308" stop-color="#f58f1c"/><stop offset="0.423" stop-color="#f05821"/><stop offset="0.551" stop-color="#ec2c24"/><stop offset="0.749" stop-color="#e61e26"/><stop offset="0.819" stop-color="#c11c22"/><stop offset="0.907" stop-color="#7f1a1b"/><stop offset="1" stop-color="#451416"/></linearGradient><clipPath id="clc"><rect x="737.2" y="27.4" width="236.6" height="226.8"/></clipPath><linearGradient id="dg" gradientUnits="userSpaceOnUse" x1="0" y1="355.2" x2="0" y2="582.2"/><linearGradient id="d0" href="#dg"><stop offset="0" stop-color="#f9ba15"/><stop offset="0.388" stop-color="#f9b815"/><stop offset="0.626" stop-color="#f8af17"/><stop offset="0.846" stop-color="#f6981b"/><stop offset="0.93" stop-color="#f58a1c"/><stop offset="1" stop-color="#f3791e"/></linearGradient><linearGradient id="d1" href="#dg"><stop offset="0" stop-color="#f8b616"/><stop offset="0.524" stop-color="#f8b416"/><stop offset="0.678" stop-color="#f8ad17"/><stop offset="0.899" stop-color="#f79d1a"/><stop offset="1" stop-color="#f79c1a"/></linearGradient><linearGradient id="d2" href="#dg"><stop offset="0" stop-color="#f8b216"/><stop offset="0.59" stop-color="#f8b616"/><stop offset="1" stop-color="#f8ae17"/></linearGradient><linearGradient id="d3" href="#dg"><stop offset="0" stop-color="#f8ae17"/><stop offset="0.414" stop-color="#f8b516"/><stop offset="0.833" stop-color="#f8c714"/><stop offset="0.916" stop-color="#f9c414"/><stop offset="1" stop-color="#f9ba15"/></linearGradient><linearGradient id="d4" href="#dg"><stop offset="0" stop-color="#f8aa18"/><stop offset="0.291" stop-color="#f8af17"/><stop offset="0.498" stop-color="#f9b915"/><stop offset="0.661" stop-color="#f8c914"/><stop offset="0.833" stop-color="#f5e612"/><stop offset="1" stop-color="#f3ec18"/></linearGradient><linearGradient id="d5" href="#dg"><stop offset="0" stop-color="#f7a619"/><stop offset="0.3" stop-color="#f8ac17"/><stop offset="0.507" stop-color="#f8b716"/><stop offset="0.652" stop-color="#f8c914"/><stop offset="0.78" stop-color="#f5e512"/><stop offset="0.868" stop-color="#f3ed19"/><stop offset="0.912" stop-color="#f4f029"/><stop offset="0.96" stop-color="#f5f241"/><stop offset="1" stop-color="#f8f67d"/></linearGradient><linearGradient id="d6" href="#dg"><stop offset="0" stop-color="#f7a219"/><stop offset="0.308" stop-color="#f8a818"/><stop offset="0.529" stop-color="#f8b316"/><stop offset="0.687" stop-color="#f9c414"/><stop offset="0.85" stop-color="#f5e612"/><stop offset="0.969" stop-color="#f3ee1a"/><stop offset="1" stop-color="#f3ef1f"/></linearGradient><linearGradient id="d7" href="#dg"><stop offset="0" stop-color="#f79e1a"/><stop offset="0.388" stop-color="#f7a519"/><stop offset="0.841" stop-color="#f8b716"/><stop offset="0.925" stop-color="#f8b616"/><stop offset="1" stop-color="#f8af17"/></linearGradient><linearGradient id="d8" href="#dg"><stop offset="0" stop-color="#f69a1b"/><stop offset="0.643" stop-color="#f79e1a"/><stop offset="0.784" stop-color="#f6981b"/><stop offset="1" stop-color="#f4841d"/></linearGradient><linearGradient id="d9" href="#dg"><stop offset="0" stop-color="#f6951b"/><stop offset="0.471" stop-color="#f6981b"/><stop offset="0.67" stop-color="#f6931b"/><stop offset="0.771" stop-color="#f58b1c"/><stop offset="0.868" stop-color="#f37e1e"/><stop offset="0.938" stop-color="#f26f1f"/><stop offset="1" stop-color="#f15d20"/></linearGradient><linearGradient id="d10" href="#dg"><stop offset="0" stop-color="#f6911b"/><stop offset="0.454" stop-color="#f6931b"/><stop offset="0.656" stop-color="#f5901c"/><stop offset="0.828" stop-color="#f4871d"/><stop offset="1" stop-color="#f2731f"/></linearGradient><linearGradient id="d11" href="#dg"><stop offset="0" stop-color="#f58d1c"/><stop offset="0.608" stop-color="#f5901c"/><stop offset="1" stop-color="#f6991b"/></linearGradient><linearGradient id="d12" href="#dg"><stop offset="0" stop-color="#f5891c"/><stop offset="0.449" stop-color="#f58b1c"/><stop offset="0.687" stop-color="#f6941b"/><stop offset="0.784" stop-color="#f79c1a"/><stop offset="0.85" stop-color="#f7a519"/><stop offset="0.93" stop-color="#f8b516"/><stop offset="1" stop-color="#f8c914"/></linearGradient><linearGradient id="d13" href="#dg"><stop offset="0" stop-color="#f4851d"/><stop offset="0.432" stop-color="#f4871d"/><stop offset="0.674" stop-color="#f5901c"/><stop offset="0.841" stop-color="#f7a01a"/><stop offset="0.925" stop-color="#f8b117"/><stop offset="1" stop-color="#f8c514"/></linearGradient><linearGradient id="d14" href="#dg"><stop offset="0" stop-color="#f4801d"/><stop offset="0.48" stop-color="#f4831d"/><stop offset="0.912" stop-color="#f5911c"/><stop offset="1" stop-color="#f5911c"/></linearGradient><linearGradient id="d15" href="#dg"><stop offset="0" stop-color="#f37c1e"/><stop offset="0.744" stop-color="#f37e1e"/><stop offset="0.85" stop-color="#f37b1e"/><stop offset="1" stop-color="#f26f1f"/></linearGradient><linearGradient id="d16" href="#dg"><stop offset="0" stop-color="#f3781e"/><stop offset="0.736" stop-color="#f3771e"/><stop offset="0.877" stop-color="#f26f1f"/><stop offset="1" stop-color="#f05c21"/></linearGradient><linearGradient id="d17" href="#dg"><stop offset="0" stop-color="#f3771e"/><stop offset="0.841" stop-color="#f3781e"/><stop offset="1" stop-color="#f2731f"/></linearGradient><linearGradient id="d18" href="#dg"><stop offset="0" stop-color="#f2741f"/><stop offset="0.652" stop-color="#f2751f"/><stop offset="0.828" stop-color="#f37f1e"/><stop offset="1" stop-color="#f6921b"/></linearGradient><linearGradient id="d19" href="#dg"><stop offset="0" stop-color="#f2721f"/><stop offset="0.48" stop-color="#f26f1f"/><stop offset="0.67" stop-color="#f2721f"/><stop offset="0.85" stop-color="#f3801e"/><stop offset="1" stop-color="#f6991b"/></linearGradient><linearGradient id="d20" href="#dg"><stop offset="0" stop-color="#f26f1f"/><stop offset="0.661" stop-color="#f26c1f"/><stop offset="0.797" stop-color="#f2701f"/><stop offset="1" stop-color="#f37e1e"/></linearGradient><linearGradient id="d21" href="#dg"><stop offset="0" stop-color="#f26d1f"/><stop offset="0.775" stop-color="#f16320"/><stop offset="1" stop-color="#f16820"/></linearGradient><linearGradient id="d22" href="#dg"><stop offset="0" stop-color="#f26a1f"/><stop offset="0.449" stop-color="#f16420"/><stop offset="0.872" stop-color="#f05421"/><stop offset="1" stop-color="#f05821"/></linearGradient><linearGradient id="d23" href="#dg"><stop offset="0" stop-color="#f16820"/><stop offset="0.48" stop-color="#f15f20"/><stop offset="0.894" stop-color="#ef4722"/><stop offset="1" stop-color="#e42"/></linearGradient><linearGradient id="d24" href="#dg"><stop offset="0" stop-color="#f16720"/><stop offset="0.317" stop-color="#f16320"/><stop offset="0.559" stop-color="#f05921"/><stop offset="0.727" stop-color="#ef4d22"/><stop offset="1" stop-color="#ed3124"/></linearGradient><linearGradient id="d25" href="#dg"><stop offset="0" stop-color="#f16720"/><stop offset="0.33" stop-color="#f16220"/><stop offset="0.586" stop-color="#f05721"/><stop offset="0.815" stop-color="#ee4222"/><stop offset="1" stop-color="#eb2824"/></linearGradient><linearGradient id="d26" href="#dg"><stop offset="0" stop-color="#f16820"/><stop offset="0.326" stop-color="#f16320"/><stop offset="0.581" stop-color="#f05821"/><stop offset="0.815" stop-color="#ee4322"/><stop offset="1" stop-color="#eb2824"/></linearGradient><linearGradient id="d27" href="#dg"><stop offset="0" stop-color="#f26a1f"/><stop offset="0.304" stop-color="#f16620"/><stop offset="0.542" stop-color="#f05d21"/><stop offset="0.727" stop-color="#ef4f22"/><stop offset="1" stop-color="#ed3223"/></linearGradient><linearGradient id="d28" href="#dg"><stop offset="0" stop-color="#f26d1f"/><stop offset="0.449" stop-color="#f16620"/><stop offset="0.634" stop-color="#f05c21"/><stop offset="0.881" stop-color="#ef4a22"/><stop offset="1" stop-color="#ef4622"/></linearGradient><linearGradient id="d29" href="#dg"><stop offset="0" stop-color="#f2721f"/><stop offset="0.419" stop-color="#f26d1f"/><stop offset="0.863" stop-color="#f05821"/><stop offset="1" stop-color="#f05c21"/></linearGradient><linearGradient id="d30" href="#dg"><stop offset="0" stop-color="#f3771e"/><stop offset="0.419" stop-color="#f2751f"/><stop offset="0.833" stop-color="#f16620"/><stop offset="0.916" stop-color="#f16720"/><stop offset="1" stop-color="#f26d1f"/></linearGradient><linearGradient id="d31" href="#dg"><stop offset="0" stop-color="#f37d1e"/><stop offset="0.476" stop-color="#f37d1e"/><stop offset="0.846" stop-color="#f2741f"/><stop offset="1" stop-color="#f3791e"/></linearGradient><linearGradient id="d32" href="#dg"><stop offset="0" stop-color="#f4831d"/><stop offset="0.59" stop-color="#f4881d"/><stop offset="1" stop-color="#f4811d"/></linearGradient><linearGradient id="d33" href="#dg"><stop offset="0" stop-color="#f5891c"/><stop offset="0.744" stop-color="#f6981b"/><stop offset="0.863" stop-color="#f6951b"/><stop offset="1" stop-color="#f58b1c"/></linearGradient><linearGradient id="d34" href="#dg"><stop offset="0" stop-color="#f58f1c"/><stop offset="0.41" stop-color="#f6991b"/><stop offset="0.824" stop-color="#f8b216"/><stop offset="0.916" stop-color="#f8af17"/><stop offset="1" stop-color="#f7a219"/></linearGradient><linearGradient id="d35" href="#dg"><stop offset="0" stop-color="#f6931b"/><stop offset="0.26" stop-color="#f79a1a"/><stop offset="0.436" stop-color="#f7a319"/><stop offset="0.634" stop-color="#f8b616"/><stop offset="0.894" stop-color="#f6dd12"/><stop offset="0.952" stop-color="#f6e012"/><stop offset="1" stop-color="#f6dc13"/></linearGradient><linearGradient id="d36" href="#dg"><stop offset="0" stop-color="#f6971b"/><stop offset="0.264" stop-color="#f79e1a"/><stop offset="0.485" stop-color="#f8ae17"/><stop offset="0.634" stop-color="#f9c114"/><stop offset="0.793" stop-color="#f5e612"/><stop offset="0.894" stop-color="#f3ee1a"/><stop offset="1" stop-color="#f5f23c"/></linearGradient><linearGradient id="d37" href="#dg"><stop offset="0" stop-color="#f6981b"/><stop offset="0.26" stop-color="#f7a01a"/><stop offset="0.471" stop-color="#f8af17"/><stop offset="0.617" stop-color="#f9c214"/><stop offset="0.767" stop-color="#f5e612"/><stop offset="0.855" stop-color="#f3ee1a"/><stop offset="0.947" stop-color="#f5f240"/><stop offset="1" stop-color="#f8f78b"/></linearGradient><linearGradient id="d38" href="#dg"><stop offset="0" stop-color="#f6971b"/><stop offset="0.269" stop-color="#f79f1a"/><stop offset="0.493" stop-color="#f8ae17"/><stop offset="0.643" stop-color="#f9c214"/><stop offset="0.802" stop-color="#f5e612"/><stop offset="0.903" stop-color="#f3ee1a"/><stop offset="1" stop-color="#f4f135"/></linearGradient><linearGradient id="d39" href="#dg"><stop offset="0" stop-color="#f6931b"/><stop offset="0.251" stop-color="#f69a1b"/><stop offset="0.432" stop-color="#f7a219"/><stop offset="0.648" stop-color="#f8b516"/><stop offset="0.899" stop-color="#f7d713"/><stop offset="0.956" stop-color="#f6d913"/><stop offset="1" stop-color="#f7d413"/></linearGradient><linearGradient id="d40" href="#dg"><stop offset="0" stop-color="#f58e1c"/><stop offset="0.326" stop-color="#f6961b"/><stop offset="0.784" stop-color="#f8a718"/><stop offset="0.894" stop-color="#f7a519"/><stop offset="1" stop-color="#f79c1a"/></linearGradient><linearGradient id="d41" href="#dg"><stop offset="0" stop-color="#f4871d"/><stop offset="0.643" stop-color="#f5901c"/><stop offset="0.775" stop-color="#f58b1c"/><stop offset="1" stop-color="#f3761e"/></linearGradient><linearGradient id="d42" href="#dg"><stop offset="0" stop-color="#f37f1e"/><stop offset="0.432" stop-color="#f4841d"/><stop offset="0.643" stop-color="#f37f1e"/><stop offset="0.793" stop-color="#f2701f"/><stop offset="1" stop-color="#ef4822"/></linearGradient><linearGradient id="d43" href="#dg"><stop offset="0" stop-color="#f3771e"/><stop offset="0.392" stop-color="#f37a1e"/><stop offset="0.612" stop-color="#f2721f"/><stop offset="0.709" stop-color="#f26a1f"/><stop offset="0.797" stop-color="#f15d20"/><stop offset="0.934" stop-color="#ee4222"/><stop offset="1" stop-color="#ed3224"/></linearGradient><linearGradient id="d44" href="#dg"><stop offset="0" stop-color="#f26e1f"/><stop offset="0.339" stop-color="#f2701f"/><stop offset="0.546" stop-color="#f26b1f"/><stop offset="0.722" stop-color="#f15e20"/><stop offset="1" stop-color="#ee3d23"/></linearGradient><linearGradient id="d45" href="#dg"><stop offset="0" stop-color="#f16620"/><stop offset="0.419" stop-color="#f16620"/><stop offset="0.577" stop-color="#f16120"/><stop offset="0.868" stop-color="#f05121"/><stop offset="1" stop-color="#f05321"/></linearGradient><linearGradient id="d46" href="#dg"><stop offset="0" stop-color="#f15e20"/><stop offset="0.427" stop-color="#f15e20"/><stop offset="0.833" stop-color="#f05421"/><stop offset="1" stop-color="#f05a21"/></linearGradient><linearGradient id="d47" href="#dg"><stop offset="0" stop-color="#f05721"/><stop offset="0.524" stop-color="#f05821"/><stop offset="1" stop-color="#f05221"/></linearGradient><linearGradient id="d48" href="#dg"><stop offset="0" stop-color="#f05121"/><stop offset="0.767" stop-color="#f05821"/><stop offset="0.868" stop-color="#f05421"/><stop offset="1" stop-color="#ef4822"/></linearGradient><linearGradient id="d49" href="#dg"><stop offset="0" stop-color="#ef4a22"/><stop offset="0.441" stop-color="#ef4e22"/><stop offset="0.846" stop-color="#f16120"/><stop offset="0.925" stop-color="#f15e20"/><stop offset="1" stop-color="#f05121"/></linearGradient><linearGradient id="d50" href="#dg"><stop offset="0" stop-color="#ef4522"/><stop offset="0.344" stop-color="#ef4722"/><stop offset="0.546" stop-color="#ef4e22"/><stop offset="0.7" stop-color="#f15d20"/><stop offset="0.921" stop-color="#f4811d"/><stop offset="1" stop-color="#f5891c"/></linearGradient><linearGradient id="d51" href="#dg"><stop offset="0" stop-color="#ee4023"/><stop offset="0.419" stop-color="#ee4322"/><stop offset="0.559" stop-color="#ef4a22"/><stop offset="0.652" stop-color="#f05421"/><stop offset="0.762" stop-color="#f16820"/><stop offset="0.872" stop-color="#f4881d"/><stop offset="0.934" stop-color="#f7a11a"/><stop offset="1" stop-color="#f8ca13"/></linearGradient><linearGradient id="d52" href="#dg"><stop offset="0" stop-color="#ee3b23"/><stop offset="0.392" stop-color="#ee3d23"/><stop offset="0.529" stop-color="#ee4222"/><stop offset="0.639" stop-color="#ef4a22"/><stop offset="0.736" stop-color="#f05921"/><stop offset="0.819" stop-color="#f26d1f"/><stop offset="0.93" stop-color="#f5911c"/><stop offset="1" stop-color="#f8b117"/></linearGradient><linearGradient id="d53" href="#dg"><stop offset="0" stop-color="#ed3723"/><stop offset="0.304" stop-color="#ed3623"/><stop offset="0.515" stop-color="#ee3b23"/><stop offset="0.718" stop-color="#ef4722"/><stop offset="0.921" stop-color="#f15e20"/><stop offset="1" stop-color="#f15d20"/></linearGradient><linearGradient id="d54" href="#dg"><stop offset="0" stop-color="#ed3323"/><stop offset="0.388" stop-color="#ed3224"/><stop offset="0.819" stop-color="#ee3b23"/><stop offset="0.912" stop-color="#ed3723"/><stop offset="1" stop-color="#ec2d24"/></linearGradient><linearGradient id="d55" href="#dg"><stop offset="0" stop-color="#ec2f24"/><stop offset="0.705" stop-color="#ec2e24"/><stop offset="1" stop-color="#ea2625"/></linearGradient><linearGradient id="d56" href="#dg"><stop offset="0" stop-color="#ec2b24"/><stop offset="1" stop-color="#ea2525"/></linearGradient><linearGradient id="d57" href="#dg"><stop offset="0" stop-color="#ec2924"/><stop offset="1" stop-color="#ea2525"/></linearGradient><linearGradient id="d58" href="#dg"><stop offset="0" stop-color="#eb2824"/><stop offset="0.714" stop-color="#e82325"/><stop offset="1" stop-color="#e92525"/></linearGradient><linearGradient id="d59" href="#dg"><stop offset="0" stop-color="#eb2724"/><stop offset="0.793" stop-color="#e61e26"/><stop offset="1" stop-color="#e82325"/></linearGradient><linearGradient id="d60" href="#dg"><stop offset="0" stop-color="#ea2725"/><stop offset="0.379" stop-color="#e92425"/><stop offset="0.63" stop-color="#e61e26"/><stop offset="0.916" stop-color="#b91c21"/><stop offset="0.96" stop-color="#b91c21"/><stop offset="1" stop-color="#c11c22"/></linearGradient><linearGradient id="d61" href="#dg"><stop offset="0" stop-color="#ea2625"/><stop offset="0.577" stop-color="#e61e26"/><stop offset="0.643" stop-color="#dc1d25"/><stop offset="0.753" stop-color="#c01c22"/><stop offset="0.797" stop-color="#a81b1f"/><stop offset="0.837" stop-color="#8d1a1c"/><stop offset="0.881" stop-color="#6b1819"/><stop offset="0.925" stop-color="#431416"/><stop offset="0.982" stop-color="#2a1214"/><stop offset="1" stop-color="#2a1214"/></linearGradient><linearGradient id="d62" href="#dg"><stop offset="0" stop-color="#ea2625"/><stop offset="0.568" stop-color="#e61e26"/><stop offset="0.626" stop-color="#dd1e25"/><stop offset="0.709" stop-color="#c91c23"/><stop offset="0.736" stop-color="#c01c22"/><stop offset="0.753" stop-color="#b71c21"/><stop offset="0.789" stop-color="#a01b1f"/><stop offset="0.824" stop-color="#851a1c"/><stop offset="0.859" stop-color="#651719"/><stop offset="0.89" stop-color="#431416"/><stop offset="0.934" stop-color="#2a1214"/><stop offset="1" stop-color="#2a1214"/></linearGradient><linearGradient id="d63" href="#dg"><stop offset="0" stop-color="#ea2625"/><stop offset="0.586" stop-color="#e61e26"/><stop offset="0.643" stop-color="#de1e25"/><stop offset="0.714" stop-color="#d01d24"/><stop offset="0.775" stop-color="#bf1c22"/><stop offset="0.841" stop-color="#9c1b1e"/><stop offset="0.965" stop-color="#501517"/><stop offset="1" stop-color="#411416"/></linearGradient><linearGradient id="d64" href="#dg"><stop offset="0" stop-color="#ea2525"/><stop offset="0.656" stop-color="#e61e26"/><stop offset="0.819" stop-color="#d41d24"/><stop offset="0.89" stop-color="#d01d24"/><stop offset="0.947" stop-color="#d31d24"/><stop offset="1" stop-color="#dc1d25"/></linearGradient><linearGradient id="d65" href="#dg"><stop offset="0" stop-color="#ea2525"/><stop offset="0.767" stop-color="#e72026"/><stop offset="1" stop-color="#e92425"/></linearGradient><linearGradient id="d66" href="#dg"><stop offset="0" stop-color="#ea2525"/><stop offset="1" stop-color="#ea2525"/></linearGradient><linearGradient id="d67" href="#dg"><stop offset="0" stop-color="#ea2525"/><stop offset="1" stop-color="#ea2625"/></linearGradient><linearGradient id="d68" href="#dg"><stop offset="0" stop-color="#ea2525"/><stop offset="1" stop-color="#ea2625"/></linearGradient><linearGradient id="d69" href="#dg"><stop offset="0" stop-color="#ea2525"/><stop offset="1" stop-color="#eb2824"/></linearGradient><linearGradient id="d70" href="#dg"><stop offset="0" stop-color="#ea2525"/><stop offset="1" stop-color="#eb2924"/></linearGradient><linearGradient id="d71" href="#dg"><stop offset="0" stop-color="#ea2525"/><stop offset="1" stop-color="#ec2a24"/></linearGradient><linearGradient id="d72" href="#dg"><stop offset="0" stop-color="#ea2525"/><stop offset="1" stop-color="#ec2a24"/></linearGradient><linearGradient id="d73" href="#dg"><stop offset="0" stop-color="#ea2525"/><stop offset="1" stop-color="#ec2924"/></linearGradient><linearGradient id="d74" href="#dg"><stop offset="0" stop-color="#ea2525"/><stop offset="1" stop-color="#eb2824"/></linearGradient><linearGradient id="d75" href="#dg"><stop offset="0" stop-color="#ea2525"/><stop offset="1" stop-color="#ea2725"/></linearGradient><linearGradient id="d76" href="#dg"><stop offset="0" stop-color="#ea2525"/><stop offset="1" stop-color="#ea2625"/></linearGradient><linearGradient id="d77" href="#dg"><stop offset="0" stop-color="#ea2525"/><stop offset="1" stop-color="#ea2725"/></linearGradient><linearGradient id="d78" href="#dg"><stop offset="0" stop-color="#ea2525"/><stop offset="1" stop-color="#ec2924"/></linearGradient><linearGradient id="d79" href="#dg"><stop offset="0" stop-color="#ea2525"/><stop offset="0.727" stop-color="#ec2a24"/><stop offset="1" stop-color="#ed3523"/></linearGradient><linearGradient id="d80" href="#dg"><stop offset="0" stop-color="#ea2525"/><stop offset="0.727" stop-color="#ec2a24"/><stop offset="0.872" stop-color="#ed3323"/><stop offset="1" stop-color="#ee4222"/></linearGradient><linearGradient id="d81" href="#dg"><stop offset="0" stop-color="#ea2525"/><stop offset="0.727" stop-color="#ec2a24"/><stop offset="0.877" stop-color="#ed3523"/><stop offset="1" stop-color="#ef4622"/></linearGradient><linearGradient id="d82" href="#dg"><stop offset="0" stop-color="#ea2525"/><stop offset="0.749" stop-color="#ec2a24"/><stop offset="1" stop-color="#ee3d23"/></linearGradient><linearGradient id="d83" href="#dg"><stop offset="0" stop-color="#ea2525"/><stop offset="0.626" stop-color="#eb2724"/><stop offset="1" stop-color="#ec2f24"/></linearGradient><linearGradient id="d84" href="#dg"><stop offset="0" stop-color="#ea2525"/><stop offset="1" stop-color="#eb2824"/></linearGradient><linearGradient id="d85" href="#dg"><stop offset="0" stop-color="#ea2525"/><stop offset="1" stop-color="#e82225"/></linearGradient><linearGradient id="d86" href="#dg"><stop offset="0" stop-color="#ea2525"/><stop offset="0.502" stop-color="#e92425"/><stop offset="0.744" stop-color="#e61e26"/><stop offset="0.815" stop-color="#d51d24"/><stop offset="0.881" stop-color="#c01c22"/><stop offset="1" stop-color="#7b1a1b"/></linearGradient><linearGradient id="d87" href="#dg"><stop offset="0" stop-color="#ea2525"/><stop offset="0.489" stop-color="#e92425"/><stop offset="0.714" stop-color="#e61e26"/><stop offset="0.775" stop-color="#d51d24"/><stop offset="0.828" stop-color="#c11c22"/><stop offset="0.859" stop-color="#a81b1f"/><stop offset="0.89" stop-color="#8a1a1c"/><stop offset="0.921" stop-color="#671819"/><stop offset="0.947" stop-color="#421416"/><stop offset="0.982" stop-color="#2a1214"/><stop offset="1" stop-color="#2a1214"/></linearGradient><linearGradient id="d88" href="#dg"><stop offset="0" stop-color="#ea2525"/><stop offset="0.511" stop-color="#e92425"/><stop offset="0.749" stop-color="#e61e26"/><stop offset="0.819" stop-color="#d61d24"/><stop offset="0.89" stop-color="#c01c22"/><stop offset="0.965" stop-color="#971b1d"/><stop offset="1" stop-color="#871a1c"/></linearGradient><linearGradient id="d89" href="#dg"><stop offset="0" stop-color="#ea2525"/><stop offset="1" stop-color="#e82325"/></linearGradient><linearGradient id="d90" href="#dg"><stop offset="0" stop-color="#ea2525"/><stop offset="1" stop-color="#ec2a24"/></linearGradient><linearGradient id="d91" href="#dg"><stop offset="0" stop-color="#ea2525"/><stop offset="0.744" stop-color="#ec2a24"/><stop offset="1" stop-color="#ee3d23"/></linearGradient><linearGradient id="d92" href="#dg"><stop offset="0" stop-color="#ea2625"/><stop offset="0.692" stop-color="#ec2a24"/><stop offset="0.872" stop-color="#ed3923"/><stop offset="0.947" stop-color="#e42"/><stop offset="1" stop-color="#ef4f22"/></linearGradient><linearGradient id="d93" href="#dg"><stop offset="0" stop-color="#ea2625"/><stop offset="0.661" stop-color="#ec2a24"/><stop offset="0.855" stop-color="#ed3723"/><stop offset="1" stop-color="#ef4e22"/></linearGradient><linearGradient id="d94" href="#dg"><stop offset="0" stop-color="#eb2724"/><stop offset="0.639" stop-color="#ec2a24"/><stop offset="1" stop-color="#ee3c23"/></linearGradient><linearGradient id="d95" href="#dg"><stop offset="0" stop-color="#eb2824"/><stop offset="0.617" stop-color="#ec2a24"/><stop offset="0.89" stop-color="#ed3024"/><stop offset="1" stop-color="#ec2d24"/></linearGradient><linearGradient id="d96" href="#dg"><stop offset="0" stop-color="#eb2924"/><stop offset="0.802" stop-color="#ec2c24"/><stop offset="1" stop-color="#ec2924"/></linearGradient><linearGradient id="d97" href="#dg"><stop offset="0" stop-color="#ec2924"/><stop offset="1" stop-color="#ec2924"/></linearGradient><linearGradient id="d98" href="#dg"><stop offset="0" stop-color="#ec2a24"/><stop offset="1" stop-color="#ec2a24"/></linearGradient><linearGradient id="d99" href="#dg"><stop offset="0" stop-color="#ec2a24"/><stop offset="1" stop-color="#ec2a24"/></linearGradient><clipPath id="cld"><rect x="198.3" y="355.2" width="236.6" height="227.0"/></clipPath><linearGradient id="eg" gradientUnits="userSpaceOnUse" x1="0" y1="355.2" x2="0" y2="582.2"/><linearGradient id="e0" href="#eg"><stop offset="0" stop-color="#2a1214"/><stop offset="1" stop-color="#2a1214"/></linearGradient><linearGradient id="e1" href="#eg"><stop offset="0" stop-color="#2a1214"/><stop offset="1" stop-color="#2a1214"/></linearGradient><linearGradient id="e2" href="#eg"><stop offset="0" stop-color="#2a1214"/><stop offset="1" stop-color="#2a1214"/></linearGradient><linearGradient id="e3" href="#eg"><stop offset="0" stop-color="#2a1214"/><stop offset="1" stop-color="#2a1214"/></linearGradient><linearGradient id="e4" href="#eg"><stop offset="0" stop-color="#2a1214"/><stop offset="1" stop-color="#2a1214"/></linearGradient><linearGradient id="e5" href="#eg"><stop offset="0" stop-color="#2a1214"/><stop offset="1" stop-color="#2a1214"/></linearGradient><linearGradient id="e6" href="#eg"><stop offset="0" stop-color="#2a1214"/><stop offset="1" stop-color="#2e1214"/></linearGradient><linearGradient id="e7" href="#eg"><stop offset="0" stop-color="#2b1214"/><stop offset="0.67" stop-color="#2f1214"/><stop offset="1" stop-color="#3c1416"/></linearGradient><linearGradient id="e8" href="#eg"><stop offset="0" stop-color="#2b1214"/><stop offset="0.546" stop-color="#301315"/><stop offset="0.744" stop-color="#371315"/><stop offset="0.885" stop-color="#421416"/><stop offset="1" stop-color="#5c1618"/></linearGradient><linearGradient id="e9" href="#eg"><stop offset="0" stop-color="#2d1214"/><stop offset="0.546" stop-color="#341315"/><stop offset="0.784" stop-color="#411416"/><stop offset="0.815" stop-color="#461416"/><stop offset="0.907" stop-color="#691819"/><stop offset="1" stop-color="#831a1b"/></linearGradient><linearGradient id="e10" href="#eg"><stop offset="0" stop-color="#301214"/><stop offset="0.537" stop-color="#381315"/><stop offset="0.705" stop-color="#421416"/><stop offset="0.811" stop-color="#5b1618"/><stop offset="0.907" stop-color="#881a1c"/><stop offset="1" stop-color="#a71b1f"/></linearGradient><linearGradient id="e11" href="#eg"><stop offset="0" stop-color="#321315"/><stop offset="0.366" stop-color="#371315"/><stop offset="0.63" stop-color="#421416"/><stop offset="0.722" stop-color="#561618"/><stop offset="0.811" stop-color="#71191a"/><stop offset="0.907" stop-color="#a51b1f"/><stop offset="0.978" stop-color="#c01c22"/><stop offset="1" stop-color="#c41c22"/></linearGradient><linearGradient id="e12" href="#eg"><stop offset="0" stop-color="#351315"/><stop offset="0.392" stop-color="#3c1315"/><stop offset="0.551" stop-color="#421416"/><stop offset="0.595" stop-color="#481516"/><stop offset="0.687" stop-color="#5d1718"/><stop offset="0.771" stop-color="#77191a"/><stop offset="0.815" stop-color="#881a1c"/><stop offset="0.907" stop-color="#bf1c22"/><stop offset="1" stop-color="#d51d24"/></linearGradient><linearGradient id="e13" href="#eg"><stop offset="0" stop-color="#371315"/><stop offset="0.441" stop-color="#421416"/><stop offset="0.595" stop-color="#541617"/><stop offset="0.683" stop-color="#6b1819"/><stop offset="0.762" stop-color="#861a1c"/><stop offset="0.811" stop-color="#9a1b1e"/><stop offset="0.872" stop-color="#c01c22"/><stop offset="0.907" stop-color="#ce1d23"/><stop offset="1" stop-color="#e31e26"/></linearGradient><linearGradient id="e14" href="#eg"><stop offset="0" stop-color="#3a1315"/><stop offset="0.335" stop-color="#421416"/><stop offset="0.551" stop-color="#581618"/><stop offset="0.608" stop-color="#641719"/><stop offset="0.705" stop-color="#821a1b"/><stop offset="0.784" stop-color="#a21b1f"/><stop offset="0.841" stop-color="#c01c22"/><stop offset="0.907" stop-color="#da1d25"/><stop offset="0.956" stop-color="#e61e26"/><stop offset="1" stop-color="#e72026"/></linearGradient><linearGradient id="e15" href="#eg"><stop offset="0" stop-color="#3d1416"/><stop offset="0.247" stop-color="#421416"/><stop offset="0.546" stop-color="#631719"/><stop offset="0.595" stop-color="#6d1819"/><stop offset="0.674" stop-color="#861a1c"/><stop offset="0.907" stop-color="#e51e26"/><stop offset="1" stop-color="#e82225"/></linearGradient><linearGradient id="e16" href="#eg"><stop offset="0" stop-color="#401416"/><stop offset="0.128" stop-color="#421416"/><stop offset="0.22" stop-color="#481517"/><stop offset="0.48" stop-color="#6a1819"/><stop offset="0.542" stop-color="#6d181a"/><stop offset="0.595" stop-color="#79191a"/><stop offset="0.634" stop-color="#861a1c"/><stop offset="0.78" stop-color="#c01c22"/><stop offset="0.885" stop-color="#e61e26"/><stop offset="1" stop-color="#e92425"/></linearGradient><linearGradient id="e17" href="#eg"><stop offset="0" stop-color="#431416"/><stop offset="0.229" stop-color="#511517"/><stop offset="0.48" stop-color="#76191a"/><stop offset="0.542" stop-color="#78191a"/><stop offset="0.595" stop-color="#851a1b"/><stop offset="0.744" stop-color="#bf1c22"/><stop offset="0.863" stop-color="#e61e26"/><stop offset="1" stop-color="#e92525"/></linearGradient><linearGradient id="e18" href="#eg"><stop offset="0" stop-color="#4a1517"/><stop offset="0.225" stop-color="#591618"/><stop offset="0.295" stop-color="#621719"/><stop offset="0.48" stop-color="#831a1b"/><stop offset="0.511" stop-color="#811a1b"/><stop offset="0.542" stop-color="#831a1b"/><stop offset="0.595" stop-color="#901b1d"/><stop offset="0.718" stop-color="#c11c22"/><stop offset="0.841" stop-color="#e51e26"/><stop offset="1" stop-color="#ea2625"/></linearGradient><linearGradient id="e19" href="#eg"><stop offset="0" stop-color="#511517"/><stop offset="0.145" stop-color="#5a1618"/><stop offset="0.26" stop-color="#661819"/><stop offset="0.48" stop-color="#911b1d"/><stop offset="0.515" stop-color="#8d1a1c"/><stop offset="0.542" stop-color="#8f1a1d"/><stop offset="0.595" stop-color="#9c1b1e"/><stop offset="0.687" stop-color="#c01c22"/><stop offset="0.824" stop-color="#e61e26"/><stop offset="1" stop-color="#ea2625"/></linearGradient><linearGradient id="e20" href="#eg"><stop offset="0" stop-color="#581618"/><stop offset="0.15" stop-color="#621719"/><stop offset="0.269" stop-color="#70181a"/><stop offset="0.48" stop-color="#9e1b1e"/><stop offset="0.52" stop-color="#991b1e"/><stop offset="0.546" stop-color="#9a1b1e"/><stop offset="0.595" stop-color="#a61b1f"/><stop offset="0.661" stop-color="#c01c22"/><stop offset="0.802" stop-color="#e61e26"/><stop offset="1" stop-color="#eb2724"/></linearGradient><linearGradient id="e21" href="#eg"><stop offset="0" stop-color="#5e1718"/><stop offset="0.154" stop-color="#6b1819"/><stop offset="0.278" stop-color="#7b191b"/><stop offset="0.48" stop-color="#ac1b20"/><stop offset="0.529" stop-color="#a51b1f"/><stop offset="0.551" stop-color="#a61b1f"/><stop offset="0.595" stop-color="#b11c20"/><stop offset="0.639" stop-color="#c21c22"/><stop offset="0.78" stop-color="#e61e26"/><stop offset="0.938" stop-color="#ec2b24"/><stop offset="0.965" stop-color="#ed3024"/><stop offset="1" stop-color="#e42"/></linearGradient><linearGradient id="e22" href="#eg"><stop offset="0" stop-color="#651719"/><stop offset="0.141" stop-color="#71191a"/><stop offset="0.251" stop-color="#7f1a1b"/><stop offset="0.295" stop-color="#871a1c"/><stop offset="0.48" stop-color="#b91c21"/><stop offset="0.551" stop-color="#b21c20"/><stop offset="0.758" stop-color="#e61e26"/><stop offset="0.841" stop-color="#e92425"/><stop offset="0.899" stop-color="#ed3224"/><stop offset="0.943" stop-color="#ef4922"/><stop offset="0.965" stop-color="#f15f20"/><stop offset="0.982" stop-color="#f37d1e"/><stop offset="1" stop-color="#f7a519"/></linearGradient><linearGradient id="e23" href="#eg"><stop offset="0" stop-color="#6c1819"/><stop offset="0.154" stop-color="#7a191b"/><stop offset="0.273" stop-color="#8c1a1c"/><stop offset="0.454" stop-color="#c01c22"/><stop offset="0.48" stop-color="#c41c22"/><stop offset="0.551" stop-color="#be1c22"/><stop offset="0.595" stop-color="#c31c22"/><stop offset="0.639" stop-color="#d31d24"/><stop offset="0.736" stop-color="#e61e26"/><stop offset="0.833" stop-color="#ea2625"/><stop offset="0.85" stop-color="#ec2b24"/><stop offset="0.894" stop-color="#ef4922"/><stop offset="0.925" stop-color="#f16820"/><stop offset="0.943" stop-color="#f37e1e"/><stop offset="0.952" stop-color="#f6931b"/><stop offset="0.965" stop-color="#f9bc15"/><stop offset="0.974" stop-color="#f5e512"/><stop offset="1" stop-color="#f3ed19"/></linearGradient><linearGradient id="e24" href="#eg"><stop offset="0" stop-color="#74191a"/><stop offset="0.141" stop-color="#811a1b"/><stop offset="0.264" stop-color="#941b1d"/><stop offset="0.295" stop-color="#9a1b1e"/><stop offset="0.41" stop-color="#bf1c22"/><stop offset="0.48" stop-color="#cd1d23"/><stop offset="0.546" stop-color="#c71c23"/><stop offset="0.595" stop-color="#ca1d23"/><stop offset="0.639" stop-color="#dd1e25"/><stop offset="0.692" stop-color="#e61e26"/><stop offset="0.815" stop-color="#ea2625"/><stop offset="0.837" stop-color="#ed3024"/><stop offset="0.903" stop-color="#f37b1e"/><stop offset="0.907" stop-color="#f4811d"/><stop offset="0.921" stop-color="#f79f1a"/><stop offset="0.943" stop-color="#f5e612"/><stop offset="0.969" stop-color="#f3ee1a"/><stop offset="0.978" stop-color="#f3ef23"/><stop offset="0.982" stop-color="#f4f032"/><stop offset="0.987" stop-color="#f5f245"/><stop offset="1" stop-color="#fcfbc5"/></linearGradient><linearGradient id="e25" href="#eg"><stop offset="0" stop-color="#7b1a1b"/><stop offset="0.137" stop-color="#8a1a1c"/><stop offset="0.256" stop-color="#9c1b1e"/><stop offset="0.295" stop-color="#a41b1f"/><stop offset="0.374" stop-color="#c01c22"/><stop offset="0.48" stop-color="#d61d24"/><stop offset="0.546" stop-color="#d01d24"/><stop offset="0.595" stop-color="#d21d24"/><stop offset="0.634" stop-color="#e61e26"/><stop offset="0.767" stop-color="#e82225"/><stop offset="0.797" stop-color="#ea2625"/><stop offset="0.811" stop-color="#ec2a24"/><stop offset="0.828" stop-color="#ee3b23"/><stop offset="0.841" stop-color="#ef4c22"/><stop offset="0.863" stop-color="#f2721f"/><stop offset="0.877" stop-color="#f4831d"/><stop offset="0.894" stop-color="#f8ab18"/><stop offset="0.912" stop-color="#f5e412"/><stop offset="0.947" stop-color="#f3ee1d"/><stop offset="0.956" stop-color="#f4f02b"/><stop offset="0.96" stop-color="#f5f13a"/><stop offset="0.965" stop-color="#f6f45c"/><stop offset="0.969" stop-color="#f8f78a"/><stop offset="0.974" stop-color="#fcfbc2"/><stop offset="0.978" stop-color="#2a1214"/><stop offset="1" stop-color="#2a1214"/></linearGradient><linearGradient id="e26" href="#eg"><stop offset="0" stop-color="#841a1b"/><stop offset="0.137" stop-color="#931b1d"/><stop offset="0.251" stop-color="#a51b1f"/><stop offset="0.295" stop-color="#ae1b20"/><stop offset="0.344" stop-color="#c11c22"/><stop offset="0.48" stop-color="#df1e25"/><stop offset="0.595" stop-color="#db1d25"/><stop offset="0.617" stop-color="#e61e26"/><stop offset="0.634" stop-color="#e82225"/><stop offset="0.78" stop-color="#ea2725"/><stop offset="0.793" stop-color="#ec2b24"/><stop offset="0.806" stop-color="#ed3723"/><stop offset="0.819" stop-color="#ef4722"/><stop offset="0.837" stop-color="#f16520"/><stop offset="0.85" stop-color="#f37d1e"/><stop offset="0.872" stop-color="#f9bb15"/><stop offset="0.885" stop-color="#f5e412"/><stop offset="0.921" stop-color="#f3ee1a"/><stop offset="0.925" stop-color="#f3ee1e"/><stop offset="0.93" stop-color="#2a1214"/><stop offset="1" stop-color="#2a1214"/></linearGradient><linearGradient id="e27" href="#eg"><stop offset="0" stop-color="#8c1a1c"/><stop offset="0.132" stop-color="#9b1b1e"/><stop offset="0.247" stop-color="#ae1b20"/><stop offset="0.467" stop-color="#e61e26"/><stop offset="0.595" stop-color="#e51e26"/><stop offset="0.639" stop-color="#ea2625"/><stop offset="0.771" stop-color="#ec2924"/><stop offset="0.784" stop-color="#ed3323"/><stop offset="0.802" stop-color="#ef4822"/><stop offset="0.833" stop-color="#f37e1e"/><stop offset="0.846" stop-color="#f8a818"/><stop offset="0.859" stop-color="#f6dc13"/><stop offset="0.863" stop-color="#f5e713"/><stop offset="0.899" stop-color="#f3ee1a"/><stop offset="0.907" stop-color="#f3ef22"/><stop offset="0.916" stop-color="#f5f137"/><stop offset="0.921" stop-color="#f6f34d"/><stop offset="0.925" stop-color="#f7f572"/><stop offset="0.93" stop-color="#2a1214"/><stop offset="1" stop-color="#2a1214"/></linearGradient><linearGradient id="e28" href="#eg"><stop offset="0" stop-color="#941b1d"/><stop offset="0.229" stop-color="#b51c21"/><stop offset="0.295" stop-color="#c21c22"/><stop offset="0.432" stop-color="#e61e26"/><stop offset="0.595" stop-color="#e82125"/><stop offset="0.7" stop-color="#ed3623"/><stop offset="0.767" stop-color="#ed3623"/><stop offset="0.784" stop-color="#ef4822"/><stop offset="0.815" stop-color="#f37f1e"/><stop offset="0.828" stop-color="#f8a918"/><stop offset="0.841" stop-color="#f6de12"/><stop offset="0.846" stop-color="#f5e713"/><stop offset="0.877" stop-color="#f3ee1a"/><stop offset="0.885" stop-color="#f3ef21"/><stop offset="0.89" stop-color="#f4ef26"/><stop offset="0.899" stop-color="#f5f23e"/><stop offset="0.903" stop-color="#f6f45b"/><stop offset="0.912" stop-color="#faf9a5"/><stop offset="0.916" stop-color="#2a1214"/><stop offset="1" stop-color="#2a1214"/></linearGradient><linearGradient id="e29" href="#eg"><stop offset="0" stop-color="#9c1b1e"/><stop offset="0.291" stop-color="#c71c23"/><stop offset="0.401" stop-color="#e61e26"/><stop offset="0.489" stop-color="#e92425"/><stop offset="0.595" stop-color="#e92525"/><stop offset="0.617" stop-color="#ec2a24"/><stop offset="0.639" stop-color="#ed3723"/><stop offset="0.7" stop-color="#ef4522"/><stop offset="0.767" stop-color="#ef4c22"/><stop offset="0.771" stop-color="#ef4f22"/><stop offset="0.797" stop-color="#f37f1e"/><stop offset="0.811" stop-color="#f8a918"/><stop offset="0.824" stop-color="#f6dd12"/><stop offset="0.828" stop-color="#f5e713"/><stop offset="0.855" stop-color="#f3ed19"/><stop offset="0.868" stop-color="#f3ef22"/><stop offset="0.872" stop-color="#f4f02a"/><stop offset="0.881" stop-color="#f5f243"/><stop offset="0.89" stop-color="#f8f783"/><stop offset="0.894" stop-color="#faf9a9"/><stop offset="0.899" stop-color="#2a1214"/><stop offset="1" stop-color="#2a1214"/></linearGradient><linearGradient id="e30" href="#eg"><stop offset="0" stop-color="#a51b1f"/><stop offset="0.291" stop-color="#cd1d23"/><stop offset="0.374" stop-color="#e61e26"/><stop offset="0.485" stop-color="#ea2725"/><stop offset="0.599" stop-color="#ec2a24"/><stop offset="0.639" stop-color="#ee4322"/><stop offset="0.767" stop-color="#f2691f"/><stop offset="0.78" stop-color="#f37e1e"/><stop offset="0.797" stop-color="#f9b815"/><stop offset="0.806" stop-color="#f6db13"/><stop offset="0.811" stop-color="#f5e713"/><stop offset="0.841" stop-color="#f3ee1b"/><stop offset="0.85" stop-color="#f3ef23"/><stop offset="0.859" stop-color="#f5f137"/><stop offset="0.863" stop-color="#f5f347"/><stop offset="0.868" stop-color="#2a1214"/><stop offset="1" stop-color="#2a1214"/></linearGradient><linearGradient id="e31" href="#eg"><stop offset="0" stop-color="#ad1b20"/><stop offset="0.291" stop-color="#d41d24"/><stop offset="0.348" stop-color="#e61e26"/><stop offset="0.595" stop-color="#ed3224"/><stop offset="0.639" stop-color="#f05221"/><stop offset="0.749" stop-color="#f37f1e"/><stop offset="0.762" stop-color="#f58a1c"/><stop offset="0.771" stop-color="#f6971b"/><stop offset="0.784" stop-color="#f8c614"/><stop offset="0.793" stop-color="#f5e612"/><stop offset="0.824" stop-color="#f3ee1a"/><stop offset="0.837" stop-color="#f4f029"/><stop offset="0.846" stop-color="#f5f242"/><stop offset="0.859" stop-color="#faf9a1"/><stop offset="0.863" stop-color="#fcfbc9"/><stop offset="0.868" stop-color="#2a1214"/><stop offset="1" stop-color="#2a1214"/></linearGradient><linearGradient id="e32" href="#eg"><stop offset="0" stop-color="#b51c21"/><stop offset="0.291" stop-color="#da1d25"/><stop offset="0.33" stop-color="#e61e26"/><stop offset="0.458" stop-color="#ec2a24"/><stop offset="0.595" stop-color="#ee3d23"/><stop offset="0.639" stop-color="#f16220"/><stop offset="0.696" stop-color="#f37e1e"/><stop offset="0.731" stop-color="#f79a1a"/><stop offset="0.749" stop-color="#f8ae17"/><stop offset="0.767" stop-color="#f8c814"/><stop offset="0.775" stop-color="#f5e612"/><stop offset="0.806" stop-color="#f3ee1a"/><stop offset="0.819" stop-color="#f4ef26"/><stop offset="0.828" stop-color="#f5f23d"/><stop offset="0.833" stop-color="#f6f458"/><stop offset="0.841" stop-color="#f9f896"/><stop offset="0.846" stop-color="#fcfbbd"/><stop offset="0.85" stop-color="#2a1214"/><stop offset="1" stop-color="#2a1214"/></linearGradient><linearGradient id="e33" href="#eg"><stop offset="0" stop-color="#c21c22"/><stop offset="0.176" stop-color="#d41d24"/><stop offset="0.304" stop-color="#e61e26"/><stop offset="0.432" stop-color="#ec2a24"/><stop offset="0.595" stop-color="#ef4922"/><stop offset="0.639" stop-color="#f2731f"/><stop offset="0.661" stop-color="#f37e1e"/><stop offset="0.687" stop-color="#f6961b"/><stop offset="0.722" stop-color="#f9bd15"/><stop offset="0.749" stop-color="#f5e612"/><stop offset="0.789" stop-color="#f3ed19"/><stop offset="0.802" stop-color="#f3ef23"/><stop offset="0.806" stop-color="#f4f02e"/><stop offset="0.811" stop-color="#2a1214"/><stop offset="1" stop-color="#2a1214"/></linearGradient><linearGradient id="e34" href="#eg"><stop offset="0" stop-color="#cc1d23"/><stop offset="0.238" stop-color="#e61e26"/><stop offset="0.295" stop-color="#e72026"/><stop offset="0.388" stop-color="#ec2a24"/><stop offset="0.48" stop-color="#ee3f23"/><stop offset="0.546" stop-color="#ef4822"/><stop offset="0.581" stop-color="#f05721"/><stop offset="0.595" stop-color="#f05921"/><stop offset="0.665" stop-color="#f79f1a"/><stop offset="0.692" stop-color="#f9c014"/><stop offset="0.718" stop-color="#f5e612"/><stop offset="0.775" stop-color="#f3ee1a"/><stop offset="0.789" stop-color="#f4f029"/><stop offset="0.797" stop-color="#f5f241"/><stop offset="0.806" stop-color="#f8f67e"/><stop offset="0.811" stop-color="#2a1214"/><stop offset="1" stop-color="#2a1214"/></linearGradient><linearGradient id="e35" href="#eg"><stop offset="0" stop-color="#d51d24"/><stop offset="0.15" stop-color="#e61e26"/><stop offset="0.295" stop-color="#e92325"/><stop offset="0.352" stop-color="#ec2a24"/><stop offset="0.485" stop-color="#ef4b22"/><stop offset="0.542" stop-color="#f05121"/><stop offset="0.581" stop-color="#f16620"/><stop offset="0.595" stop-color="#f16920"/><stop offset="0.617" stop-color="#f37e1e"/><stop offset="0.639" stop-color="#f7a219"/><stop offset="0.661" stop-color="#f9bc15"/><stop offset="0.687" stop-color="#f5e312"/><stop offset="0.753" stop-color="#f3ee1a"/><stop offset="0.771" stop-color="#f4ef24"/><stop offset="0.78" stop-color="#f5f13b"/><stop offset="0.784" stop-color="#f6f352"/><stop offset="0.793" stop-color="#f9f78f"/><stop offset="0.797" stop-color="#fbfab4"/><stop offset="0.802" stop-color="#2a1214"/><stop offset="1" stop-color="#2a1214"/></linearGradient><linearGradient id="e36" href="#eg"><stop offset="0" stop-color="#df1e25"/><stop offset="0.062" stop-color="#e61e26"/><stop offset="0.295" stop-color="#ea2625"/><stop offset="0.326" stop-color="#ec2a24"/><stop offset="0.493" stop-color="#f15d20"/><stop offset="0.546" stop-color="#f16020"/><stop offset="0.599" stop-color="#f37d1e"/><stop offset="0.621" stop-color="#f7a01a"/><stop offset="0.639" stop-color="#f9c214"/><stop offset="0.665" stop-color="#f5e612"/><stop offset="0.731" stop-color="#f3ee1a"/><stop offset="0.753" stop-color="#f4ef26"/><stop offset="0.767" stop-color="#f5f245"/><stop offset="0.775" stop-color="#f8f67f"/><stop offset="0.78" stop-color="#faf9a0"/><stop offset="0.784" stop-color="#fcfbc6"/><stop offset="0.789" stop-color="#2a1214"/><stop offset="1" stop-color="#2a1214"/></linearGradient><linearGradient id="e37" href="#eg"><stop offset="0" stop-color="#e61f26"/><stop offset="0.304" stop-color="#ec2b24"/><stop offset="0.401" stop-color="#ef4a22"/><stop offset="0.498" stop-color="#f26f1f"/><stop offset="0.546" stop-color="#f3761e"/><stop offset="0.577" stop-color="#f58b1c"/><stop offset="0.595" stop-color="#f58f1c"/><stop offset="0.621" stop-color="#f9bf14"/><stop offset="0.639" stop-color="#f5e512"/><stop offset="0.714" stop-color="#f3ee1a"/><stop offset="0.731" stop-color="#f3ef23"/><stop offset="0.74" stop-color="#f4f030"/><stop offset="0.749" stop-color="#f5f244"/><stop offset="0.753" stop-color="#2a1214"/><stop offset="1" stop-color="#2a1214"/></linearGradient><linearGradient id="e38" href="#eg"><stop offset="0" stop-color="#e72026"/><stop offset="0.295" stop-color="#ec2c24"/><stop offset="0.379" stop-color="#ef4a22"/><stop offset="0.493" stop-color="#f37d1e"/><stop offset="0.546" stop-color="#f58b1c"/><stop offset="0.581" stop-color="#f7a619"/><stop offset="0.595" stop-color="#f8ab18"/><stop offset="0.621" stop-color="#f5e212"/><stop offset="0.626" stop-color="#f5e612"/><stop offset="0.692" stop-color="#f3ee1a"/><stop offset="0.714" stop-color="#f4ef24"/><stop offset="0.731" stop-color="#f5f242"/><stop offset="0.74" stop-color="#f7f56d"/><stop offset="0.749" stop-color="#faf9a1"/><stop offset="0.753" stop-color="#2a1214"/><stop offset="1" stop-color="#2a1214"/></linearGradient><linearGradient id="e39" href="#eg"><stop offset="0" stop-color="#e72126"/><stop offset="0.295" stop-color="#ec2d24"/><stop offset="0.374" stop-color="#ef4b22"/><stop offset="0.48" stop-color="#f37c1e"/><stop offset="0.511" stop-color="#f6931b"/><stop offset="0.546" stop-color="#f79e1a"/><stop offset="0.581" stop-color="#f9c214"/><stop offset="0.595" stop-color="#f8ca13"/><stop offset="0.608" stop-color="#f5e612"/><stop offset="0.674" stop-color="#f3ee1a"/><stop offset="0.696" stop-color="#f4ef24"/><stop offset="0.714" stop-color="#f5f240"/><stop offset="0.731" stop-color="#f9f893"/><stop offset="0.74" stop-color="#fdfccf"/><stop offset="0.744" stop-color="#2a1214"/><stop offset="1" stop-color="#2a1214"/></linearGradient><linearGradient id="e40" href="#eg"><stop offset="0" stop-color="#e82125"/><stop offset="0.238" stop-color="#ec2a24"/><stop offset="0.295" stop-color="#ed2f24"/><stop offset="0.366" stop-color="#ef4a22"/><stop offset="0.48" stop-color="#f37f1e"/><stop offset="0.546" stop-color="#f8b416"/><stop offset="0.59" stop-color="#f5e412"/><stop offset="0.656" stop-color="#f3ee1a"/><stop offset="0.678" stop-color="#f4ef24"/><stop offset="0.696" stop-color="#f5f23e"/><stop offset="0.7" stop-color="#f6f34e"/><stop offset="0.714" stop-color="#f8f788"/><stop offset="0.722" stop-color="#fbfabc"/><stop offset="0.727" stop-color="#2a1214"/><stop offset="1" stop-color="#2a1214"/></linearGradient><linearGradient id="e41" href="#eg"><stop offset="0" stop-color="#e82225"/><stop offset="0.22" stop-color="#ec2a24"/><stop offset="0.295" stop-color="#ed3124"/><stop offset="0.361" stop-color="#ef4a22"/><stop offset="0.48" stop-color="#f4821d"/><stop offset="0.542" stop-color="#f8b516"/><stop offset="0.586" stop-color="#f5e612"/><stop offset="0.639" stop-color="#f3ee1a"/><stop offset="0.661" stop-color="#f4ef24"/><stop offset="0.678" stop-color="#f5f23c"/><stop offset="0.683" stop-color="#f5f347"/><stop offset="0.696" stop-color="#f8f67f"/><stop offset="0.7" stop-color="#2a1214"/><stop offset="1" stop-color="#2a1214"/></linearGradient><linearGradient id="e42" href="#eg"><stop offset="0" stop-color="#e82325"/><stop offset="0.198" stop-color="#ec2a24"/><stop offset="0.295" stop-color="#ed3323"/><stop offset="0.357" stop-color="#ef4b22"/><stop offset="0.48" stop-color="#f4851d"/><stop offset="0.546" stop-color="#f9be14"/><stop offset="0.577" stop-color="#f5e412"/><stop offset="0.621" stop-color="#f3ee1a"/><stop offset="0.643" stop-color="#f3ef23"/><stop offset="0.665" stop-color="#f5f241"/><stop offset="0.687" stop-color="#f9f89b"/><stop offset="0.696" stop-color="#fdfccd"/><stop offset="0.7" stop-color="#2a1214"/><stop offset="1" stop-color="#2a1214"/></linearGradient><linearGradient id="e43" href="#eg"><stop offset="0" stop-color="#e92325"/><stop offset="0.181" stop-color="#ec2a24"/><stop offset="0.295" stop-color="#ed3523"/><stop offset="0.352" stop-color="#ef4b22"/><stop offset="0.48" stop-color="#f4881d"/><stop offset="0.542" stop-color="#f9bf14"/><stop offset="0.573" stop-color="#f5e612"/><stop offset="0.608" stop-color="#f3ee1a"/><stop offset="0.63" stop-color="#f4ef26"/><stop offset="0.648" stop-color="#f5f23e"/><stop offset="0.652" stop-color="#f5f34a"/><stop offset="0.67" stop-color="#f9f78e"/><stop offset="0.683" stop-color="#fdfcd4"/><stop offset="0.687" stop-color="#2a1214"/><stop offset="1" stop-color="#2a1214"/></linearGradient><linearGradient id="e44" href="#eg"><stop offset="0" stop-color="#e82325"/><stop offset="0.163" stop-color="#ec2a24"/><stop offset="0.295" stop-color="#ed3723"/><stop offset="0.344" stop-color="#ef4922"/><stop offset="0.48" stop-color="#f58b1c"/><stop offset="0.537" stop-color="#f9c014"/><stop offset="0.568" stop-color="#f5e612"/><stop offset="0.595" stop-color="#f3ee1b"/><stop offset="0.617" stop-color="#f4ef28"/><stop offset="0.634" stop-color="#f5f242"/><stop offset="0.648" stop-color="#f7f673"/><stop offset="0.652" stop-color="#2a1214"/><stop offset="1" stop-color="#2a1214"/></linearGradient><linearGradient id="e45" href="#eg"><stop offset="0" stop-color="#df1e25"/><stop offset="0.018" stop-color="#e61e26"/><stop offset="0.093" stop-color="#ea2625"/><stop offset="0.295" stop-color="#ed3823"/><stop offset="0.339" stop-color="#ef4a22"/><stop offset="0.48" stop-color="#f58e1c"/><stop offset="0.533" stop-color="#f9c114"/><stop offset="0.564" stop-color="#f5e612"/><stop offset="0.586" stop-color="#f3ee1a"/><stop offset="0.599" stop-color="#f4ef24"/><stop offset="0.617" stop-color="#f5f23c"/><stop offset="0.621" stop-color="#f5f246"/><stop offset="0.626" stop-color="#f6f457"/><stop offset="0.643" stop-color="#f9f89b"/><stop offset="0.648" stop-color="#fbfab0"/><stop offset="0.652" stop-color="#2a1214"/><stop offset="1" stop-color="#2a1214"/></linearGradient><linearGradient id="e46" href="#eg"><stop offset="0" stop-color="#b61c21"/><stop offset="0.097" stop-color="#e61e26"/><stop offset="0.181" stop-color="#ec2a24"/><stop offset="0.225" stop-color="#ed3523"/><stop offset="0.295" stop-color="#ee3c23"/><stop offset="0.48" stop-color="#f6941b"/><stop offset="0.524" stop-color="#f9bc15"/><stop offset="0.559" stop-color="#f5e612"/><stop offset="0.577" stop-color="#f3ee1a"/><stop offset="0.604" stop-color="#f5f23e"/><stop offset="0.608" stop-color="#f5f34a"/><stop offset="0.626" stop-color="#f9f78c"/><stop offset="0.639" stop-color="#fcfbca"/><stop offset="0.643" stop-color="#2a1214"/><stop offset="1" stop-color="#2a1214"/></linearGradient><linearGradient id="e47" href="#eg"><stop offset="0" stop-color="#72191a"/><stop offset="0.053" stop-color="#8f1a1d"/><stop offset="0.119" stop-color="#bf1c22"/><stop offset="0.185" stop-color="#e61e26"/><stop offset="0.251" stop-color="#ec2b24"/><stop offset="0.295" stop-color="#ee3c23"/><stop offset="0.41" stop-color="#f37c1e"/><stop offset="0.48" stop-color="#f79c1a"/><stop offset="0.515" stop-color="#f9c014"/><stop offset="0.551" stop-color="#f5e713"/><stop offset="0.568" stop-color="#f3ee1d"/><stop offset="0.59" stop-color="#f5f240"/><stop offset="0.595" stop-color="#f6f34d"/><stop offset="0.612" stop-color="#f9f88f"/><stop offset="0.626" stop-color="#fdfcce"/><stop offset="0.63" stop-color="#2a1214"/><stop offset="1" stop-color="#2a1214"/></linearGradient><linearGradient id="e48" href="#eg"><stop offset="0" stop-color="#3c1416"/><stop offset="0.044" stop-color="#421416"/><stop offset="0.115" stop-color="#601718"/><stop offset="0.176" stop-color="#871a1c"/><stop offset="0.238" stop-color="#bf1c22"/><stop offset="0.286" stop-color="#e41e26"/><stop offset="0.335" stop-color="#ec2a24"/><stop offset="0.379" stop-color="#ef4922"/><stop offset="0.432" stop-color="#f37b1e"/><stop offset="0.48" stop-color="#f7a219"/><stop offset="0.489" stop-color="#f8af17"/><stop offset="0.537" stop-color="#f5e713"/><stop offset="0.555" stop-color="#f3ed19"/><stop offset="0.577" stop-color="#f5f23f"/><stop offset="0.599" stop-color="#f9f892"/><stop offset="0.604" stop-color="#2a1214"/><stop offset="1" stop-color="#2a1214"/></linearGradient><linearGradient id="e49" href="#eg"><stop offset="0" stop-color="#2c1214"/><stop offset="0.141" stop-color="#341315"/><stop offset="0.238" stop-color="#431416"/><stop offset="0.273" stop-color="#581618"/><stop offset="0.322" stop-color="#7d1a1b"/><stop offset="0.352" stop-color="#9b1b1e"/><stop offset="0.383" stop-color="#be1c22"/><stop offset="0.427" stop-color="#e61e26"/><stop offset="0.463" stop-color="#ec2924"/><stop offset="0.48" stop-color="#ed3723"/><stop offset="0.485" stop-color="#ee4123"/><stop offset="0.489" stop-color="#ef5022"/><stop offset="0.515" stop-color="#f9bd15"/><stop offset="0.524" stop-color="#f6e112"/><stop offset="0.529" stop-color="#f5e814"/><stop offset="0.546" stop-color="#f3ee1a"/><stop offset="0.573" stop-color="#f5f348"/><stop offset="0.581" stop-color="#f3ef23"/><stop offset="0.586" stop-color="#f3ee1a"/><stop offset="0.59" stop-color="#f4f02f"/><stop offset="0.595" stop-color="#fcfbbd"/><stop offset="0.599" stop-color="#fdfcd2"/><stop offset="0.604" stop-color="#2a1214"/><stop offset="1" stop-color="#2a1214"/></linearGradient><linearGradient id="e50" href="#eg"><stop offset="0" stop-color="#2a1214"/><stop offset="0.33" stop-color="#2c1214"/><stop offset="0.414" stop-color="#321315"/><stop offset="0.48" stop-color="#3c1416"/><stop offset="0.489" stop-color="#451416"/><stop offset="0.502" stop-color="#6c1819"/><stop offset="0.511" stop-color="#931b1d"/><stop offset="0.52" stop-color="#c41c22"/><stop offset="0.524" stop-color="#d91d25"/><stop offset="0.529" stop-color="#e72126"/><stop offset="0.533" stop-color="#eb2824"/><stop offset="0.542" stop-color="#ef4822"/><stop offset="0.546" stop-color="#ef4622"/><stop offset="0.555" stop-color="#e72026"/><stop offset="0.559" stop-color="#9c1b1e"/><stop offset="0.564" stop-color="#3c1416"/><stop offset="0.568" stop-color="#2a1214"/><stop offset="1" stop-color="#2a1214"/></linearGradient><linearGradient id="e51" href="#eg"><stop offset="0" stop-color="#2a1214"/><stop offset="1" stop-color="#2a1214"/></linearGradient><linearGradient id="e52" href="#eg"><stop offset="0" stop-color="#2a1214"/><stop offset="0.216" stop-color="#2d1214"/><stop offset="0.388" stop-color="#421416"/><stop offset="0.436" stop-color="#591618"/><stop offset="0.48" stop-color="#74191a"/><stop offset="0.489" stop-color="#8f1a1d"/><stop offset="0.502" stop-color="#c71c23"/><stop offset="0.511" stop-color="#e61f26"/><stop offset="0.52" stop-color="#ec2b24"/><stop offset="0.529" stop-color="#ef4c22"/><stop offset="0.537" stop-color="#f37d1e"/><stop offset="0.542" stop-color="#f5901c"/><stop offset="0.551" stop-color="#f7a519"/><stop offset="0.555" stop-color="#f8a718"/><stop offset="0.564" stop-color="#f79b1a"/><stop offset="0.577" stop-color="#f2721f"/><stop offset="0.581" stop-color="#f16920"/><stop offset="0.586" stop-color="#f26c1f"/><stop offset="0.59" stop-color="#f4851d"/><stop offset="0.595" stop-color="#fcfbbe"/><stop offset="0.599" stop-color="#2a1214"/><stop offset="1" stop-color="#2a1214"/></linearGradient><linearGradient id="e53" href="#eg"><stop offset="0" stop-color="#2f1214"/><stop offset="0.088" stop-color="#371315"/><stop offset="0.159" stop-color="#421416"/><stop offset="0.194" stop-color="#571618"/><stop offset="0.229" stop-color="#73191a"/><stop offset="0.26" stop-color="#921b1d"/><stop offset="0.295" stop-color="#c01c22"/><stop offset="0.344" stop-color="#e61e26"/><stop offset="0.388" stop-color="#ec2924"/><stop offset="0.436" stop-color="#ef4922"/><stop offset="0.48" stop-color="#f2731f"/><stop offset="0.498" stop-color="#f7a01a"/><stop offset="0.507" stop-color="#f8b117"/><stop offset="0.542" stop-color="#f5e312"/><stop offset="0.559" stop-color="#f3ed19"/><stop offset="0.564" stop-color="#f3ee1d"/><stop offset="0.586" stop-color="#f5f243"/><stop offset="0.595" stop-color="#f7f564"/><stop offset="0.604" stop-color="#f9f894"/><stop offset="0.608" stop-color="#2a1214"/><stop offset="1" stop-color="#2a1214"/></linearGradient><linearGradient id="e54" href="#eg"><stop offset="0" stop-color="#421416"/><stop offset="0.057" stop-color="#5b1618"/><stop offset="0.106" stop-color="#77191a"/><stop offset="0.145" stop-color="#951b1d"/><stop offset="0.194" stop-color="#c21c22"/><stop offset="0.247" stop-color="#e61e26"/><stop offset="0.322" stop-color="#ec2a24"/><stop offset="0.388" stop-color="#ef4b22"/><stop offset="0.48" stop-color="#f4861d"/><stop offset="0.533" stop-color="#f9c014"/><stop offset="0.559" stop-color="#f5e612"/><stop offset="0.581" stop-color="#f3ee1e"/><stop offset="0.595" stop-color="#f4f02e"/><stop offset="0.604" stop-color="#f5f240"/><stop offset="0.608" stop-color="#2a1214"/><stop offset="1" stop-color="#2a1214"/></linearGradient><linearGradient id="e55" href="#eg"><stop offset="0" stop-color="#7a191b"/><stop offset="0.048" stop-color="#981b1e"/><stop offset="0.106" stop-color="#c11c22"/><stop offset="0.181" stop-color="#e51e26"/><stop offset="0.295" stop-color="#e92325"/><stop offset="0.335" stop-color="#ec2b24"/><stop offset="0.401" stop-color="#ef4a22"/><stop offset="0.48" stop-color="#f37b1e"/><stop offset="0.542" stop-color="#f9c014"/><stop offset="0.568" stop-color="#f5e512"/><stop offset="0.59" stop-color="#f3ee1a"/><stop offset="0.604" stop-color="#f3ef22"/><stop offset="0.617" stop-color="#f5f13b"/><stop offset="0.621" stop-color="#f6f34b"/><stop offset="0.626" stop-color="#f7f564"/><stop offset="0.634" stop-color="#f9f899"/><stop offset="0.639" stop-color="#fbfabc"/><stop offset="0.643" stop-color="#2a1214"/><stop offset="1" stop-color="#2a1214"/></linearGradient><linearGradient id="e56" href="#eg"><stop offset="0" stop-color="#ad1b20"/><stop offset="0.035" stop-color="#c11c22"/><stop offset="0.115" stop-color="#da1d25"/><stop offset="0.198" stop-color="#e61e26"/><stop offset="0.291" stop-color="#e82225"/><stop offset="0.339" stop-color="#ec2a24"/><stop offset="0.41" stop-color="#ef4b22"/><stop offset="0.48" stop-color="#f3761e"/><stop offset="0.542" stop-color="#f9b815"/><stop offset="0.577" stop-color="#f5e612"/><stop offset="0.608" stop-color="#f3ee1a"/><stop offset="0.621" stop-color="#f3ef23"/><stop offset="0.634" stop-color="#f5f23f"/><stop offset="0.648" stop-color="#f9f78d"/><stop offset="0.656" stop-color="#fdfcd4"/><stop offset="0.661" stop-color="#2a1214"/><stop offset="1" stop-color="#2a1214"/></linearGradient><linearGradient id="e57" href="#eg"><stop offset="0" stop-color="#c61c23"/><stop offset="0.216" stop-color="#e61e26"/><stop offset="0.295" stop-color="#e82125"/><stop offset="0.344" stop-color="#ec2a24"/><stop offset="0.414" stop-color="#ef4a22"/><stop offset="0.48" stop-color="#f2721f"/><stop offset="0.555" stop-color="#f9c014"/><stop offset="0.586" stop-color="#f5e612"/><stop offset="0.621" stop-color="#f3ed19"/><stop offset="0.639" stop-color="#f4ef25"/><stop offset="0.648" stop-color="#f5f139"/><stop offset="0.652" stop-color="#f5f348"/><stop offset="0.656" stop-color="#f7f564"/><stop offset="0.661" stop-color="#2a1214"/><stop offset="1" stop-color="#2a1214"/></linearGradient><linearGradient id="e58" href="#eg"><stop offset="0" stop-color="#c71c23"/><stop offset="0.238" stop-color="#e61e26"/><stop offset="0.295" stop-color="#e72126"/><stop offset="0.348" stop-color="#ec2a24"/><stop offset="0.419" stop-color="#ef4922"/><stop offset="0.48" stop-color="#f26d1f"/><stop offset="0.559" stop-color="#f9bd15"/><stop offset="0.581" stop-color="#f7d713"/><stop offset="0.595" stop-color="#f6df12"/><stop offset="0.599" stop-color="#f5e612"/><stop offset="0.639" stop-color="#f3ed19"/><stop offset="0.656" stop-color="#f4ef28"/><stop offset="0.661" stop-color="#2a1214"/><stop offset="1" stop-color="#2a1214"/></linearGradient><linearGradient id="e59" href="#eg"><stop offset="0" stop-color="#c51c22"/><stop offset="0.256" stop-color="#e61e26"/><stop offset="0.291" stop-color="#e71f26"/><stop offset="0.357" stop-color="#ec2b24"/><stop offset="0.427" stop-color="#ef4a22"/><stop offset="0.48" stop-color="#f16920"/><stop offset="0.524" stop-color="#f6931b"/><stop offset="0.551" stop-color="#f79c1a"/><stop offset="0.577" stop-color="#f8aa18"/><stop offset="0.595" stop-color="#f8ac17"/><stop offset="0.617" stop-color="#f5e512"/><stop offset="0.643" stop-color="#f4eb17"/><stop offset="0.656" stop-color="#f3ed19"/><stop offset="0.67" stop-color="#f3ef22"/><stop offset="0.678" stop-color="#f4f136"/><stop offset="0.683" stop-color="#f5f244"/><stop offset="0.692" stop-color="#f8f784"/><stop offset="0.696" stop-color="#faf9aa"/><stop offset="0.7" stop-color="#2a1214"/><stop offset="1" stop-color="#2a1214"/></linearGradient><linearGradient id="e60" href="#eg"><stop offset="0" stop-color="#c31c22"/><stop offset="0.282" stop-color="#e61e26"/><stop offset="0.361" stop-color="#ec2a24"/><stop offset="0.436" stop-color="#ef4b22"/><stop offset="0.511" stop-color="#f3771e"/><stop offset="0.573" stop-color="#f4841d"/><stop offset="0.595" stop-color="#f4821d"/><stop offset="0.612" stop-color="#f7a519"/><stop offset="0.634" stop-color="#f6df12"/><stop offset="0.639" stop-color="#f5e612"/><stop offset="0.674" stop-color="#f3ed19"/><stop offset="0.687" stop-color="#f3ef23"/><stop offset="0.696" stop-color="#f5f13a"/><stop offset="0.7" stop-color="#f6f353"/><stop offset="0.709" stop-color="#f9f899"/><stop offset="0.714" stop-color="#2a1214"/><stop offset="1" stop-color="#2a1214"/></linearGradient><linearGradient id="e61" href="#eg"><stop offset="0" stop-color="#c11c22"/><stop offset="0.3" stop-color="#e61e26"/><stop offset="0.374" stop-color="#ec2a24"/><stop offset="0.507" stop-color="#f15d20"/><stop offset="0.551" stop-color="#f15d20"/><stop offset="0.577" stop-color="#f16620"/><stop offset="0.595" stop-color="#f16720"/><stop offset="0.612" stop-color="#f37b1e"/><stop offset="0.626" stop-color="#f6931b"/><stop offset="0.643" stop-color="#f9bd14"/><stop offset="0.656" stop-color="#f5e612"/><stop offset="0.696" stop-color="#f3ee1c"/><stop offset="0.705" stop-color="#f4ef26"/><stop offset="0.709" stop-color="#f4f134"/><stop offset="0.714" stop-color="#2a1214"/><stop offset="1" stop-color="#2a1214"/></linearGradient><linearGradient id="e62" href="#eg"><stop offset="0" stop-color="#bf1c22"/><stop offset="0.211" stop-color="#d61d24"/><stop offset="0.291" stop-color="#db1d25"/><stop offset="0.317" stop-color="#e61e26"/><stop offset="0.401" stop-color="#ec2a24"/><stop offset="0.493" stop-color="#ef4522"/><stop offset="0.524" stop-color="#ef4622"/><stop offset="0.577" stop-color="#f05021"/><stop offset="0.595" stop-color="#ef4f22"/><stop offset="0.639" stop-color="#f4811d"/><stop offset="0.652" stop-color="#f79d1a"/><stop offset="0.665" stop-color="#f9c014"/><stop offset="0.674" stop-color="#f6de12"/><stop offset="0.678" stop-color="#f5e713"/><stop offset="0.709" stop-color="#f3ee1a"/><stop offset="0.718" stop-color="#f3ef22"/><stop offset="0.722" stop-color="#f4f02c"/><stop offset="0.727" stop-color="#f5f13a"/><stop offset="0.731" stop-color="#f6f456"/><stop offset="0.74" stop-color="#faf9a6"/><stop offset="0.744" stop-color="#2a1214"/><stop offset="1" stop-color="#2a1214"/></linearGradient><linearGradient id="e63" href="#eg"><stop offset="0" stop-color="#bc1c22"/><stop offset="0.132" stop-color="#ca1d23"/><stop offset="0.291" stop-color="#d21d24"/><stop offset="0.339" stop-color="#e61e26"/><stop offset="0.441" stop-color="#ec2a24"/><stop offset="0.524" stop-color="#ee3b23"/><stop offset="0.573" stop-color="#ee3e23"/><stop offset="0.595" stop-color="#ee3b23"/><stop offset="0.621" stop-color="#ef5022"/><stop offset="0.661" stop-color="#f37f1e"/><stop offset="0.678" stop-color="#f8a918"/><stop offset="0.687" stop-color="#f9c514"/><stop offset="0.696" stop-color="#f5e512"/><stop offset="0.7" stop-color="#f5e713"/><stop offset="0.727" stop-color="#f3ee1b"/><stop offset="0.736" stop-color="#f4ef25"/><stop offset="0.744" stop-color="#f5f245"/><stop offset="0.753" stop-color="#f9f894"/><stop offset="0.758" stop-color="#fcfbc8"/><stop offset="0.762" stop-color="#2a1214"/><stop offset="1" stop-color="#2a1214"/></linearGradient><linearGradient id="e64" href="#eg"><stop offset="0" stop-color="#b91c21"/><stop offset="0.057" stop-color="#c11c22"/><stop offset="0.291" stop-color="#cb1d23"/><stop offset="0.374" stop-color="#e61e26"/><stop offset="0.52" stop-color="#ed3024"/><stop offset="0.573" stop-color="#ec2f24"/><stop offset="0.595" stop-color="#ec2a24"/><stop offset="0.639" stop-color="#ef4822"/><stop offset="0.674" stop-color="#f2711f"/><stop offset="0.683" stop-color="#f37d1e"/><stop offset="0.696" stop-color="#f79d1a"/><stop offset="0.705" stop-color="#f9bc15"/><stop offset="0.714" stop-color="#f5e312"/><stop offset="0.74" stop-color="#f3ed19"/><stop offset="0.749" stop-color="#f3ef21"/><stop offset="0.753" stop-color="#f4f02b"/><stop offset="0.758" stop-color="#f5f13b"/><stop offset="0.762" stop-color="#f6f45b"/><stop offset="0.767" stop-color="#2a1214"/><stop offset="1" stop-color="#2a1214"/></linearGradient><linearGradient id="e65" href="#eg"><stop offset="0" stop-color="#b51c21"/><stop offset="0.167" stop-color="#b81c21"/><stop offset="0.269" stop-color="#c11c22"/><stop offset="0.295" stop-color="#c51c23"/><stop offset="0.396" stop-color="#e61e26"/><stop offset="0.502" stop-color="#eb2824"/><stop offset="0.595" stop-color="#e92425"/><stop offset="0.621" stop-color="#ec2924"/><stop offset="0.665" stop-color="#ef4822"/><stop offset="0.692" stop-color="#f16820"/><stop offset="0.705" stop-color="#f37d1e"/><stop offset="0.709" stop-color="#f58b1c"/><stop offset="0.722" stop-color="#f9bb15"/><stop offset="0.731" stop-color="#f5e412"/><stop offset="0.758" stop-color="#f3ee1a"/><stop offset="0.762" stop-color="#f3ee1e"/><stop offset="0.767" stop-color="#2a1214"/><stop offset="1" stop-color="#2a1214"/></linearGradient><linearGradient id="e66" href="#eg"><stop offset="0" stop-color="#aa1b20"/><stop offset="0.141" stop-color="#aa1b20"/><stop offset="0.216" stop-color="#af1b20"/><stop offset="0.291" stop-color="#bf1c22"/><stop offset="0.419" stop-color="#e61e26"/><stop offset="0.507" stop-color="#e92425"/><stop offset="0.595" stop-color="#e72026"/><stop offset="0.652" stop-color="#ec2a24"/><stop offset="0.692" stop-color="#ef4722"/><stop offset="0.7" stop-color="#f05121"/><stop offset="0.714" stop-color="#f2691f"/><stop offset="0.722" stop-color="#f37b1e"/><stop offset="0.731" stop-color="#f6961b"/><stop offset="0.74" stop-color="#f9ba15"/><stop offset="0.749" stop-color="#f5e412"/><stop offset="0.775" stop-color="#f3ee1b"/><stop offset="0.78" stop-color="#f3ef21"/><stop offset="0.784" stop-color="#f4f02c"/><stop offset="0.789" stop-color="#f5f23d"/><stop offset="0.793" stop-color="#f7f564"/><stop offset="0.797" stop-color="#f9f891"/><stop offset="0.802" stop-color="#fcfbc9"/><stop offset="0.806" stop-color="#2a1214"/><stop offset="1" stop-color="#2a1214"/></linearGradient><linearGradient id="e67" href="#eg"><stop offset="0" stop-color="#9f1b1e"/><stop offset="0.137" stop-color="#9e1b1e"/><stop offset="0.194" stop-color="#a31b1f"/><stop offset="0.291" stop-color="#b71c21"/><stop offset="0.449" stop-color="#e61e26"/><stop offset="0.502" stop-color="#e72126"/><stop offset="0.595" stop-color="#e31e26"/><stop offset="0.604" stop-color="#e61e26"/><stop offset="0.683" stop-color="#ec2a24"/><stop offset="0.7" stop-color="#ed3623"/><stop offset="0.714" stop-color="#ef4622"/><stop offset="0.74" stop-color="#f3781e"/><stop offset="0.744" stop-color="#f4841d"/><stop offset="0.753" stop-color="#f7a519"/><stop offset="0.767" stop-color="#f5e512"/><stop offset="0.789" stop-color="#f3ee1a"/><stop offset="0.793" stop-color="#f3ee1e"/><stop offset="0.797" stop-color="#f4ef25"/><stop offset="0.802" stop-color="#f4f136"/><stop offset="0.806" stop-color="#f6f353"/><stop offset="0.811" stop-color="#f8f781"/><stop offset="0.815" stop-color="#fbfab6"/><stop offset="0.819" stop-color="#2a1214"/><stop offset="1" stop-color="#2a1214"/></linearGradient><linearGradient id="e68" href="#eg"><stop offset="0" stop-color="#941b1d"/><stop offset="0.101" stop-color="#911b1d"/><stop offset="0.207" stop-color="#9e1b1e"/><stop offset="0.291" stop-color="#af1b20"/><stop offset="0.339" stop-color="#c11c22"/><stop offset="0.48" stop-color="#e41e26"/><stop offset="0.595" stop-color="#dd1e25"/><stop offset="0.63" stop-color="#e61e26"/><stop offset="0.7" stop-color="#ea2725"/><stop offset="0.714" stop-color="#ec2d24"/><stop offset="0.731" stop-color="#ee4322"/><stop offset="0.74" stop-color="#f05121"/><stop offset="0.758" stop-color="#f2751f"/><stop offset="0.762" stop-color="#f3801e"/><stop offset="0.767" stop-color="#f5901c"/><stop offset="0.775" stop-color="#f9ba15"/><stop offset="0.78" stop-color="#f7d413"/><stop offset="0.784" stop-color="#f5e713"/><stop offset="0.806" stop-color="#f3ee1c"/><stop offset="0.811" stop-color="#f3ef22"/><stop offset="0.815" stop-color="#f4f02f"/><stop offset="0.819" stop-color="#2a1214"/><stop offset="1" stop-color="#2a1214"/></linearGradient><linearGradient id="e69" href="#eg"><stop offset="0" stop-color="#8a1a1c"/><stop offset="0.097" stop-color="#8a1a1c"/><stop offset="0.211" stop-color="#971b1d"/><stop offset="0.291" stop-color="#a81b1f"/><stop offset="0.361" stop-color="#c01c22"/><stop offset="0.48" stop-color="#db1d25"/><stop offset="0.59" stop-color="#d81d25"/><stop offset="0.656" stop-color="#e61e26"/><stop offset="0.718" stop-color="#ea2625"/><stop offset="0.736" stop-color="#ec2e24"/><stop offset="0.758" stop-color="#ef4c22"/><stop offset="0.771" stop-color="#f16920"/><stop offset="0.78" stop-color="#f4811d"/><stop offset="0.789" stop-color="#f8ab18"/><stop offset="0.797" stop-color="#f6dd12"/><stop offset="0.802" stop-color="#f5e713"/><stop offset="0.819" stop-color="#f3ee1a"/><stop offset="0.824" stop-color="#f3ef1f"/><stop offset="0.828" stop-color="#f4ef27"/><stop offset="0.833" stop-color="#f5f139"/><stop offset="0.837" stop-color="#f6f45e"/><stop offset="0.841" stop-color="#f9f88f"/><stop offset="0.846" stop-color="#fcfbcb"/><stop offset="0.85" stop-color="#2a1214"/><stop offset="1" stop-color="#2a1214"/></linearGradient><linearGradient id="e70" href="#eg"><stop offset="0" stop-color="#801a1b"/><stop offset="0.11" stop-color="#841a1b"/><stop offset="0.189" stop-color="#8c1a1c"/><stop offset="0.282" stop-color="#9e1b1e"/><stop offset="0.388" stop-color="#c01c22"/><stop offset="0.48" stop-color="#d31d24"/><stop offset="0.568" stop-color="#d21d24"/><stop offset="0.674" stop-color="#e61e26"/><stop offset="0.736" stop-color="#e92525"/><stop offset="0.753" stop-color="#ec2a24"/><stop offset="0.767" stop-color="#ee3a23"/><stop offset="0.775" stop-color="#ef4a22"/><stop offset="0.793" stop-color="#f3771e"/><stop offset="0.797" stop-color="#f4861d"/><stop offset="0.806" stop-color="#f8b216"/><stop offset="0.815" stop-color="#f5e612"/><stop offset="0.837" stop-color="#f3ee1c"/><stop offset="0.841" stop-color="#f3ef22"/><stop offset="0.846" stop-color="#f4f032"/><stop offset="0.85" stop-color="#f6f34c"/><stop offset="0.855" stop-color="#f8f67d"/><stop offset="0.859" stop-color="#fbfab7"/><stop offset="0.863" stop-color="#2a1214"/><stop offset="1" stop-color="#2a1214"/></linearGradient><linearGradient id="e71" href="#eg"><stop offset="0" stop-color="#7a191b"/><stop offset="0.115" stop-color="#7d1a1b"/><stop offset="0.194" stop-color="#851a1c"/><stop offset="0.278" stop-color="#951b1d"/><stop offset="0.419" stop-color="#c01c22"/><stop offset="0.48" stop-color="#cb1d23"/><stop offset="0.555" stop-color="#cc1d23"/><stop offset="0.595" stop-color="#d11d24"/><stop offset="0.692" stop-color="#e61e26"/><stop offset="0.758" stop-color="#e92525"/><stop offset="0.775" stop-color="#ec2c24"/><stop offset="0.793" stop-color="#ef4b22"/><stop offset="0.811" stop-color="#f37a1e"/><stop offset="0.819" stop-color="#f7a219"/><stop offset="0.828" stop-color="#f7d613"/><stop offset="0.833" stop-color="#f5e713"/><stop offset="0.85" stop-color="#f3ee1a"/><stop offset="0.859" stop-color="#f4f02a"/><stop offset="0.863" stop-color="#f5f23d"/><stop offset="0.868" stop-color="#f7f56a"/><stop offset="0.872" stop-color="#2a1214"/><stop offset="1" stop-color="#2a1214"/></linearGradient><linearGradient id="e72" href="#eg"><stop offset="0" stop-color="#75191a"/><stop offset="0.119" stop-color="#76191a"/><stop offset="0.198" stop-color="#7e1a1b"/><stop offset="0.286" stop-color="#901b1d"/><stop offset="0.454" stop-color="#c01c22"/><stop offset="0.595" stop-color="#cd1d23"/><stop offset="0.705" stop-color="#e61e26"/><stop offset="0.775" stop-color="#e92425"/><stop offset="0.793" stop-color="#ec2d24"/><stop offset="0.811" stop-color="#ef4c22"/><stop offset="0.828" stop-color="#f37d1e"/><stop offset="0.837" stop-color="#f8a918"/><stop offset="0.846" stop-color="#f6e112"/><stop offset="0.85" stop-color="#f5e814"/><stop offset="0.868" stop-color="#f3ee1c"/><stop offset="0.872" stop-color="#2a1214"/><stop offset="1" stop-color="#2a1214"/></linearGradient><linearGradient id="e73" href="#eg"><stop offset="0" stop-color="#6f181a"/><stop offset="0.119" stop-color="#6f181a"/><stop offset="0.198" stop-color="#77191a"/><stop offset="0.278" stop-color="#871a1c"/><stop offset="0.48" stop-color="#bd1c22"/><stop offset="0.595" stop-color="#c81c23"/><stop offset="0.722" stop-color="#e61e26"/><stop offset="0.793" stop-color="#e92425"/><stop offset="0.811" stop-color="#ec2d24"/><stop offset="0.824" stop-color="#e42"/><stop offset="0.833" stop-color="#f05a21"/><stop offset="0.846" stop-color="#f4821d"/><stop offset="0.855" stop-color="#f8b217"/><stop offset="0.863" stop-color="#f5e612"/><stop offset="0.881" stop-color="#f3ed19"/><stop offset="0.885" stop-color="#f3ef1f"/><stop offset="0.89" stop-color="#f4f029"/><stop offset="0.894" stop-color="#f5f23e"/><stop offset="0.899" stop-color="#f7f674"/><stop offset="0.903" stop-color="#fbfab5"/><stop offset="0.907" stop-color="#2a1214"/><stop offset="1" stop-color="#2a1214"/></linearGradient><linearGradient id="e74" href="#eg"><stop offset="0" stop-color="#6a1819"/><stop offset="0.119" stop-color="#691819"/><stop offset="0.194" stop-color="#6f181a"/><stop offset="0.273" stop-color="#7f1a1b"/><stop offset="0.48" stop-color="#b41c21"/><stop offset="0.595" stop-color="#c41c22"/><stop offset="0.74" stop-color="#e61e26"/><stop offset="0.811" stop-color="#e92425"/><stop offset="0.828" stop-color="#ec2d24"/><stop offset="0.841" stop-color="#ef4522"/><stop offset="0.855" stop-color="#f26a1f"/><stop offset="0.863" stop-color="#f4881d"/><stop offset="0.872" stop-color="#f8b616"/><stop offset="0.877" stop-color="#f7d213"/><stop offset="0.881" stop-color="#f5e713"/><stop offset="0.899" stop-color="#f3ee1b"/><stop offset="0.903" stop-color="#f3ef22"/><stop offset="0.907" stop-color="#f4f134"/><stop offset="0.912" stop-color="#f6f45c"/><stop offset="0.916" stop-color="#f9f89a"/><stop offset="0.921" stop-color="#2a1214"/><stop offset="1" stop-color="#2a1214"/></linearGradient><linearGradient id="e75" href="#eg"><stop offset="0" stop-color="#641719"/><stop offset="0.119" stop-color="#621719"/><stop offset="0.198" stop-color="#691819"/><stop offset="0.48" stop-color="#ac1b20"/><stop offset="0.595" stop-color="#bf1c22"/><stop offset="0.753" stop-color="#e51e26"/><stop offset="0.824" stop-color="#e92325"/><stop offset="0.841" stop-color="#ec2924"/><stop offset="0.85" stop-color="#ed3523"/><stop offset="0.859" stop-color="#ef4722"/><stop offset="0.872" stop-color="#f2691f"/><stop offset="0.881" stop-color="#f4851d"/><stop offset="0.885" stop-color="#f79c1a"/><stop offset="0.894" stop-color="#f7d413"/><stop offset="0.899" stop-color="#f5e713"/><stop offset="0.912" stop-color="#f3ed19"/><stop offset="0.916" stop-color="#f3ee1e"/><stop offset="0.921" stop-color="#f4f028"/><stop offset="0.925" stop-color="#2a1214"/><stop offset="1" stop-color="#2a1214"/></linearGradient><linearGradient id="e76" href="#eg"><stop offset="0" stop-color="#5f1718"/><stop offset="0.11" stop-color="#5b1618"/><stop offset="0.203" stop-color="#641719"/><stop offset="0.48" stop-color="#a31b1f"/><stop offset="0.595" stop-color="#b71c21"/><stop offset="0.771" stop-color="#e61e26"/><stop offset="0.841" stop-color="#e92325"/><stop offset="0.859" stop-color="#ec2924"/><stop offset="0.868" stop-color="#ed3423"/><stop offset="0.881" stop-color="#ef4e22"/><stop offset="0.899" stop-color="#f4831d"/><stop offset="0.903" stop-color="#f79b1a"/><stop offset="0.912" stop-color="#f7d713"/><stop offset="0.916" stop-color="#f5e713"/><stop offset="0.921" stop-color="#f4e915"/><stop offset="0.925" stop-color="#2a1214"/><stop offset="1" stop-color="#2a1214"/></linearGradient><linearGradient id="e77" href="#eg"><stop offset="0" stop-color="#591618"/><stop offset="0.115" stop-color="#551618"/><stop offset="0.203" stop-color="#5e1718"/><stop offset="0.48" stop-color="#9b1b1e"/><stop offset="0.595" stop-color="#b01b20"/><stop offset="0.639" stop-color="#c01c22"/><stop offset="0.789" stop-color="#e61e26"/><stop offset="0.863" stop-color="#e92525"/><stop offset="0.881" stop-color="#ec2b24"/><stop offset="0.899" stop-color="#ef4922"/><stop offset="0.916" stop-color="#f3801e"/><stop offset="0.925" stop-color="#f8b716"/><stop offset="0.93" stop-color="#f6da13"/><stop offset="0.934" stop-color="#f5e814"/><stop offset="0.947" stop-color="#f3ee1c"/><stop offset="0.952" stop-color="#f4ef27"/><stop offset="0.956" stop-color="#f5f347"/><stop offset="0.96" stop-color="#f9f892"/><stop offset="0.965" stop-color="#2a1214"/><stop offset="1" stop-color="#2a1214"/></linearGradient><linearGradient id="e78" href="#eg"><stop offset="0" stop-color="#531617"/><stop offset="0.119" stop-color="#4f1517"/><stop offset="0.207" stop-color="#581618"/><stop offset="0.48" stop-color="#931b1d"/><stop offset="0.595" stop-color="#a71b1f"/><stop offset="0.661" stop-color="#c01c22"/><stop offset="0.806" stop-color="#e61e26"/><stop offset="0.885" stop-color="#ea2525"/><stop offset="0.903" stop-color="#ec2d24"/><stop offset="0.912" stop-color="#ee3c23"/><stop offset="0.921" stop-color="#f05021"/><stop offset="0.934" stop-color="#f37d1e"/><stop offset="0.938" stop-color="#f6981b"/><stop offset="0.943" stop-color="#f9b815"/><stop offset="0.947" stop-color="#f6de12"/><stop offset="0.952" stop-color="#f4e814"/><stop offset="0.96" stop-color="#f3ed19"/><stop offset="0.965" stop-color="#f3ef20"/><stop offset="0.969" stop-color="#f4f135"/><stop offset="0.974" stop-color="#f7f673"/><stop offset="0.978" stop-color="#2a1214"/><stop offset="1" stop-color="#2a1214"/></linearGradient><linearGradient id="e79" href="#eg"><stop offset="0" stop-color="#4e1517"/><stop offset="0.119" stop-color="#4a1517"/><stop offset="0.207" stop-color="#521617"/><stop offset="0.48" stop-color="#8b1a1c"/><stop offset="0.595" stop-color="#9f1b1e"/><stop offset="0.683" stop-color="#c01c22"/><stop offset="0.824" stop-color="#e61e26"/><stop offset="0.907" stop-color="#ea2525"/><stop offset="0.921" stop-color="#ec2a24"/><stop offset="0.925" stop-color="#ec2f24"/><stop offset="0.938" stop-color="#ef4b22"/><stop offset="0.952" stop-color="#f37b1e"/><stop offset="0.956" stop-color="#f6961b"/><stop offset="0.96" stop-color="#f9b915"/><stop offset="0.965" stop-color="#f5e212"/><stop offset="0.974" stop-color="#f4eb17"/><stop offset="0.978" stop-color="#2a1214"/><stop offset="1" stop-color="#2a1214"/></linearGradient><linearGradient id="e80" href="#eg"><stop offset="0" stop-color="#491517"/><stop offset="0.119" stop-color="#441416"/><stop offset="0.211" stop-color="#4d1517"/><stop offset="0.595" stop-color="#971b1d"/><stop offset="0.705" stop-color="#c01c22"/><stop offset="0.837" stop-color="#e61e26"/><stop offset="0.93" stop-color="#ea2625"/><stop offset="0.943" stop-color="#ec2b24"/><stop offset="0.956" stop-color="#ef4522"/><stop offset="0.969" stop-color="#f3781e"/><stop offset="0.974" stop-color="#f6931b"/><stop offset="0.978" stop-color="#f9b915"/><stop offset="0.982" stop-color="#f5e612"/><stop offset="0.996" stop-color="#f3ee1e"/><stop offset="1" stop-color="#f4f136"/></linearGradient><linearGradient id="e81" href="#eg"><stop offset="0" stop-color="#451416"/><stop offset="0.132" stop-color="#401416"/><stop offset="0.216" stop-color="#491517"/><stop offset="0.595" stop-color="#8e1a1c"/><stop offset="0.727" stop-color="#c01c22"/><stop offset="0.85" stop-color="#e61e26"/><stop offset="0.952" stop-color="#ea2625"/><stop offset="0.965" stop-color="#ec2c24"/><stop offset="0.969" stop-color="#ed3423"/><stop offset="0.978" stop-color="#ef4d22"/><stop offset="0.987" stop-color="#f2731f"/><stop offset="0.991" stop-color="#f58f1c"/><stop offset="0.996" stop-color="#f9b915"/><stop offset="1" stop-color="#f5e713"/></linearGradient><linearGradient id="e82" href="#eg"><stop offset="0" stop-color="#411416"/><stop offset="0.115" stop-color="#3e1416"/><stop offset="0.207" stop-color="#421416"/><stop offset="0.551" stop-color="#7d1a1b"/><stop offset="0.608" stop-color="#891a1c"/><stop offset="0.753" stop-color="#c11c22"/><stop offset="0.868" stop-color="#e61e26"/><stop offset="0.965" stop-color="#e92425"/><stop offset="0.978" stop-color="#ea2725"/><stop offset="0.987" stop-color="#ec2e24"/><stop offset="0.996" stop-color="#ef4522"/><stop offset="1" stop-color="#f05821"/></linearGradient><linearGradient id="e83" href="#eg"><stop offset="0" stop-color="#3f1416"/><stop offset="0.119" stop-color="#3c1315"/><stop offset="0.238" stop-color="#421416"/><stop offset="0.595" stop-color="#7c1a1b"/><stop offset="0.674" stop-color="#961b1d"/><stop offset="0.775" stop-color="#c01c22"/><stop offset="0.881" stop-color="#e51e26"/><stop offset="1" stop-color="#ea2725"/></linearGradient><linearGradient id="e84" href="#eg"><stop offset="0" stop-color="#3d1416"/><stop offset="0.119" stop-color="#3a1315"/><stop offset="0.273" stop-color="#421416"/><stop offset="0.595" stop-color="#73191a"/><stop offset="0.7" stop-color="#951b1d"/><stop offset="0.899" stop-color="#e61e26"/><stop offset="1" stop-color="#e92425"/></linearGradient><linearGradient id="e85" href="#eg"><stop offset="0" stop-color="#3b1315"/><stop offset="0.115" stop-color="#381315"/><stop offset="0.313" stop-color="#421416"/><stop offset="0.595" stop-color="#6a1819"/><stop offset="0.727" stop-color="#941b1d"/><stop offset="0.907" stop-color="#e21e26"/><stop offset="0.925" stop-color="#e61e26"/><stop offset="1" stop-color="#e82325"/></linearGradient><linearGradient id="e86" href="#eg"><stop offset="0" stop-color="#391315"/><stop offset="0.115" stop-color="#361315"/><stop offset="0.361" stop-color="#421416"/><stop offset="0.595" stop-color="#601718"/><stop offset="0.674" stop-color="#76191a"/><stop offset="0.744" stop-color="#8f1a1d"/><stop offset="0.811" stop-color="#ab1b20"/><stop offset="0.846" stop-color="#c01c22"/><stop offset="0.907" stop-color="#da1d25"/><stop offset="0.952" stop-color="#e61e26"/><stop offset="1" stop-color="#e82225"/></linearGradient><linearGradient id="e87" href="#eg"><stop offset="0" stop-color="#371315"/><stop offset="0.11" stop-color="#341315"/><stop offset="0.414" stop-color="#421416"/><stop offset="0.595" stop-color="#571618"/><stop offset="0.687" stop-color="#6f181a"/><stop offset="0.767" stop-color="#8a1a1c"/><stop offset="0.811" stop-color="#9d1b1e"/><stop offset="0.868" stop-color="#c01c22"/><stop offset="0.907" stop-color="#d11d24"/><stop offset="0.974" stop-color="#e51e26"/><stop offset="1" stop-color="#e72026"/></linearGradient><linearGradient id="e88" href="#eg"><stop offset="0" stop-color="#351315"/><stop offset="0.088" stop-color="#321315"/><stop offset="0.264" stop-color="#381315"/><stop offset="0.48" stop-color="#421416"/><stop offset="0.595" stop-color="#4e1517"/><stop offset="0.692" stop-color="#651719"/><stop offset="0.775" stop-color="#801a1b"/><stop offset="0.815" stop-color="#901b1d"/><stop offset="0.894" stop-color="#c11c22"/><stop offset="1" stop-color="#e51e26"/></linearGradient><linearGradient id="e89" href="#eg"><stop offset="0" stop-color="#331315"/><stop offset="0.145" stop-color="#321315"/><stop offset="0.595" stop-color="#451416"/><stop offset="0.705" stop-color="#5d1718"/><stop offset="0.802" stop-color="#7b1a1b"/><stop offset="0.846" stop-color="#921b1d"/><stop offset="0.907" stop-color="#b91c21"/><stop offset="1" stop-color="#da1d25"/></linearGradient><linearGradient id="e90" href="#eg"><stop offset="0" stop-color="#321315"/><stop offset="0.167" stop-color="#321315"/><stop offset="0.63" stop-color="#421416"/><stop offset="0.727" stop-color="#571618"/><stop offset="0.811" stop-color="#6f181a"/><stop offset="0.855" stop-color="#851a1c"/><stop offset="0.907" stop-color="#a51b1f"/><stop offset="1" stop-color="#ce1d23"/></linearGradient><linearGradient id="e91" href="#eg"><stop offset="0" stop-color="#301214"/><stop offset="0.057" stop-color="#2e1214"/><stop offset="0.326" stop-color="#341315"/><stop offset="0.595" stop-color="#3c1315"/><stop offset="0.687" stop-color="#421416"/><stop offset="0.815" stop-color="#611719"/><stop offset="1" stop-color="#bf1c22"/></linearGradient><linearGradient id="e92" href="#eg"><stop offset="0" stop-color="#2e1214"/><stop offset="0.551" stop-color="#371315"/><stop offset="0.749" stop-color="#421416"/><stop offset="0.837" stop-color="#5a1618"/><stop offset="0.956" stop-color="#8e1a1d"/><stop offset="1" stop-color="#a51b1f"/></linearGradient><linearGradient id="e93" href="#eg"><stop offset="0" stop-color="#2c1214"/><stop offset="0.595" stop-color="#351315"/><stop offset="0.811" stop-color="#411416"/><stop offset="0.947" stop-color="#71191a"/><stop offset="1" stop-color="#881a1c"/></linearGradient><linearGradient id="e94" href="#eg"><stop offset="0" stop-color="#2b1214"/><stop offset="0.595" stop-color="#321315"/><stop offset="0.797" stop-color="#3a1315"/><stop offset="0.877" stop-color="#431416"/><stop offset="1" stop-color="#6a1819"/></linearGradient><linearGradient id="e95" href="#eg"><stop offset="0" stop-color="#2b1214"/><stop offset="0.744" stop-color="#331315"/><stop offset="0.96" stop-color="#411416"/><stop offset="1" stop-color="#4c1517"/></linearGradient><linearGradient id="e96" href="#eg"><stop offset="0" stop-color="#2a1214"/><stop offset="0.714" stop-color="#2e1214"/><stop offset="1" stop-color="#3a1315"/></linearGradient><linearGradient id="e97" href="#eg"><stop offset="0" stop-color="#2a1214"/><stop offset="1" stop-color="#2f1214"/></linearGradient><linearGradient id="e98" href="#eg"><stop offset="0" stop-color="#2a1214"/><stop offset="1" stop-color="#2a1214"/></linearGradient><linearGradient id="e99" href="#eg"><stop offset="0" stop-color="#2a1214"/><stop offset="1" stop-color="#2a1214"/></linearGradient><clipPath id="cle"><rect x="542.8" y="355.2" width="236.2" height="227.0"/></clipPath><radialGradient id="ag" cx="0.5" cy="0.48" r="0.55"><stop offset="0" stop-color="#a2ec84"/><stop offset="0.4" stop-color="#5ec24a"/><stop offset="0.78" stop-color="#2f9632"/><stop offset="1" stop-color="#1c6c24"/></radialGradient><circle id="aA" r="3.0" fill="url(#ag)" stroke="#1f6e26" stroke-width="0.5"/><circle id="aB" r="3.1" fill="url(#ag)" stroke="#1f6e26" stroke-width="0.5"/><clipPath id="latclip"><rect x="17.3" y="41.0" width="298.3" height="223.3"/></clipPath><path id="lb" d="M-0.0 78.8L18.3 89.3M-0.0 89.3L18.3 89.3M-0.0 99.9L18.3 89.3M-0.0 121.1L18.3 121.1M-0.0 142.3L18.3 152.9M-0.0 152.9L18.3 152.9M-0.0 163.5L18.3 152.9M-0.0 184.7L18.3 184.7M-0.0 205.9L18.3 216.5M-0.0 216.5L18.3 216.5M-0.0 227.0L18.3 216.5M9.1 41.7L18.3 25.8M9.1 41.7L18.3 47.0M9.1 41.7L18.3 47.0M9.1 41.7L18.3 57.6M9.1 73.5L18.3 57.6M9.1 73.5L18.3 68.2M9.1 73.5L18.3 68.2M9.1 73.5L18.3 89.3M9.1 105.2L18.3 89.3M9.1 105.2L18.3 110.5M9.1 105.2L18.3 110.5M9.1 105.2L18.3 121.1M9.1 137.0L18.3 121.1M9.1 137.0L18.3 131.7M9.1 137.0L18.3 131.7M9.1 137.0L18.3 152.9M9.1 168.8L18.3 152.9M9.1 168.8L18.3 174.1M9.1 168.8L18.3 174.1M9.1 168.8L18.3 184.7M9.1 200.6L18.3 184.7M9.1 200.6L18.3 195.3M9.1 200.6L18.3 216.5M9.1 232.3L18.3 216.5M9.1 232.3L18.3 237.6M9.1 232.3L18.3 248.2M9.1 264.1L18.3 248.2M9.1 264.1L18.3 258.8M9.1 264.1L18.3 258.8M9.1 264.1L18.3 280.0M18.3 25.8L18.3 47.0M18.3 25.8L27.5 41.7M18.3 47.0L18.3 57.6M18.3 47.0L18.3 57.6M18.3 47.0L27.5 41.7M18.3 47.0L36.7 57.6M18.3 57.6L18.3 68.2M18.3 57.6L36.7 57.6M18.3 68.2L18.3 89.3M18.3 68.2L27.5 73.5M18.3 68.2L36.7 57.6M18.3 89.3L18.3 110.5M18.3 89.3L27.5 73.5M18.3 89.3L27.5 105.2M18.3 89.3L36.7 78.8M18.3 89.3L36.7 89.3M18.3 89.3L36.7 99.9M18.3 110.5L18.3 121.1M18.3 110.5L18.3 121.1M18.3 110.5L27.5 105.2M18.3 110.5L27.5 105.2M18.3 110.5L36.7 99.9M18.3 110.5L36.7 121.1M18.3 121.1L18.3 131.7M18.3 121.1L18.3 131.7M18.3 121.1L36.7 121.1M18.3 131.7L18.3 152.9M18.3 131.7L27.5 137.0M18.3 131.7L27.5 137.0M18.3 131.7L36.7 121.1M18.3 152.9L18.3 174.1M18.3 152.9L27.5 137.0M18.3 152.9L27.5 168.8M18.3 152.9L36.7 142.3M18.3 152.9L36.7 152.9M18.3 152.9L36.7 163.5M18.3 174.1L18.3 184.7M18.3 174.1L18.3 184.7M18.3 174.1L27.5 168.8M18.3 174.1L27.5 168.8M18.3 174.1L36.7 184.7M18.3 184.7L18.3 195.3M18.3 184.7L18.3 195.3M18.3 184.7L36.7 184.7M18.3 195.3L18.3 216.5M18.3 195.3L36.7 184.7M18.3 195.3L36.7 205.9M18.3 216.5L18.3 237.6M18.3 216.5L27.5 232.3M18.3 216.5L36.7 205.9M18.3 216.5L36.7 216.5M18.3 216.5L36.7 227.0M18.3 237.6L18.3 248.2M18.3 237.6L18.3 248.2M18.3 237.6L27.5 232.3M18.3 237.6L27.5 232.3M18.3 237.6L36.7 248.2M18.3 248.2L18.3 258.8M18.3 248.2L18.3 258.8M18.3 248.2L36.7 248.2M18.3 258.8L18.3 280.0M18.3 258.8L27.5 264.1M18.3 258.8L27.5 264.1M18.3 258.8L36.7 248.2M18.3 280.0L27.5 264.1M27.5 41.7L36.7 36.4M27.5 41.7L36.7 36.4M27.5 41.7L36.7 57.6M27.5 73.5L36.7 57.6M27.5 73.5L36.7 78.8M27.5 105.2L36.7 99.9M27.5 105.2L36.7 99.9M27.5 105.2L36.7 121.1M27.5 137.0L36.7 121.1M27.5 137.0L36.7 142.3M27.5 137.0L36.7 142.3M27.5 168.8L36.7 163.5M27.5 168.8L36.7 163.5M27.5 168.8L36.7 184.7M27.5 232.3L36.7 227.0M27.5 264.1L36.7 269.4M27.5 232.3L36.7 227.0M27.5 232.3L36.7 248.2M27.5 264.1L36.7 248.2M27.5 264.1L36.7 269.4M36.7 25.8L45.9 41.7M36.7 36.4L36.7 57.6M36.7 36.4L45.9 41.7M36.7 36.4L45.9 41.7M36.7 57.6L36.7 78.8M36.7 57.6L45.9 41.7M36.7 57.6L45.9 73.5M36.7 57.6L55.1 47.0M36.7 57.6L55.1 68.2M36.7 78.8L36.7 89.3M36.7 78.8L36.7 89.3M36.7 78.8L45.9 73.5M36.7 78.8L45.9 73.5M36.7 89.3L36.7 99.9M36.7 89.3L36.7 99.9M36.7 89.3L45.9 73.5M36.7 89.3L45.9 105.2M36.7 89.3L55.1 89.3M36.7 99.9L36.7 121.1M36.7 99.9L45.9 105.2M36.7 99.9L45.9 105.2M36.7 121.1L36.7 142.3M36.7 121.1L45.9 105.2M36.7 121.1L45.9 137.0M36.7 121.1L55.1 110.5M36.7 121.1L55.1 121.1M36.7 121.1L55.1 131.7M36.7 142.3L36.7 152.9M36.7 142.3L36.7 152.9M36.7 142.3L45.9 137.0M36.7 142.3L45.9 137.0M36.7 152.9L36.7 163.5M36.7 152.9L36.7 163.5M36.7 152.9L45.9 137.0M36.7 152.9L45.9 168.8M36.7 163.5L36.7 184.7M36.7 163.5L45.9 168.8M36.7 163.5L45.9 168.8M36.7 184.7L36.7 205.9M36.7 184.7L45.9 168.8M36.7 184.7L45.9 200.6M36.7 184.7L55.1 174.1M36.7 184.7L55.1 184.7M36.7 184.7L55.1 195.3M36.7 205.9L36.7 216.5M36.7 205.9L36.7 216.5M36.7 205.9L45.9 200.6M36.7 216.5L36.7 227.0M36.7 216.5L36.7 227.0M36.7 216.5L45.9 200.6M36.7 216.5L45.9 232.3M36.7 216.5L55.1 216.5M36.7 227.0L36.7 248.2M36.7 227.0L45.9 232.3M36.7 227.0L45.9 232.3M36.7 248.2L36.7 269.4M36.7 248.2L45.9 232.3M36.7 248.2L45.9 264.1M36.7 248.2L55.1 237.6M36.7 248.2L55.1 258.8M36.7 269.4L45.9 264.1M36.7 269.4L45.9 264.1M36.7 280.0L45.9 264.1M45.9 41.7L55.1 25.8M45.9 41.7L55.1 47.0M45.9 41.7L55.1 47.0M45.9 41.7L64.3 41.7M45.9 73.5L55.1 68.2M45.9 73.5L55.1 68.2M45.9 73.5L55.1 89.3M45.9 73.5L64.3 73.5M45.9 105.2L55.1 89.3M45.9 105.2L55.1 110.5M45.9 105.2L55.1 110.5M45.9 105.2L64.3 105.2M45.9 137.0L55.1 131.7M45.9 137.0L55.1 131.7M45.9 137.0L64.3 137.0M45.9 168.8L55.1 174.1M45.9 168.8L55.1 174.1M45.9 168.8L64.3 168.8M45.9 200.6L55.1 195.3M45.9 200.6L55.1 216.5M45.9 200.6L64.3 200.6M45.9 232.3L55.1 216.5M45.9 232.3L55.1 237.6M45.9 232.3L55.1 237.6M45.9 232.3L64.3 232.3M45.9 264.1L55.1 258.8M45.9 264.1L55.1 258.8M45.9 264.1L55.1 280.0M45.9 264.1L64.3 264.1M55.1 25.8L64.3 41.7M55.1 47.0L55.1 68.2M55.1 47.0L64.3 41.7M55.1 47.0L73.5 57.6M55.1 68.2L64.3 73.5M55.1 68.2L64.3 73.5M55.1 68.2L73.5 57.6M55.1 89.3L64.3 73.5M55.1 89.3L64.3 105.2M55.1 89.3L73.5 89.3M55.1 110.5L55.1 121.1M55.1 110.5L55.1 121.1M55.1 110.5L64.3 105.2M55.1 110.5L64.3 105.2M55.1 110.5L73.5 121.1M55.1 121.1L55.1 131.7M55.1 121.1L55.1 131.7M55.1 121.1L73.5 121.1M55.1 131.7L64.3 137.0M55.1 131.7L64.3 137.0M55.1 131.7L73.5 121.1M55.1 174.1L55.1 184.7M55.1 174.1L55.1 184.7M55.1 174.1L64.3 168.8M55.1 174.1L64.3 168.8M55.1 174.1L73.5 184.7M55.1 184.7L55.1 195.3M55.1 184.7L55.1 195.3M55.1 184.7L73.5 184.7M55.1 195.3L64.3 200.6M55.1 195.3L64.3 200.6M55.1 195.3L73.5 184.7M55.1 216.5L64.3 200.6M55.1 216.5L64.3 232.3M55.1 216.5L73.5 216.5M55.1 237.6L55.1 258.8M55.1 237.6L64.3 232.3M55.1 237.6L64.3 232.3M55.1 237.6L73.5 248.2M55.1 258.8L64.3 264.1M55.1 258.8L64.3 264.1M55.1 258.8L73.5 248.2M55.1 280.0L64.3 264.1M64.3 41.7L73.5 25.8M64.3 41.7L73.5 36.4M64.3 41.7L73.5 36.4M64.3 41.7L73.5 57.6M64.3 73.5L73.5 57.6M64.3 73.5L73.5 78.8M64.3 73.5L73.5 78.8M64.3 73.5L73.5 89.3M64.3 105.2L73.5 89.3M64.3 105.2L73.5 99.9M64.3 105.2L73.5 99.9M64.3 105.2L73.5 121.1M64.3 137.0L73.5 121.1M64.3 137.0L73.5 142.3M64.3 137.0L73.5 142.3M64.3 137.0L73.5 152.9M64.3 168.8L73.5 152.9M64.3 168.8L73.5 163.5M64.3 168.8L73.5 163.5M64.3 168.8L73.5 184.7M64.3 200.6L73.5 184.7M64.3 200.6L73.5 205.9M64.3 200.6L73.5 205.9M64.3 200.6L73.5 216.5M64.3 232.3L73.5 216.5M64.3 232.3L73.5 227.0M64.3 232.3L73.5 227.0M64.3 232.3L73.5 248.2M64.3 264.1L73.5 248.2M64.3 264.1L73.5 269.4M64.3 264.1L73.5 269.4M64.3 264.1L73.5 280.0M73.5 36.4L73.5 57.6M73.5 36.4L82.7 41.7M73.5 36.4L82.7 41.7M73.5 57.6L73.5 78.8M73.5 57.6L82.7 41.7M73.5 57.6L82.7 73.5M73.5 57.6L91.9 47.0M73.5 57.6L91.9 57.6M73.5 57.6L91.9 68.2M73.5 78.8L73.5 89.3M73.5 78.8L73.5 89.3M73.5 78.8L82.7 73.5M73.5 78.8L82.7 73.5M73.5 78.8L91.9 89.3M73.5 89.3L73.5 99.9M73.5 89.3L73.5 99.9M73.5 89.3L91.9 89.3M73.5 99.9L73.5 121.1M73.5 99.9L91.9 89.3M73.5 99.9L91.9 110.5M73.5 121.1L73.5 142.3M73.5 121.1L82.7 137.0M73.5 121.1L91.9 110.5M73.5 121.1L91.9 121.1M73.5 121.1L91.9 131.7M73.5 142.3L73.5 152.9M73.5 142.3L73.5 152.9M73.5 142.3L82.7 137.0M73.5 142.3L82.7 137.0M73.5 142.3L91.9 152.9M73.5 152.9L73.5 163.5M73.5 152.9L73.5 163.5M73.5 152.9L91.9 152.9M73.5 163.5L73.5 184.7M73.5 163.5L82.7 168.8M73.5 163.5L82.7 168.8M73.5 163.5L91.9 152.9M73.5 184.7L73.5 205.9M73.5 184.7L82.7 168.8M73.5 184.7L91.9 174.1M73.5 184.7L91.9 184.7M73.5 184.7L91.9 195.3M73.5 205.9L73.5 216.5M73.5 205.9L73.5 216.5M73.5 205.9L91.9 195.3M73.5 205.9L91.9 216.5M73.5 216.5L73.5 227.0M73.5 216.5L73.5 227.0M73.5 216.5L91.9 216.5M73.5 227.0L73.5 248.2M73.5 227.0L82.7 232.3M73.5 227.0L82.7 232.3M73.5 227.0L91.9 216.5M73.5 248.2L73.5 269.4M73.5 248.2L82.7 232.3M73.5 248.2L82.7 264.1M73.5 248.2L91.9 237.6M73.5 248.2L91.9 248.2M73.5 248.2L91.9 258.8M73.5 269.4L82.7 264.1M73.5 269.4L82.7 264.1M82.7 41.7L91.9 25.8M82.7 41.7L91.9 47.0M82.7 41.7L91.9 47.0M82.7 73.5L91.9 68.2M82.7 73.5L91.9 68.2M82.7 73.5L91.9 89.3M82.7 137.0L91.9 131.7M82.7 137.0L91.9 131.7M82.7 137.0L91.9 152.9M82.7 168.8L91.9 152.9M82.7 168.8L91.9 174.1M82.7 168.8L91.9 174.1M82.7 232.3L91.9 216.5M82.7 232.3L91.9 237.6M82.7 232.3L91.9 237.6M82.7 264.1L91.9 258.8M82.7 264.1L91.9 258.8M82.7 264.1L91.9 280.0M91.9 25.8L91.9 47.0M91.9 25.8L101.1 41.7M91.9 47.0L91.9 57.6M91.9 47.0L91.9 57.6M91.9 47.0L101.1 41.7M91.9 57.6L91.9 68.2M91.9 57.6L91.9 68.2M91.9 57.6L101.1 41.7M91.9 57.6L101.1 73.5M91.9 68.2L91.9 89.3M91.9 68.2L101.1 73.5M91.9 68.2L101.1 73.5M91.9 89.3L91.9 110.5M91.9 89.3L101.1 73.5M91.9 89.3L101.1 105.2M91.9 89.3L110.2 78.8M91.9 89.3L110.2 89.3M91.9 89.3L110.3 99.9M91.9 110.5L91.9 121.1M91.9 110.5L91.9 121.1M91.9 110.5L101.1 105.2M91.9 110.5L101.1 105.2M91.9 121.1L91.9 131.7M91.9 121.1L91.9 131.7M91.9 121.1L101.1 105.2M91.9 121.1L101.1 137.0M91.9 121.1L110.2 121.1M91.9 131.7L91.9 152.9M91.9 131.7L101.1 137.0M91.9 131.7L101.1 137.0M91.9 152.9L91.9 174.1M91.9 152.9L101.1 137.0M91.9 152.9L101.1 168.8M91.9 152.9L110.2 142.3M91.9 152.9L110.3 163.5M91.9 174.1L91.9 184.7M91.9 174.1L91.9 184.7M91.9 174.1L101.1 168.8M91.9 174.1L101.1 168.8M91.9 184.7L91.9 195.3M91.9 184.7L91.9 195.3M91.9 184.7L101.1 168.8M91.9 184.7L101.1 200.6M91.9 184.7L110.2 184.7M91.9 195.3L91.9 216.5M91.9 195.3L101.1 200.6M91.9 195.3L101.1 200.6M91.9 216.5L91.9 237.6M91.9 216.5L101.1 200.6M91.9 216.5L101.1 232.3M91.9 216.5L110.2 205.9M91.9 216.5L110.2 216.5M91.9 216.5L110.3 227.0M91.9 237.6L91.9 248.2M91.9 237.6L91.9 248.2M91.9 237.6L101.1 232.3M91.9 237.6L101.1 232.3M91.9 248.2L91.9 258.8M91.9 248.2L91.9 258.8M91.9 248.2L101.1 232.3M91.9 248.2L101.1 264.1M91.9 258.8L91.9 280.0M91.9 258.8L101.1 264.1M91.9 258.8L101.1 264.1M91.9 280.0L101.1 264.1M101.1 41.7L110.2 36.4M101.1 41.7L110.3 36.4M101.1 41.7L119.4 41.7M101.1 73.5L110.2 78.8M101.1 73.5L110.2 78.8M101.1 73.5L119.4 73.5M101.1 105.2L110.3 99.9M101.1 105.2L110.2 99.9M101.1 105.2L110.2 121.1M101.1 105.2L119.4 105.2M101.1 137.0L110.2 121.1M101.1 137.0L110.2 142.3M101.1 137.0L110.2 142.3M101.1 137.0L119.4 137.0M101.1 168.8L110.3 163.5M101.1 168.8L110.2 163.5M101.1 168.8L110.2 184.7M101.1 168.8L119.4 168.8M101.1 200.6L110.2 184.7M101.1 200.6L110.2 205.9M101.1 200.6L110.2 205.9M101.1 200.6L119.4 200.6M101.1 232.3L110.3 227.0M101.1 232.3L110.2 227.0M101.1 232.3L119.4 232.3M101.1 264.1L110.2 269.4M101.1 264.1L110.2 269.4M101.1 264.1L119.4 264.1M110.2 36.4L119.4 41.7M110.2 36.4L119.4 41.7M110.2 78.8L110.2 89.3M110.2 78.8L110.2 89.3M110.2 78.8L119.4 73.5M110.2 78.8L119.4 73.5M110.2 78.8L128.6 89.3M110.2 89.3L110.2 99.9M110.2 89.3L110.3 99.9M110.2 89.3L128.6 89.3M110.2 99.9L119.4 105.2M110.2 99.9L119.4 105.2M110.2 99.9L128.6 89.3M110.2 121.1L119.4 105.2M110.2 121.1L119.4 137.0M110.2 121.1L128.6 121.1M110.2 142.3L110.2 163.5M110.2 142.3L119.4 137.0M110.2 142.3L119.4 137.0M110.2 142.3L128.6 152.9M110.2 163.5L119.4 168.8M110.2 163.5L119.4 168.8M110.2 163.5L128.6 152.9M110.2 184.7L119.4 168.8M110.2 184.7L119.4 200.6M110.2 184.7L128.6 184.7M110.2 205.9L110.2 216.5M110.2 205.9L110.2 216.5M110.2 205.9L119.4 200.6M110.2 205.9L119.4 200.6M110.2 205.9L128.6 216.5M110.2 216.5L110.2 227.0M110.2 216.5L110.3 227.0M110.2 216.5L128.6 216.5M110.2 227.0L119.4 232.3M110.2 227.0L119.4 232.3M110.2 227.0L128.6 216.5M110.2 269.4L119.4 264.1M110.2 269.4L119.4 264.1M119.4 41.7L128.6 25.8M119.4 41.7L128.6 47.0M119.4 41.7L128.6 47.0M119.4 41.7L128.6 57.6M119.4 73.5L128.6 57.6M119.4 73.5L128.6 68.2M119.4 73.5L128.6 68.2M119.4 73.5L128.6 89.3M119.4 105.2L128.6 89.3M119.4 105.2L128.6 110.5M119.4 105.2L128.6 110.5M119.4 105.2L128.6 121.1M119.4 137.0L128.6 121.1M119.4 137.0L128.6 131.7M119.4 137.0L128.6 131.7M119.4 137.0L128.6 152.9M119.4 168.8L128.6 152.9M119.4 168.8L128.6 174.1M119.4 168.8L128.6 174.1M119.4 168.8L128.6 184.7M119.4 200.6L128.6 184.7M119.4 200.6L128.6 195.3M119.4 200.6L128.6 195.3M119.4 200.6L128.6 216.5M119.4 232.3L128.6 216.5M119.4 232.3L128.6 237.6M119.4 232.3L128.6 237.6M119.4 232.3L128.6 248.2M119.4 264.1L128.6 248.2M119.4 264.1L128.6 258.8M119.4 264.1L128.6 258.8M119.4 264.1L128.6 280.0M128.6 25.8L128.6 47.0M128.6 25.8L137.8 41.7M128.6 47.0L128.6 57.6M128.6 47.0L128.6 57.6M128.6 47.0L137.8 41.7M128.6 47.0L137.8 41.7M128.6 47.0L147.0 57.6M128.6 57.6L128.6 68.2M128.6 57.6L147.0 57.6M128.6 68.2L128.6 89.3M128.6 68.2L137.8 73.5M128.6 68.2L137.8 73.5M128.6 68.2L147.0 57.6M128.6 89.3L128.6 110.5M128.6 89.3L137.8 73.5M128.6 89.3L147.0 78.8M128.6 89.3L147.0 89.3M128.6 89.3L147.0 99.9M128.6 110.5L128.6 121.1M128.6 110.5L128.6 121.1M128.6 110.5L147.0 99.9M128.6 110.5L147.0 121.1M128.6 121.1L128.6 131.7M128.6 121.1L128.6 131.7M128.6 121.1L147.0 121.1M128.6 131.7L128.6 152.9M128.6 131.7L137.8 137.0M128.6 131.7L137.8 137.0M128.6 131.7L147.0 121.1M128.6 152.9L128.6 174.1M128.6 152.9L137.8 137.0M128.6 152.9L137.8 168.8M128.6 152.9L147.0 142.3M128.6 152.9L147.0 152.9M128.6 152.9L147.0 163.5M128.6 174.1L128.6 184.7M128.6 174.1L128.6 184.7M128.6 174.1L137.8 168.8M128.6 174.1L137.8 168.8M128.6 174.1L147.0 184.7M128.6 184.7L128.6 195.3M128.6 184.7L128.6 195.3M128.6 184.7L147.0 184.7M128.6 195.3L128.6 216.5M128.6 195.3L147.0 184.7M128.6 195.3L147.0 205.9M128.6 216.5L128.6 237.6M128.6 216.5L137.8 232.3M128.6 216.5L147.0 205.9M128.6 216.5L147.0 216.5M128.6 216.5L147.0 227.0M128.6 237.6L128.6 248.2M128.6 237.6L128.6 248.2M128.6 237.6L137.8 232.3M128.6 237.6L137.8 232.3M128.6 237.6L147.0 248.2M128.6 248.2L128.6 258.8M128.6 248.2L147.0 248.2M128.6 258.8L128.6 280.0M128.6 258.8L137.8 264.1M128.6 258.8L137.8 264.1M128.6 258.8L147.0 248.2M128.6 280.0L137.8 264.1M137.8 41.7L147.0 36.4M137.8 41.7L147.0 36.4M137.8 41.7L147.0 57.6M137.8 73.5L147.0 57.6M137.8 73.5L147.0 78.8M137.8 73.5L147.0 78.8M137.8 137.0L147.0 121.1M137.8 137.0L147.0 142.3M137.8 137.0L147.0 142.3M137.8 168.8L147.0 163.5M137.8 168.8L147.0 163.5M137.8 168.8L147.0 184.7M137.8 232.3L147.0 227.0M137.8 232.3L147.0 227.0M137.8 232.3L147.0 248.2M137.8 264.1L147.0 248.2M137.8 264.1L147.0 269.4M137.8 264.1L147.0 269.4M147.0 25.8L156.2 41.7M147.0 36.4L147.0 57.6M147.0 36.4L156.2 41.7M147.0 36.4L156.2 41.7M147.0 57.6L147.0 78.8M147.0 57.6L156.2 41.7M147.0 57.6L156.2 73.5M147.0 57.6L165.4 47.0M147.0 57.6L165.4 68.2M147.0 78.8L147.0 89.3M147.0 78.8L147.0 89.3M147.0 78.8L156.2 73.5M147.0 78.8L156.2 73.5M147.0 89.3L147.0 99.9M147.0 89.3L147.0 99.9M147.0 89.3L156.2 73.5M147.0 89.3L156.2 105.2M147.0 89.3L165.4 89.3M147.0 99.9L147.0 121.1M147.0 99.9L156.2 105.2M147.0 99.9L156.2 105.2M147.0 121.1L147.0 142.3M147.0 121.1L156.2 105.2M147.0 121.1L156.2 137.0M147.0 121.1L165.4 110.5M147.0 121.1L165.4 121.1M147.0 121.1L165.4 131.7M147.0 142.3L147.0 152.9M147.0 142.3L147.0 152.9M147.0 142.3L156.2 137.0M147.0 142.3L156.2 137.0M147.0 152.9L147.0 163.5M147.0 152.9L147.0 163.5M147.0 152.9L156.2 137.0M147.0 152.9L156.2 168.8M147.0 163.5L147.0 184.7M147.0 163.5L156.2 168.8M147.0 163.5L156.2 168.8M147.0 184.7L147.0 205.9M147.0 184.7L156.2 168.8M147.0 184.7L156.2 200.6M147.0 184.7L165.4 174.1M147.0 184.7L165.4 184.7M147.0 184.7L165.4 195.3M147.0 205.9L147.0 216.5M147.0 205.9L147.0 216.5M147.0 205.9L156.2 200.6M147.0 205.9L156.2 200.6M147.0 216.5L147.0 227.0M147.0 216.5L147.0 227.0M147.0 216.5L156.2 200.6M147.0 216.5L156.2 232.3M147.0 216.5L165.4 216.5M147.0 227.0L147.0 248.2M147.0 227.0L156.2 232.3M147.0 227.0L156.2 232.3M147.0 248.2L147.0 269.4M147.0 248.2L156.2 232.3M147.0 248.2L156.2 264.1M147.0 248.2L165.4 237.6M147.0 248.2L165.4 258.8M147.0 269.4L156.2 264.1M147.0 269.4L156.2 264.1M147.0 280.0L156.2 264.1M156.2 41.7L165.4 25.8M156.2 41.7L165.4 47.0M156.2 41.7L165.4 47.0M156.2 41.7L174.6 41.7M156.2 73.5L165.4 68.2M156.2 73.5L165.4 68.2M156.2 73.5L165.4 89.3M156.2 73.5L174.6 73.5M156.2 105.2L165.4 89.3M156.2 105.2L165.4 110.5M156.2 105.2L165.4 110.5M156.2 105.2L174.6 105.2M156.2 137.0L165.4 131.7M156.2 137.0L165.4 131.7M156.2 137.0L174.6 137.0M156.2 168.8L165.4 174.1M156.2 168.8L165.4 174.1M156.2 168.8L174.6 168.8M156.2 200.6L165.4 195.3M156.2 200.6L165.4 195.3M156.2 200.6L165.4 216.5M156.2 200.6L174.6 200.6M156.2 232.3L165.4 216.5M156.2 232.3L165.4 237.6M156.2 232.3L165.4 237.6M156.2 232.3L174.6 232.3M156.2 264.1L165.4 258.8M156.2 264.1L165.4 258.8M156.2 264.1L165.4 280.0M156.2 264.1L174.6 264.1M165.4 25.8L174.6 41.7M165.4 47.0L165.4 68.2M165.4 47.0L174.6 41.7M165.4 47.0L174.6 41.7M165.4 47.0L183.8 57.6M165.4 68.2L174.6 73.5M165.4 68.2L174.6 73.5M165.4 68.2L183.8 57.6M165.4 89.3L174.6 73.5M165.4 89.3L174.6 105.2M165.4 89.3L183.8 89.3M165.4 110.5L165.4 121.1M165.4 110.5L165.4 121.1M165.4 110.5L174.6 105.2M165.4 110.5L174.6 105.2M165.4 110.5L183.8 121.1M165.4 121.1L165.4 131.7M165.4 121.1L165.4 131.7M165.4 121.1L183.8 121.1M165.4 131.7L174.6 137.0M165.4 131.7L174.6 137.0M165.4 131.7L183.8 121.1M165.4 174.1L165.4 184.7M165.4 174.1L165.4 184.7M165.4 174.1L174.6 168.8M165.4 174.1L174.6 168.8M165.4 174.1L183.8 184.7M165.4 184.7L165.4 195.3M165.4 184.7L165.4 195.3M165.4 184.7L183.8 184.7M165.4 195.3L174.6 200.6M165.4 195.3L174.6 200.6M165.4 195.3L183.8 184.7M165.4 216.5L174.6 200.6M165.4 216.5L174.6 232.3M165.4 216.5L183.8 216.5M165.4 237.6L165.4 258.8M165.4 237.6L174.6 232.3M165.4 237.6L174.6 232.3M165.4 237.6L183.8 248.2M165.4 258.8L174.6 264.1M165.4 258.8L174.6 264.1M165.4 258.8L183.8 248.2M165.4 280.0L174.6 264.1M174.6 41.7L183.8 25.8M174.6 41.7L183.8 36.4M174.6 41.7L183.8 36.4M174.6 41.7L183.8 57.6M174.6 73.5L183.8 57.6M174.6 73.5L183.8 78.8M174.6 73.5L183.8 78.8M174.6 73.5L183.8 89.3M174.6 105.2L183.8 89.3M174.6 105.2L183.8 99.9M174.6 105.2L183.8 99.9M174.6 105.2L183.8 121.1M174.6 137.0L183.8 121.1M174.6 137.0L183.8 142.3M174.6 137.0L183.8 142.3M174.6 137.0L183.8 152.9M174.6 168.8L183.8 152.9M174.6 168.8L183.8 163.5M174.6 168.8L183.8 163.5M174.6 168.8L183.8 184.7M174.6 200.6L183.8 184.7M174.6 200.6L183.8 205.9M174.6 200.6L183.8 205.9M174.6 200.6L183.8 216.5M174.6 232.3L183.8 216.5M174.6 232.3L183.8 227.0M174.6 232.3L183.8 227.0M174.6 232.3L183.8 248.2M174.6 264.1L183.8 248.2M174.6 264.1L183.8 269.4M174.6 264.1L183.8 269.4M174.6 264.1L183.8 280.0M183.8 36.4L183.8 57.6M183.8 36.4L193.0 41.7M183.8 36.4L193.0 41.7M183.8 57.6L183.8 78.8M183.8 57.6L193.0 41.7M183.8 57.6L193.0 73.5M183.8 57.6L202.2 47.0M183.8 57.6L202.2 57.6M183.8 57.6L202.2 68.2M183.8 78.8L183.8 89.3M183.8 78.8L183.8 89.3M183.8 78.8L193.0 73.5M183.8 78.8L193.0 73.5M183.8 78.8L202.2 89.3M183.8 89.3L183.8 99.9M183.8 89.3L183.8 99.9M183.8 89.3L202.2 89.3M183.8 99.9L183.8 121.1M183.8 99.9L202.2 89.3M183.8 99.9L202.2 110.5M183.8 121.1L183.8 142.3M183.8 121.1L193.0 137.0M183.8 121.1L202.2 110.5M183.8 121.1L202.2 121.1M183.8 121.1L202.2 131.7M183.8 142.3L183.8 152.9M183.8 142.3L183.8 152.9M183.8 142.3L193.0 137.0M183.8 142.3L193.0 137.0M183.8 142.3L202.2 152.9M183.8 152.9L183.8 163.5M183.8 152.9L183.8 163.5M183.8 152.9L202.2 152.9M183.8 163.5L183.8 184.7M183.8 163.5L193.0 168.8M183.8 163.5L193.0 168.8M183.8 163.5L202.2 152.9M183.8 184.7L183.8 205.9M183.8 184.7L193.0 168.8M183.8 184.7L202.2 174.1M183.8 184.7L202.2 184.7M183.8 184.7L202.2 195.3M183.8 205.9L183.8 216.5M183.8 205.9L183.8 216.5M183.8 205.9L202.2 195.3M183.8 205.9L202.2 216.5M183.8 216.5L183.8 227.0M183.8 216.5L183.8 227.0M183.8 216.5L202.2 216.5M183.8 227.0L183.8 248.2M183.8 227.0L193.0 232.3M183.8 227.0L193.0 232.3M183.8 227.0L202.2 216.5M183.8 248.2L183.8 269.4M183.8 248.2L193.0 232.3M183.8 248.2L193.0 264.1M183.8 248.2L202.2 237.6M183.8 248.2L202.2 248.2M183.8 248.2L202.2 258.8M183.8 269.4L193.0 264.1M183.8 269.4L193.0 264.1M193.0 41.7L202.2 25.8M193.0 41.7L202.2 47.0M193.0 41.7L202.2 47.0M193.0 73.5L202.2 68.2M193.0 73.5L202.2 68.2M193.0 73.5L202.2 89.3M193.0 137.0L202.2 131.7M193.0 137.0L202.2 131.7M193.0 137.0L202.2 152.9M193.0 168.8L202.2 152.9M193.0 168.8L202.2 174.1M193.0 168.8L202.2 174.1M193.0 232.3L202.2 216.5M193.0 232.3L202.2 237.6M193.0 232.3L202.2 237.6M193.0 264.1L202.2 258.8M193.0 264.1L202.2 258.8M193.0 264.1L202.2 280.0M202.2 25.8L202.2 47.0M202.2 25.8L211.4 41.7M202.2 47.0L202.2 57.6M202.2 47.0L202.2 57.6M202.2 47.0L211.4 41.7M202.2 47.0L211.4 41.7M202.2 57.6L202.2 68.2M202.2 57.6L211.4 41.7M202.2 57.6L211.4 73.5M202.2 68.2L202.2 89.3M202.2 68.2L211.4 73.5M202.2 68.2L211.4 73.5M202.2 89.3L202.2 110.5M202.2 89.3L211.4 73.5M202.2 89.3L211.4 105.2M202.2 89.3L220.6 78.8M202.2 89.3L220.6 89.3M202.2 89.3L220.6 99.9M202.2 110.5L202.2 121.1M202.2 110.5L202.2 121.1M202.2 110.5L211.4 105.2M202.2 110.5L211.4 105.2M202.2 121.1L202.2 131.7M202.2 121.1L202.2 131.7M202.2 121.1L211.4 105.2M202.2 121.1L211.4 137.0M202.2 121.1L220.6 121.1M202.2 131.7L202.2 152.9M202.2 131.7L211.4 137.0M202.2 131.7L211.4 137.0M202.2 152.9L202.2 174.1M202.2 152.9L211.4 137.0M202.2 152.9L211.4 168.8M202.2 152.9L220.6 142.3M202.2 152.9L220.6 163.5M202.2 174.1L202.2 184.7M202.2 174.1L202.2 184.7M202.2 174.1L211.4 168.8M202.2 174.1L211.4 168.8M202.2 184.7L202.2 195.3M202.2 184.7L202.2 195.3M202.2 184.7L211.4 168.8M202.2 184.7L211.4 200.6M202.2 184.7L220.6 184.7M202.2 195.3L202.2 216.5M202.2 195.3L211.4 200.6M202.2 195.3L211.4 200.6M202.2 216.5L202.2 237.6M202.2 216.5L211.4 200.6M202.2 216.5L211.4 232.3M202.2 216.5L220.6 205.9M202.2 216.5L220.6 216.5M202.2 216.5L220.6 227.0M202.2 237.6L202.2 248.2M202.2 237.6L202.2 248.2M202.2 237.6L211.4 232.3M202.2 237.6L211.4 232.3M202.2 248.2L202.2 258.8M202.2 248.2L211.4 232.3M202.2 248.2L211.4 264.1M202.2 258.8L202.2 280.0M202.2 258.8L211.4 264.1M202.2 258.8L211.4 264.1M202.2 280.0L211.4 264.1M211.4 41.7L220.6 36.4M211.4 41.7L220.6 36.4M211.4 41.7L229.7 41.7M211.4 73.5L220.6 78.8M211.4 73.5L220.6 78.8M211.4 73.5L229.7 73.5M211.4 105.2L220.6 99.9M211.4 105.2L220.6 99.9M211.4 105.2L220.6 121.1M211.4 105.2L229.7 105.2M211.4 137.0L220.6 121.1M211.4 137.0L220.6 142.3M211.4 137.0L220.6 142.3M211.4 137.0L229.7 137.0M211.4 168.8L220.6 163.5M211.4 168.8L220.6 163.5M211.4 168.8L220.6 184.7M211.4 168.8L229.7 168.8M211.4 200.6L220.6 184.7M211.4 200.6L220.6 205.9M211.4 200.6L220.6 205.9M211.4 200.6L229.7 200.6M211.4 232.3L220.6 227.0M211.4 232.3L220.6 227.0M211.4 232.3L229.7 232.3M211.4 264.1L220.6 269.4M211.4 264.1L220.6 269.4M211.4 264.1L229.7 264.1M220.6 36.4L229.7 41.7M220.6 36.4L229.7 41.7M220.6 78.8L220.6 89.3M220.6 78.8L220.6 89.3M220.6 78.8L229.7 73.5M220.6 78.8L229.7 73.5M220.6 78.8L238.9 89.3M220.6 89.3L220.6 99.9M220.6 89.3L220.6 99.9M220.6 89.3L238.9 89.3M220.6 99.9L229.7 105.2M220.6 99.9L229.7 105.2M220.6 99.9L238.9 89.3M220.6 121.1L229.7 105.2M220.6 121.1L229.7 137.0M220.6 121.1L238.9 121.1M220.6 142.3L220.6 163.5M220.6 142.3L229.7 137.0M220.6 142.3L229.7 137.0M220.6 142.3L238.9 152.9M220.6 163.5L229.7 168.8M220.6 163.5L229.7 168.8M220.6 163.5L238.9 152.9M220.6 184.7L229.7 168.8M220.6 184.7L229.7 200.6M220.6 184.7L238.9 184.7M220.6 205.9L220.6 216.5M220.6 205.9L220.6 216.5M220.6 205.9L229.7 200.6M220.6 205.9L229.7 200.6M220.6 205.9L238.9 216.5M220.6 216.5L220.6 227.0M220.6 216.5L220.6 227.0M220.6 216.5L238.9 216.5M220.6 227.0L229.7 232.3M220.6 227.0L229.7 232.3M220.6 227.0L238.9 216.5M220.6 269.4L229.7 264.1M220.6 269.4L229.7 264.1M229.7 41.7L238.9 25.8M229.7 41.7L238.9 47.0M229.7 41.7L238.9 47.0M229.7 41.7L238.9 57.6M229.7 73.5L238.9 57.6M229.7 73.5L238.9 68.2M229.7 73.5L238.9 68.2M229.7 73.5L238.9 89.3M229.7 105.2L238.9 89.3M229.7 105.2L238.9 110.5M229.7 105.2L238.9 110.5M229.7 105.2L238.9 121.1M229.7 137.0L238.9 121.1M229.7 137.0L238.9 131.7M229.7 137.0L238.9 131.7M229.7 137.0L238.9 152.9M229.7 168.8L238.9 152.9M229.7 168.8L238.9 174.1M229.7 168.8L238.9 174.1M229.7 168.8L238.9 184.7M229.7 200.6L238.9 184.7M229.7 200.6L238.9 195.3M229.7 200.6L238.9 195.3M229.7 200.6L238.9 216.5M229.7 232.3L238.9 216.5M229.7 232.3L238.9 237.6M229.7 232.3L238.9 237.6M229.7 232.3L238.9 248.2M229.7 264.1L238.9 248.2M229.7 264.1L238.9 258.8M229.7 264.1L238.9 258.8M229.7 264.1L238.9 280.0M238.9 25.8L238.9 47.0M238.9 25.8L248.1 41.7M238.9 47.0L238.9 57.6M238.9 47.0L238.9 57.6M238.9 47.0L248.1 41.7M238.9 47.0L248.1 41.7M238.9 47.0L257.3 57.6M238.9 57.6L238.9 68.2M238.9 57.6L257.3 57.6M238.9 68.2L238.9 89.3M238.9 68.2L248.1 73.5M238.9 68.2L248.1 73.5M238.9 68.2L257.3 57.6M238.9 89.3L238.9 110.5M238.9 89.3L248.1 73.5M238.9 89.3L257.3 78.8M238.9 89.3L257.3 89.3M238.9 89.3L257.3 99.9M238.9 110.5L238.9 121.1M238.9 110.5L238.9 121.1M238.9 110.5L257.3 99.9M238.9 110.5L257.3 121.1M238.9 121.1L238.9 131.7M238.9 121.1L238.9 131.7M238.9 121.1L257.3 121.1M238.9 131.7L238.9 152.9M238.9 131.7L248.1 137.0M238.9 131.7L248.1 137.0M238.9 131.7L257.3 121.1M238.9 152.9L238.9 174.1M238.9 152.9L248.1 137.0M238.9 152.9L248.1 168.8M238.9 152.9L257.3 142.3M238.9 152.9L257.3 152.9M238.9 152.9L257.3 163.5M238.9 174.1L238.9 184.7M238.9 174.1L238.9 184.7M238.9 174.1L248.1 168.8M238.9 174.1L248.1 168.8M238.9 174.1L257.3 184.7M238.9 184.7L238.9 195.3M238.9 184.7L238.9 195.3M238.9 184.7L257.3 184.7M238.9 195.3L238.9 216.5M238.9 195.3L257.3 184.7M238.9 195.3L257.3 205.9M238.9 216.5L238.9 237.6M238.9 216.5L248.1 232.3M238.9 216.5L257.3 205.9M238.9 216.5L257.3 216.5M238.9 216.5L257.3 227.0M238.9 237.6L238.9 248.2M238.9 237.6L238.9 248.2M238.9 237.6L248.1 232.3M238.9 237.6L248.1 232.3M238.9 237.6L257.3 248.2M238.9 248.2L238.9 258.8M238.9 248.2L257.3 248.2M238.9 258.8L238.9 280.0M238.9 258.8L248.1 264.1M238.9 258.8L248.1 264.1M238.9 258.8L257.3 248.2M238.9 280.0L248.1 264.1M248.1 41.7L257.3 36.4M248.1 41.7L257.3 36.4M248.1 41.7L257.3 57.6M248.1 73.5L257.3 57.6M248.1 73.5L257.3 78.8M248.1 73.5L257.3 78.8M248.1 137.0L257.3 121.1M248.1 137.0L257.3 142.3M248.1 137.0L257.3 142.3M248.1 168.8L257.3 163.5M248.1 168.8L257.3 163.5M248.1 168.8L257.3 184.7M248.1 232.3L257.3 227.0M248.1 232.3L257.3 227.0M248.1 232.3L257.3 248.2M248.1 264.1L257.3 248.2M248.1 264.1L257.3 269.4M248.1 264.1L257.3 269.4M257.3 25.8L266.5 41.7M257.3 36.4L257.3 57.6M257.3 36.4L266.5 41.7M257.3 36.4L266.5 41.7M257.3 57.6L257.3 78.8M257.3 57.6L266.5 41.7M257.3 57.6L266.5 73.5M257.3 57.6L275.7 47.0M257.3 57.6L275.7 68.2M257.3 78.8L257.3 89.3M257.3 78.8L257.3 89.3M257.3 78.8L266.5 73.5M257.3 78.8L266.5 73.5M257.3 89.3L257.3 99.9M257.3 89.3L257.3 99.9M257.3 89.3L266.5 73.5M257.3 89.3L266.5 105.2M257.3 89.3L275.7 89.3M257.3 99.9L257.3 121.1M257.3 99.9L266.5 105.2M257.3 99.9L266.5 105.2M257.3 121.1L257.3 142.3M257.3 121.1L266.5 105.2M257.3 121.1L266.5 137.0M257.3 121.1L275.7 110.5M257.3 121.1L275.7 121.1M257.3 121.1L275.7 131.7M257.3 142.3L257.3 152.9M257.3 142.3L257.3 152.9M257.3 142.3L266.5 137.0M257.3 142.3L266.5 137.0M257.3 152.9L257.3 163.5M257.3 152.9L257.3 163.5M257.3 152.9L266.5 137.0M257.3 152.9L266.5 168.8M257.3 163.5L257.3 184.7M257.3 163.5L266.5 168.8M257.3 163.5L266.5 168.8M257.3 184.7L257.3 205.9M257.3 184.7L266.5 168.8M257.3 184.7L266.5 200.6M257.3 184.7L275.7 174.1M257.3 184.7L275.7 184.7M257.3 184.7L275.7 195.3M257.3 205.9L257.3 216.5M257.3 205.9L257.3 216.5M257.3 205.9L266.5 200.6M257.3 216.5L257.3 227.0M257.3 216.5L257.3 227.0M257.3 216.5L266.5 200.6M257.3 216.5L266.5 232.3M257.3 216.5L275.7 216.5M257.3 227.0L257.3 248.2M257.3 227.0L266.5 232.3M257.3 227.0L266.5 232.3M257.3 248.2L257.3 269.4M257.3 248.2L266.5 232.3M257.3 248.2L266.5 264.1M257.3 248.2L275.7 237.6M257.3 248.2L275.7 258.8M257.3 269.4L266.5 264.1M257.3 280.0L266.5 264.1M266.5 41.7L275.7 25.8M266.5 41.7L275.7 47.0M266.5 41.7L275.7 47.0M266.5 41.7L284.9 41.7M266.5 73.5L275.7 68.2M266.5 73.5L275.7 68.2M266.5 73.5L275.7 89.3M266.5 73.5L284.9 73.5M266.5 105.2L275.7 89.3M266.5 105.2L275.7 110.5M266.5 105.2L275.7 110.5M266.5 105.2L284.9 105.2M266.5 137.0L275.7 131.7M266.5 137.0L275.7 131.7M266.5 137.0L284.9 137.0M266.5 168.8L275.7 174.1M266.5 168.8L275.7 174.1M266.5 168.8L284.9 168.8M266.5 200.6L275.7 195.3M266.5 200.6L275.7 216.5M266.5 200.6L284.9 200.6M266.5 232.3L275.7 216.5M266.5 232.3L275.7 237.6M266.5 232.3L275.7 237.6M266.5 232.3L284.9 232.3M266.5 264.1L275.7 258.8M266.5 264.1L275.7 258.8M266.5 264.1L275.7 280.0M266.5 264.1L284.9 264.1M275.7 25.8L284.9 41.7M275.7 47.0L275.7 68.2M275.7 47.0L284.9 41.7M275.7 47.0L284.9 41.7M275.7 47.0L294.1 57.6M275.7 68.2L284.9 73.5M275.7 68.2L284.9 73.5M275.7 68.2L294.1 57.6M275.7 89.3L284.9 73.5M275.7 89.3L284.9 105.2M275.7 89.3L294.1 89.3M275.7 110.5L275.7 121.1M275.7 110.5L275.7 121.1M275.7 110.5L284.9 105.2M275.7 110.5L284.9 105.2M275.7 110.5L294.1 121.1M275.7 121.1L275.7 131.7M275.7 121.1L275.7 131.7M275.7 121.1L294.1 121.1M275.7 131.7L284.9 137.0M275.7 131.7L284.9 137.0M275.7 131.7L294.1 121.1M275.7 174.1L275.7 184.7M275.7 174.1L275.7 184.7M275.7 174.1L284.9 168.8M275.7 174.1L284.9 168.8M275.7 174.1L294.1 184.7M275.7 184.7L275.7 195.3M275.7 184.7L275.7 195.3M275.7 184.7L294.1 184.7M275.7 195.3L284.9 200.6M275.7 195.3L284.9 200.6M275.7 195.3L294.1 184.7M275.7 216.5L284.9 200.6M275.7 216.5L284.9 232.3M275.7 216.5L294.1 216.5M275.7 237.6L275.7 258.8M275.7 237.6L284.9 232.3M275.7 237.6L284.9 232.3M275.7 237.6L294.1 248.2M275.7 258.8L284.9 264.1M275.7 258.8L284.9 264.1M275.7 258.8L294.1 248.2M275.7 280.0L284.9 264.1M284.9 41.7L294.1 25.8M284.9 41.7L294.1 36.4M284.9 41.7L294.1 36.4M284.9 41.7L294.1 57.6M284.9 73.5L294.1 57.6M284.9 73.5L294.1 78.8M284.9 73.5L294.1 78.8M284.9 73.5L294.1 89.3M284.9 105.2L294.1 89.3M284.9 105.2L294.1 99.9M284.9 105.2L294.1 99.9M284.9 105.2L294.1 121.1M284.9 137.0L294.1 121.1M284.9 137.0L294.1 142.3M284.9 137.0L294.1 142.3M284.9 137.0L294.1 152.9M284.9 168.8L294.1 152.9M284.9 168.8L294.1 163.5M284.9 168.8L294.1 163.5M284.9 168.8L294.1 184.7M284.9 200.6L294.1 184.7M284.9 200.6L294.1 205.9M284.9 200.6L294.1 205.9M284.9 200.6L294.1 216.5M284.9 232.3L294.1 216.5M284.9 232.3L294.1 227.0M284.9 232.3L294.1 227.0M284.9 232.3L294.1 248.2M284.9 264.1L294.1 248.2M284.9 264.1L294.1 269.4M284.9 264.1L294.1 269.4M284.9 264.1L294.1 280.0M294.1 36.4L294.1 57.6M294.1 36.4L303.3 41.7M294.1 36.4L303.3 41.7M294.1 57.6L294.1 78.8M294.1 57.6L303.3 41.7M294.1 57.6L303.3 73.5M294.1 57.6L312.5 47.0M294.1 57.6L312.5 57.6M294.1 57.6L312.5 68.2M294.1 78.8L294.1 89.3M294.1 78.8L294.1 89.3M294.1 78.8L303.3 73.5M294.1 78.8L303.3 73.5M294.1 78.8L312.5 89.3M294.1 89.3L294.1 99.9M294.1 89.3L294.1 99.9M294.1 89.3L312.5 89.3M294.1 99.9L294.1 121.1M294.1 99.9L312.5 89.3M294.1 99.9L312.5 110.5M294.1 121.1L294.1 142.3M294.1 121.1L303.3 137.0M294.1 121.1L312.5 110.5M294.1 121.1L312.5 121.1M294.1 121.1L312.5 131.7M294.1 142.3L294.1 152.9M294.1 142.3L294.1 152.9M294.1 142.3L303.3 137.0M294.1 142.3L303.3 137.0M294.1 142.3L312.5 152.9M294.1 152.9L294.1 163.5M294.1 152.9L294.1 163.5M294.1 152.9L312.5 152.9M294.1 163.5L294.1 184.7M294.1 163.5L303.3 168.8M294.1 163.5L303.3 168.8M294.1 163.5L312.5 152.9M294.1 184.7L294.1 205.9M294.1 184.7L303.3 168.8M294.1 184.7L312.5 174.1M294.1 184.7L312.5 184.7M294.1 184.7L312.5 195.3M294.1 205.9L294.1 216.5M294.1 205.9L294.1 216.5M294.1 205.9L312.5 195.3M294.1 205.9L312.5 216.5M294.1 216.5L294.1 227.0M294.1 216.5L294.1 227.0M294.1 216.5L312.5 216.5M294.1 227.0L294.1 248.2M294.1 227.0L303.3 232.3M294.1 227.0L312.5 216.5M294.1 248.2L294.1 269.4M294.1 248.2L303.3 232.3M294.1 248.2L303.3 264.1M294.1 248.2L312.5 237.6M294.1 248.2L312.5 248.2M294.1 248.2L312.5 258.8M294.1 269.4L303.3 264.1M303.3 41.7L312.5 47.0M303.3 73.5L312.5 68.2M303.3 41.7L312.5 25.8M303.3 41.7L312.5 47.0M303.3 73.5L312.5 68.2M303.3 73.5L312.5 89.3M303.3 137.0L312.5 131.7M303.3 137.0L312.5 131.7M303.3 137.0L312.5 152.9M303.3 168.8L312.5 152.9M303.3 168.8L312.5 174.1M303.3 168.8L312.5 174.1M303.3 232.3L312.5 216.5M303.3 232.3L312.5 237.6M303.3 264.1L312.5 258.8M303.3 264.1L312.5 258.8M303.3 264.1L312.5 280.0M312.5 25.8L312.5 47.0M312.5 25.8L321.7 41.7M312.5 47.0L312.5 57.6M312.5 47.0L312.5 57.6M312.5 47.0L321.7 41.7M312.5 57.6L312.5 68.2M312.5 57.6L312.5 68.2M312.5 57.6L321.7 41.7M312.5 57.6L321.7 73.5M312.5 68.2L312.5 89.3M312.5 68.2L321.7 73.5M312.5 89.3L312.5 110.5M312.5 89.3L321.7 73.5M312.5 89.3L321.7 105.2M312.5 89.3L330.9 78.8M312.5 89.3L330.9 89.3M312.5 89.3L330.9 99.9M312.5 110.5L312.5 121.1M312.5 110.5L312.5 121.1M312.5 110.5L321.7 105.2M312.5 110.5L321.7 105.2M312.5 121.1L312.5 131.7M312.5 121.1L312.5 131.7M312.5 121.1L321.7 105.2M312.5 121.1L321.7 137.0M312.5 121.1L330.9 121.1M312.5 131.7L312.5 152.9M312.5 131.7L321.7 137.0M312.5 131.7L321.7 137.0M312.5 152.9L312.5 174.1M312.5 152.9L321.7 137.0M312.5 152.9L321.7 168.8M312.5 152.9L330.9 142.3M312.5 152.9L330.9 163.5M312.5 174.1L312.5 184.7M312.5 174.1L312.5 184.7M312.5 174.1L321.7 168.8M312.5 174.1L321.7 168.8M312.5 184.7L312.5 195.3M312.5 184.7L312.5 195.3M312.5 184.7L321.7 168.8M312.5 184.7L321.7 200.6M312.5 184.7L330.9 184.7M312.5 195.3L312.5 216.5M312.5 195.3L321.7 200.6M312.5 195.3L321.7 200.6M312.5 216.5L312.5 237.6M312.5 216.5L321.7 200.6M312.5 216.5L321.7 232.3M312.5 216.5L330.9 205.9M312.5 216.5L330.9 216.5M312.5 216.5L330.9 227.0M312.5 237.6L312.5 248.2M312.5 237.6L312.5 248.2M312.5 237.6L321.7 232.3M312.5 237.6L321.7 232.3M312.5 248.2L312.5 258.8M312.5 248.2L321.7 232.3M312.5 248.2L321.7 264.1M312.5 258.8L312.5 280.0M312.5 258.8L321.7 264.1M312.5 258.8L321.7 264.1M312.5 280.0L321.7 264.1" fill="none" stroke-linecap="round"/></defs>
<rect width="1044" height="678" fill="#fff"/>
<g filter="url(#tb)">
<g clip-path="url(#latclip)"><use href="#lb" stroke="#237a29" stroke-width="2.4"/><use href="#lb" stroke="#3fa03a" stroke-width="1.3"/><use href="#aA" x="18.3" y="47.0"/><use href="#aA" x="18.3" y="57.6"/><use href="#aA" x="18.3" y="68.2"/><use href="#aB" x="18.3" y="89.3"/><use href="#aA" x="18.3" y="110.5"/><use href="#aA" x="18.3" y="121.1"/><use href="#aA" x="18.3" y="131.7"/><use href="#aB" x="18.3" y="152.9"/><use href="#aA" x="18.3" y="174.1"/><use href="#aA" x="18.3" y="184.7"/><use href="#aA" x="18.3" y="195.3"/><use href="#aB" x="18.3" y="216.5"/><use href="#aA" x="18.3" y="237.6"/><use href="#aA" x="18.3" y="248.2"/><use href="#aA" x="18.3" y="258.8"/><use href="#aA" x="27.5" y="41.7"/><use href="#aA" x="27.5" y="73.5"/><use href="#aA" x="27.5" y="105.2"/><use href="#aA" x="27.5" y="137.0"/><use href="#aA" x="27.5" y="168.8"/><use href="#aA" x="27.5" y="232.3"/><use href="#aA" x="27.5" y="264.1"/><use href="#aA" x="27.5" y="232.3"/><use href="#aA" x="27.5" y="264.1"/><use href="#aB" x="36.7" y="57.6"/><use href="#aA" x="36.7" y="78.8"/><use href="#aA" x="36.7" y="89.3"/><use href="#aA" x="36.7" y="99.9"/><use href="#aB" x="36.7" y="121.1"/><use href="#aA" x="36.7" y="142.3"/><use href="#aA" x="36.7" y="152.9"/><use href="#aA" x="36.7" y="163.5"/><use href="#aB" x="36.7" y="184.7"/><use href="#aA" x="36.7" y="205.9"/><use href="#aA" x="36.7" y="216.5"/><use href="#aA" x="36.7" y="227.0"/><use href="#aB" x="36.7" y="248.2"/><use href="#aA" x="45.9" y="41.7"/><use href="#aA" x="45.9" y="73.5"/><use href="#aA" x="45.9" y="105.2"/><use href="#aA" x="45.9" y="137.0"/><use href="#aA" x="45.9" y="168.8"/><use href="#aA" x="45.9" y="200.6"/><use href="#aA" x="45.9" y="232.3"/><use href="#aA" x="45.9" y="264.1"/><use href="#aA" x="55.1" y="47.0"/><use href="#aA" x="55.1" y="68.2"/><use href="#aB" x="55.1" y="89.3"/><use href="#aA" x="55.1" y="110.5"/><use href="#aA" x="55.1" y="121.1"/><use href="#aA" x="55.1" y="131.7"/><use href="#aA" x="55.1" y="174.1"/><use href="#aA" x="55.1" y="184.7"/><use href="#aA" x="55.1" y="195.3"/><use href="#aB" x="55.1" y="216.5"/><use href="#aA" x="55.1" y="237.6"/><use href="#aA" x="55.1" y="258.8"/><use href="#aA" x="64.3" y="41.7"/><use href="#aA" x="64.3" y="73.5"/><use href="#aA" x="64.3" y="105.2"/><use href="#aA" x="64.3" y="137.0"/><use href="#aA" x="64.3" y="168.8"/><use href="#aA" x="64.3" y="200.6"/><use href="#aA" x="64.3" y="232.3"/><use href="#aA" x="64.3" y="264.1"/><use href="#aB" x="73.5" y="57.6"/><use href="#aA" x="73.5" y="78.8"/><use href="#aA" x="73.5" y="89.3"/><use href="#aA" x="73.5" y="99.9"/><use href="#aB" x="73.5" y="121.1"/><use href="#aA" x="73.5" y="142.3"/><use href="#aA" x="73.5" y="152.9"/><use href="#aA" x="73.5" y="163.5"/><use href="#aB" x="73.5" y="184.7"/><use href="#aA" x="73.5" y="205.9"/><use href="#aA" x="73.5" y="216.5"/><use href="#aA" x="73.5" y="227.0"/><use href="#aB" x="73.5" y="248.2"/><use href="#aA" x="82.7" y="41.7"/><use href="#aA" x="82.7" y="73.5"/><use href="#aA" x="82.7" y="137.0"/><use href="#aA" x="82.7" y="168.8"/><use href="#aA" x="82.7" y="232.3"/><use href="#aA" x="82.7" y="264.1"/><use href="#aA" x="91.9" y="47.0"/><use href="#aA" x="91.9" y="57.6"/><use href="#aA" x="91.9" y="68.2"/><use href="#aB" x="91.9" y="89.3"/><use href="#aA" x="91.9" y="110.5"/><use href="#aA" x="91.9" y="121.1"/><use href="#aA" x="91.9" y="131.7"/><use href="#aB" x="91.9" y="152.9"/><use href="#aA" x="91.9" y="174.1"/><use href="#aA" x="91.9" y="184.7"/><use href="#aA" x="91.9" y="195.3"/><use href="#aB" x="91.9" y="216.5"/><use href="#aA" x="91.9" y="237.6"/><use href="#aA" x="91.9" y="248.2"/><use href="#aA" x="91.9" y="258.8"/><use href="#aA" x="101.1" y="41.7"/><use href="#aA" x="101.1" y="73.5"/><use href="#aA" x="101.1" y="105.2"/><use href="#aA" x="101.1" y="137.0"/><use href="#aA" x="101.1" y="168.8"/><use href="#aA" x="101.1" y="200.6"/><use href="#aA" x="101.1" y="232.3"/><use href="#aA" x="101.1" y="264.1"/><use href="#aA" x="110.2" y="78.8"/><use href="#aA" x="110.2" y="89.3"/><use href="#aA" x="110.3" y="99.9"/><use href="#aB" x="110.2" y="121.1"/><use href="#aA" x="110.2" y="142.3"/><use href="#aA" x="110.3" y="163.5"/><use href="#aB" x="110.2" y="184.7"/><use href="#aA" x="110.2" y="205.9"/><use href="#aA" x="110.2" y="216.5"/><use href="#aA" x="110.3" y="227.0"/><use href="#aA" x="119.4" y="41.7"/><use href="#aA" x="119.4" y="73.5"/><use href="#aA" x="119.4" y="105.2"/><use href="#aA" x="119.4" y="137.0"/><use href="#aA" x="119.4" y="168.8"/><use href="#aA" x="119.4" y="200.6"/><use href="#aA" x="119.4" y="232.3"/><use href="#aA" x="119.4" y="264.1"/><use href="#aA" x="128.6" y="47.0"/><use href="#aA" x="128.6" y="57.6"/><use href="#aA" x="128.6" y="68.2"/><use href="#aB" x="128.6" y="89.3"/><use href="#aA" x="128.6" y="110.5"/><use href="#aA" x="128.6" y="121.1"/><use href="#aA" x="128.6" y="131.7"/><use href="#aB" x="128.6" y="152.9"/><use href="#aA" x="128.6" y="174.1"/><use href="#aA" x="128.6" y="184.7"/><use href="#aA" x="128.6" y="195.3"/><use href="#aB" x="128.6" y="216.5"/><use href="#aA" x="128.6" y="237.6"/><use href="#aA" x="128.6" y="248.2"/><use href="#aA" x="128.6" y="258.8"/><use href="#aA" x="137.8" y="41.7"/><use href="#aA" x="137.8" y="73.5"/><use href="#aA" x="137.8" y="137.0"/><use href="#aA" x="137.8" y="168.8"/><use href="#aA" x="137.8" y="232.3"/><use href="#aA" x="137.8" y="264.1"/><use href="#aB" x="147.0" y="57.6"/><use href="#aA" x="147.0" y="78.8"/><use href="#aA" x="147.0" y="89.3"/><use href="#aA" x="147.0" y="99.9"/><use href="#aB" x="147.0" y="121.1"/><use href="#aA" x="147.0" y="142.3"/><use href="#aA" x="147.0" y="152.9"/><use href="#aA" x="147.0" y="163.5"/><use href="#aB" x="147.0" y="184.7"/><use href="#aA" x="147.0" y="205.9"/><use href="#aA" x="147.0" y="216.5"/><use href="#aA" x="147.0" y="227.0"/><use href="#aB" x="147.0" y="248.2"/><use href="#aA" x="156.2" y="41.7"/><use href="#aA" x="156.2" y="73.5"/><use href="#aA" x="156.2" y="105.2"/><use href="#aA" x="156.2" y="137.0"/><use href="#aA" x="156.2" y="168.8"/><use href="#aA" x="156.2" y="200.6"/><use href="#aA" x="156.2" y="232.3"/><use href="#aA" x="156.2" y="264.1"/><use href="#aA" x="165.4" y="47.0"/><use href="#aA" x="165.4" y="68.2"/><use href="#aB" x="165.4" y="89.3"/><use href="#aA" x="165.4" y="110.5"/><use href="#aA" x="165.4" y="121.1"/><use href="#aA" x="165.4" y="131.7"/><use href="#aA" x="165.4" y="174.1"/><use href="#aA" x="165.4" y="184.7"/><use href="#aA" x="165.4" y="195.3"/><use href="#aB" x="165.4" y="216.5"/><use href="#aA" x="165.4" y="237.6"/><use href="#aA" x="165.4" y="258.8"/><use href="#aA" x="174.6" y="41.7"/><use href="#aA" x="174.6" y="73.5"/><use href="#aA" x="174.6" y="105.2"/><use href="#aA" x="174.6" y="137.0"/><use href="#aA" x="174.6" y="168.8"/><use href="#aA" x="174.6" y="200.6"/><use href="#aA" x="174.6" y="232.3"/><use href="#aA" x="174.6" y="264.1"/><use href="#aB" x="183.8" y="57.6"/><use href="#aA" x="183.8" y="78.8"/><use href="#aA" x="183.8" y="89.3"/><use href="#aA" x="183.8" y="99.9"/><use href="#aB" x="183.8" y="121.1"/><use href="#aA" x="183.8" y="142.3"/><use href="#aA" x="183.8" y="152.9"/><use href="#aA" x="183.8" y="163.5"/><use href="#aB" x="183.8" y="184.7"/><use href="#aA" x="183.8" y="205.9"/><use href="#aA" x="183.8" y="216.5"/><use href="#aA" x="183.8" y="227.0"/><use href="#aB" x="183.8" y="248.2"/><use href="#aA" x="193.0" y="41.7"/><use href="#aA" x="193.0" y="73.5"/><use href="#aA" x="193.0" y="137.0"/><use href="#aA" x="193.0" y="168.8"/><use href="#aA" x="193.0" y="232.3"/><use href="#aA" x="193.0" y="264.1"/><use href="#aA" x="202.2" y="47.0"/><use href="#aA" x="202.2" y="57.6"/><use href="#aA" x="202.2" y="68.2"/><use href="#aB" x="202.2" y="89.3"/><use href="#aA" x="202.2" y="110.5"/><use href="#aA" x="202.2" y="121.1"/><use href="#aA" x="202.2" y="131.7"/><use href="#aB" x="202.2" y="152.9"/><use href="#aA" x="202.2" y="174.1"/><use href="#aA" x="202.2" y="184.7"/><use href="#aA" x="202.2" y="195.3"/><use href="#aB" x="202.2" y="216.5"/><use href="#aA" x="202.2" y="237.6"/><use href="#aA" x="202.2" y="248.2"/><use href="#aA" x="202.2" y="258.8"/><use href="#aA" x="211.4" y="41.7"/><use href="#aA" x="211.4" y="73.5"/><use href="#aA" x="211.4" y="105.2"/><use href="#aA" x="211.4" y="137.0"/><use href="#aA" x="211.4" y="168.8"/><use href="#aA" x="211.4" y="200.6"/><use href="#aA" x="211.4" y="232.3"/><use href="#aA" x="211.4" y="264.1"/><use href="#aA" x="220.6" y="78.8"/><use href="#aA" x="220.6" y="89.3"/><use href="#aA" x="220.6" y="99.9"/><use href="#aB" x="220.6" y="121.1"/><use href="#aA" x="220.6" y="142.3"/><use href="#aA" x="220.6" y="163.5"/><use href="#aB" x="220.6" y="184.7"/><use href="#aA" x="220.6" y="205.9"/><use href="#aA" x="220.6" y="216.5"/><use href="#aA" x="220.6" y="227.0"/><use href="#aA" x="229.7" y="41.7"/><use href="#aA" x="229.7" y="73.5"/><use href="#aA" x="229.7" y="105.2"/><use href="#aA" x="229.7" y="137.0"/><use href="#aA" x="229.7" y="168.8"/><use href="#aA" x="229.7" y="200.6"/><use href="#aA" x="229.7" y="232.3"/><use href="#aA" x="229.7" y="264.1"/><use href="#aA" x="238.9" y="47.0"/><use href="#aA" x="238.9" y="57.6"/><use href="#aA" x="238.9" y="68.2"/><use href="#aB" x="238.9" y="89.3"/><use href="#aA" x="238.9" y="110.5"/><use href="#aA" x="238.9" y="121.1"/><use href="#aA" x="238.9" y="131.7"/><use href="#aB" x="238.9" y="152.9"/><use href="#aA" x="238.9" y="174.1"/><use href="#aA" x="238.9" y="184.7"/><use href="#aA" x="238.9" y="195.3"/><use href="#aB" x="238.9" y="216.5"/><use href="#aA" x="238.9" y="237.6"/><use href="#aA" x="238.9" y="248.2"/><use href="#aA" x="238.9" y="258.8"/><use href="#aA" x="248.1" y="41.7"/><use href="#aA" x="248.1" y="73.5"/><use href="#aA" x="248.1" y="137.0"/><use href="#aA" x="248.1" y="168.8"/><use href="#aA" x="248.1" y="232.3"/><use href="#aA" x="248.1" y="264.1"/><use href="#aB" x="257.3" y="57.6"/><use href="#aA" x="257.3" y="78.8"/><use href="#aA" x="257.3" y="89.3"/><use href="#aA" x="257.3" y="99.9"/><use href="#aB" x="257.3" y="121.1"/><use href="#aA" x="257.3" y="142.3"/><use href="#aA" x="257.3" y="152.9"/><use href="#aA" x="257.3" y="163.5"/><use href="#aB" x="257.3" y="184.7"/><use href="#aA" x="257.3" y="205.9"/><use href="#aA" x="257.3" y="216.5"/><use href="#aA" x="257.3" y="227.0"/><use href="#aB" x="257.3" y="248.2"/><use href="#aA" x="266.5" y="41.7"/><use href="#aA" x="266.5" y="73.5"/><use href="#aA" x="266.5" y="105.2"/><use href="#aA" x="266.5" y="137.0"/><use href="#aA" x="266.5" y="168.8"/><use href="#aA" x="266.5" y="200.6"/><use href="#aA" x="266.5" y="232.3"/><use href="#aA" x="266.5" y="264.1"/><use href="#aA" x="275.7" y="47.0"/><use href="#aA" x="275.7" y="68.2"/><use href="#aB" x="275.7" y="89.3"/><use href="#aA" x="275.7" y="110.5"/><use href="#aA" x="275.7" y="121.1"/><use href="#aA" x="275.7" y="131.7"/><use href="#aA" x="275.7" y="174.1"/><use href="#aA" x="275.7" y="184.7"/><use href="#aA" x="275.7" y="195.3"/><use href="#aB" x="275.7" y="216.5"/><use href="#aA" x="275.7" y="237.6"/><use href="#aA" x="275.7" y="258.8"/><use href="#aA" x="284.9" y="41.7"/><use href="#aA" x="284.9" y="73.5"/><use href="#aA" x="284.9" y="105.2"/><use href="#aA" x="284.9" y="137.0"/><use href="#aA" x="284.9" y="168.8"/><use href="#aA" x="284.9" y="200.6"/><use href="#aA" x="284.9" y="232.3"/><use href="#aA" x="284.9" y="264.1"/><use href="#aB" x="294.1" y="57.6"/><use href="#aA" x="294.1" y="78.8"/><use href="#aA" x="294.1" y="89.3"/><use href="#aA" x="294.1" y="99.9"/><use href="#aB" x="294.1" y="121.1"/><use href="#aA" x="294.1" y="142.3"/><use href="#aA" x="294.1" y="152.9"/><use href="#aA" x="294.1" y="163.5"/><use href="#aB" x="294.1" y="184.7"/><use href="#aA" x="294.1" y="205.9"/><use href="#aA" x="294.1" y="216.5"/><use href="#aA" x="294.1" y="227.0"/><use href="#aB" x="294.1" y="248.2"/><use href="#aA" x="303.3" y="41.7"/><use href="#aA" x="303.3" y="73.5"/><use href="#aA" x="303.3" y="41.7"/><use href="#aA" x="303.3" y="73.5"/><use href="#aA" x="303.3" y="137.0"/><use href="#aA" x="303.3" y="168.8"/><use href="#aA" x="303.3" y="232.3"/><use href="#aA" x="303.3" y="264.1"/><use href="#aA" x="312.5" y="47.0"/><use href="#aA" x="312.5" y="57.6"/><use href="#aA" x="312.5" y="68.2"/><use href="#aB" x="312.5" y="89.3"/><use href="#aA" x="312.5" y="110.5"/><use href="#aA" x="312.5" y="121.1"/><use href="#aA" x="312.5" y="131.7"/><use href="#aB" x="312.5" y="152.9"/><use href="#aA" x="312.5" y="174.1"/><use href="#aA" x="312.5" y="184.7"/><use href="#aA" x="312.5" y="195.3"/><use href="#aB" x="312.5" y="216.5"/><use href="#aA" x="312.5" y="237.6"/><use href="#aA" x="312.5" y="248.2"/><use href="#aA" x="312.5" y="258.8"/></g>
<g><g clip-path="url(#clb)"><g filter="url(#hb)"><rect x="389.00" y="23.4" width="8.87" height="234.8" fill="url(#b0)"/><rect x="395.37" y="23.4" width="4.87" height="234.8" fill="url(#b1)"/><rect x="397.73" y="23.4" width="4.87" height="234.8" fill="url(#b2)"/><rect x="400.10" y="23.4" width="4.87" height="234.8" fill="url(#b3)"/><rect x="402.47" y="23.4" width="4.87" height="234.8" fill="url(#b4)"/><rect x="404.83" y="23.4" width="4.87" height="234.8" fill="url(#b5)"/><rect x="407.20" y="23.4" width="4.87" height="234.8" fill="url(#b6)"/><rect x="409.57" y="23.4" width="4.87" height="234.8" fill="url(#b7)"/><rect x="411.94" y="23.4" width="4.87" height="234.8" fill="url(#b8)"/><rect x="414.30" y="23.4" width="4.87" height="234.8" fill="url(#b9)"/><rect x="416.67" y="23.4" width="4.87" height="234.8" fill="url(#b10)"/><rect x="419.04" y="23.4" width="4.87" height="234.8" fill="url(#b11)"/><rect x="421.40" y="23.4" width="4.87" height="234.8" fill="url(#b12)"/><rect x="423.77" y="23.4" width="4.87" height="234.8" fill="url(#b13)"/><rect x="426.14" y="23.4" width="4.87" height="234.8" fill="url(#b14)"/><rect x="428.50" y="23.4" width="4.87" height="234.8" fill="url(#b15)"/><rect x="430.87" y="23.4" width="4.87" height="234.8" fill="url(#b16)"/><rect x="433.24" y="23.4" width="4.87" height="234.8" fill="url(#b17)"/><rect x="435.61" y="23.4" width="4.87" height="234.8" fill="url(#b18)"/><rect x="437.97" y="23.4" width="4.87" height="234.8" fill="url(#b19)"/><rect x="440.34" y="23.4" width="4.87" height="234.8" fill="url(#b20)"/><rect x="442.71" y="23.4" width="4.87" height="234.8" fill="url(#b21)"/><rect x="445.07" y="23.4" width="4.87" height="234.8" fill="url(#b22)"/><rect x="447.44" y="23.4" width="4.87" height="234.8" fill="url(#b23)"/><rect x="449.81" y="23.4" width="4.87" height="234.8" fill="url(#b24)"/><rect x="452.18" y="23.4" width="4.87" height="234.8" fill="url(#b25)"/><rect x="454.54" y="23.4" width="4.87" height="234.8" fill="url(#b26)"/><rect x="456.91" y="23.4" width="4.87" height="234.8" fill="url(#b27)"/><rect x="459.28" y="23.4" width="4.87" height="234.8" fill="url(#b28)"/><rect x="461.64" y="23.4" width="4.87" height="234.8" fill="url(#b29)"/><rect x="464.01" y="23.4" width="4.87" height="234.8" fill="url(#b30)"/><rect x="466.38" y="23.4" width="4.87" height="234.8" fill="url(#b31)"/><rect x="468.74" y="23.4" width="4.87" height="234.8" fill="url(#b32)"/><rect x="471.11" y="23.4" width="4.87" height="234.8" fill="url(#b33)"/><rect x="473.48" y="23.4" width="4.87" height="234.8" fill="url(#b34)"/><rect x="475.85" y="23.4" width="4.87" height="234.8" fill="url(#b35)"/><rect x="478.21" y="23.4" width="4.87" height="234.8" fill="url(#b36)"/><rect x="480.58" y="23.4" width="4.87" height="234.8" fill="url(#b37)"/><rect x="482.95" y="23.4" width="4.87" height="234.8" fill="url(#b38)"/><rect x="485.31" y="23.4" width="4.87" height="234.8" fill="url(#b39)"/><rect x="487.68" y="23.4" width="4.87" height="234.8" fill="url(#b40)"/><rect x="490.05" y="23.4" width="4.87" height="234.8" fill="url(#b41)"/><rect x="492.41" y="23.4" width="4.87" height="234.8" fill="url(#b42)"/><rect x="494.78" y="23.4" width="4.87" height="234.8" fill="url(#b43)"/><rect x="497.15" y="23.4" width="4.87" height="234.8" fill="url(#b44)"/><rect x="499.51" y="23.4" width="4.87" height="234.8" fill="url(#b45)"/><rect x="501.88" y="23.4" width="4.87" height="234.8" fill="url(#b46)"/><rect x="504.25" y="23.4" width="4.87" height="234.8" fill="url(#b47)"/><rect x="506.62" y="23.4" width="4.87" height="234.8" fill="url(#b48)"/><rect x="508.98" y="23.4" width="4.87" height="234.8" fill="url(#b49)"/><rect x="511.35" y="23.4" width="4.87" height="234.8" fill="url(#b50)"/><rect x="513.72" y="23.4" width="4.87" height="234.8" fill="url(#b51)"/><rect x="516.08" y="23.4" width="4.87" height="234.8" fill="url(#b52)"/><rect x="518.45" y="23.4" width="4.87" height="234.8" fill="url(#b53)"/><rect x="520.82" y="23.4" width="4.87" height="234.8" fill="url(#b54)"/><rect x="523.18" y="23.4" width="4.87" height="234.8" fill="url(#b55)"/><rect x="525.55" y="23.4" width="4.87" height="234.8" fill="url(#b56)"/><rect x="527.92" y="23.4" width="4.87" height="234.8" fill="url(#b57)"/><rect x="530.29" y="23.4" width="4.87" height="234.8" fill="url(#b58)"/><rect x="532.65" y="23.4" width="4.87" height="234.8" fill="url(#b59)"/><rect x="535.02" y="23.4" width="4.87" height="234.8" fill="url(#b60)"/><rect x="537.39" y="23.4" width="4.87" height="234.8" fill="url(#b61)"/><rect x="539.75" y="23.4" width="4.87" height="234.8" fill="url(#b62)"/><rect x="542.12" y="23.4" width="4.87" height="234.8" fill="url(#b63)"/><rect x="544.49" y="23.4" width="4.87" height="234.8" fill="url(#b64)"/><rect x="546.86" y="23.4" width="4.87" height="234.8" fill="url(#b65)"/><rect x="549.22" y="23.4" width="4.87" height="234.8" fill="url(#b66)"/><rect x="551.59" y="23.4" width="4.87" height="234.8" fill="url(#b67)"/><rect x="553.96" y="23.4" width="4.87" height="234.8" fill="url(#b68)"/><rect x="556.32" y="23.4" width="4.87" height="234.8" fill="url(#b69)"/><rect x="558.69" y="23.4" width="4.87" height="234.8" fill="url(#b70)"/><rect x="561.06" y="23.4" width="4.87" height="234.8" fill="url(#b71)"/><rect x="563.42" y="23.4" width="4.87" height="234.8" fill="url(#b72)"/><rect x="565.79" y="23.4" width="4.87" height="234.8" fill="url(#b73)"/><rect x="568.16" y="23.4" width="4.87" height="234.8" fill="url(#b74)"/><rect x="570.52" y="23.4" width="4.87" height="234.8" fill="url(#b75)"/><rect x="572.89" y="23.4" width="4.87" height="234.8" fill="url(#b76)"/><rect x="575.26" y="23.4" width="4.87" height="234.8" fill="url(#b77)"/><rect x="577.63" y="23.4" width="4.87" height="234.8" fill="url(#b78)"/><rect x="579.99" y="23.4" width="4.87" height="234.8" fill="url(#b79)"/><rect x="582.36" y="23.4" width="4.87" height="234.8" fill="url(#b80)"/><rect x="584.73" y="23.4" width="4.87" height="234.8" fill="url(#b81)"/><rect x="587.09" y="23.4" width="4.87" height="234.8" fill="url(#b82)"/><rect x="589.46" y="23.4" width="4.87" height="234.8" fill="url(#b83)"/><rect x="591.83" y="23.4" width="4.87" height="234.8" fill="url(#b84)"/><rect x="594.19" y="23.4" width="4.87" height="234.8" fill="url(#b85)"/><rect x="596.56" y="23.4" width="4.87" height="234.8" fill="url(#b86)"/><rect x="598.93" y="23.4" width="4.87" height="234.8" fill="url(#b87)"/><rect x="601.30" y="23.4" width="4.87" height="234.8" fill="url(#b88)"/><rect x="603.66" y="23.4" width="4.87" height="234.8" fill="url(#b89)"/><rect x="606.03" y="23.4" width="4.87" height="234.8" fill="url(#b90)"/><rect x="608.40" y="23.4" width="4.87" height="234.8" fill="url(#b91)"/><rect x="610.76" y="23.4" width="4.87" height="234.8" fill="url(#b92)"/><rect x="613.13" y="23.4" width="4.87" height="234.8" fill="url(#b93)"/><rect x="615.50" y="23.4" width="4.87" height="234.8" fill="url(#b94)"/><rect x="617.87" y="23.4" width="4.87" height="234.8" fill="url(#b95)"/><rect x="620.23" y="23.4" width="4.87" height="234.8" fill="url(#b96)"/><rect x="622.60" y="23.4" width="4.87" height="234.8" fill="url(#b97)"/><rect x="624.97" y="23.4" width="4.87" height="234.8" fill="url(#b98)"/><rect x="627.33" y="23.4" width="8.87" height="234.8" fill="url(#b99)"/></g></g><rect x="393.0" y="27.4" width="236.7" height="226.8" fill="none" stroke="#2a2420" stroke-width="1.1"/><path d="M393.0 254.2v4.5M416.7 254.2v2.2M440.3 254.2v4.5M464.0 254.2v2.2M487.7 254.2v4.5M511.4 254.2v2.2M535.0 254.2v4.5M558.7 254.2v2.2M582.4 254.2v4.5M606.0 254.2v2.2M629.7 254.2v4.5M393.0 27.4h-4.5M393.0 55.8h-2.2M393.0 84.1h-4.5M393.0 112.5h-2.2M393.0 140.8h-4.5M393.0 169.2h-2.2M393.0 197.5h-4.5M393.0 225.9h-2.2M393.0 254.2h-4.5" stroke="#2a2420" stroke-width="1.1" fill="none"/><text x="393.4" y="269.9" font-size="9.6" text-anchor="middle">-0.540</text><text x="440.7" y="269.9" font-size="9.6" text-anchor="middle">-0.535</text><text x="488.1" y="269.9" font-size="9.6" text-anchor="middle">-0.530</text><text x="535.4" y="269.9" font-size="9.6" text-anchor="middle">-0.525</text><text x="582.8" y="269.9" font-size="9.6" text-anchor="middle">-0.520</text><text x="630.1" y="269.9" font-size="9.6" text-anchor="middle">-0.515</text><text x="385.7" y="30.7" font-size="9.6" text-anchor="end">200</text><text x="385.7" y="87.4" font-size="9.6" text-anchor="end">160</text><text x="385.7" y="144.1" font-size="9.6" text-anchor="end">120</text><text x="385.7" y="200.8" font-size="9.6" text-anchor="end">80</text><text x="385.7" y="257.5" font-size="9.6" text-anchor="end">40</text><text x="511.7" y="287.8" font-size="12.1" text-anchor="middle">Chemical Potential (V)</text><text transform="translate(365.4 141.0) rotate(-90)" font-size="12.2" text-anchor="middle">Temperature (K)</text><text x="477.5" y="23.7" font-size="11.8" text-anchor="start" xml:space="preserve">S  (μV/K)</text><rect x="635.5" y="27.4" width="18.6" height="226.8" fill="url(#cbg)" stroke="#2a2420" stroke-width="1.1"/><text x="661.5" y="256.8" font-size="7.3" text-anchor="start">-510</text><text x="661.5" y="228.5" font-size="7.3" text-anchor="start">-381</text><text x="661.5" y="200.1" font-size="7.3" text-anchor="start">-251</text><text x="661.5" y="171.8" font-size="7.3" text-anchor="start">-122</text><text x="661.5" y="143.4" font-size="7.3" text-anchor="start">8</text><text x="661.5" y="115.1" font-size="7.3" text-anchor="start">137</text><text x="661.5" y="86.7" font-size="7.3" text-anchor="start">266</text><text x="661.5" y="58.4" font-size="7.3" text-anchor="start">396</text><text x="661.5" y="30.0" font-size="7.3" text-anchor="start">525</text><path d="M654.1 254.2h4M654.1 225.9h4M654.1 197.5h4M654.1 169.2h4M654.1 140.8h4M654.1 112.5h4M654.1 84.1h4M654.1 55.8h4M654.1 27.4h4" stroke="#2a2420" stroke-width="1.1" fill="none"/></g>
<g><g clip-path="url(#clc)"><g filter="url(#hb)"><rect x="733.20" y="23.4" width="9.46" height="234.8" fill="url(#c0)"/><rect x="740.16" y="23.4" width="5.46" height="234.8" fill="url(#c1)"/><rect x="743.12" y="23.4" width="5.46" height="234.8" fill="url(#c2)"/><rect x="746.07" y="23.4" width="5.46" height="234.8" fill="url(#c3)"/><rect x="749.03" y="23.4" width="5.46" height="234.8" fill="url(#c4)"/><rect x="751.99" y="23.4" width="5.46" height="234.8" fill="url(#c5)"/><rect x="754.95" y="23.4" width="5.46" height="234.8" fill="url(#c6)"/><rect x="757.90" y="23.4" width="5.46" height="234.8" fill="url(#c7)"/><rect x="760.86" y="23.4" width="5.46" height="234.8" fill="url(#c8)"/><rect x="763.82" y="23.4" width="5.46" height="234.8" fill="url(#c9)"/><rect x="766.78" y="23.4" width="5.46" height="234.8" fill="url(#c10)"/><rect x="769.73" y="23.4" width="5.46" height="234.8" fill="url(#c11)"/><rect x="772.69" y="23.4" width="5.46" height="234.8" fill="url(#c12)"/><rect x="775.65" y="23.4" width="5.46" height="234.8" fill="url(#c13)"/><rect x="778.61" y="23.4" width="5.46" height="234.8" fill="url(#c14)"/><rect x="781.56" y="23.4" width="5.46" height="234.8" fill="url(#c15)"/><rect x="784.52" y="23.4" width="5.46" height="234.8" fill="url(#c16)"/><rect x="787.48" y="23.4" width="5.46" height="234.8" fill="url(#c17)"/><rect x="790.44" y="23.4" width="5.46" height="234.8" fill="url(#c18)"/><rect x="793.39" y="23.4" width="5.46" height="234.8" fill="url(#c19)"/><rect x="796.35" y="23.4" width="5.46" height="234.8" fill="url(#c20)"/><rect x="799.31" y="23.4" width="5.46" height="234.8" fill="url(#c21)"/><rect x="802.27" y="23.4" width="5.46" height="234.8" fill="url(#c22)"/><rect x="805.22" y="23.4" width="5.46" height="234.8" fill="url(#c23)"/><rect x="808.18" y="23.4" width="5.46" height="234.8" fill="url(#c24)"/><rect x="811.14" y="23.4" width="5.46" height="234.8" fill="url(#c25)"/><rect x="814.10" y="23.4" width="5.46" height="234.8" fill="url(#c26)"/><rect x="817.05" y="23.4" width="5.46" height="234.8" fill="url(#c27)"/><rect x="820.01" y="23.4" width="5.46" height="234.8" fill="url(#c28)"/><rect x="822.97" y="23.4" width="5.46" height="234.8" fill="url(#c29)"/><rect x="825.93" y="23.4" width="5.46" height="234.8" fill="url(#c30)"/><rect x="828.88" y="23.4" width="5.46" height="234.8" fill="url(#c31)"/><rect x="831.84" y="23.4" width="5.46" height="234.8" fill="url(#c32)"/><rect x="834.80" y="23.4" width="5.46" height="234.8" fill="url(#c33)"/><rect x="837.76" y="23.4" width="5.46" height="234.8" fill="url(#c34)"/><rect x="840.71" y="23.4" width="5.46" height="234.8" fill="url(#c35)"/><rect x="843.67" y="23.4" width="5.46" height="234.8" fill="url(#c36)"/><rect x="846.63" y="23.4" width="5.46" height="234.8" fill="url(#c37)"/><rect x="849.59" y="23.4" width="5.46" height="234.8" fill="url(#c38)"/><rect x="852.54" y="23.4" width="5.46" height="234.8" fill="url(#c39)"/><rect x="855.50" y="23.4" width="5.46" height="234.8" fill="url(#c40)"/><rect x="858.46" y="23.4" width="5.46" height="234.8" fill="url(#c41)"/><rect x="861.42" y="23.4" width="5.46" height="234.8" fill="url(#c42)"/><rect x="864.37" y="23.4" width="5.46" height="234.8" fill="url(#c43)"/><rect x="867.33" y="23.4" width="5.46" height="234.8" fill="url(#c44)"/><rect x="870.29" y="23.4" width="5.46" height="234.8" fill="url(#c45)"/><rect x="873.25" y="23.4" width="5.46" height="234.8" fill="url(#c46)"/><rect x="876.20" y="23.4" width="5.46" height="234.8" fill="url(#c47)"/><rect x="879.16" y="23.4" width="5.46" height="234.8" fill="url(#c48)"/><rect x="882.12" y="23.4" width="5.46" height="234.8" fill="url(#c49)"/><rect x="885.08" y="23.4" width="5.46" height="234.8" fill="url(#c50)"/><rect x="888.03" y="23.4" width="5.46" height="234.8" fill="url(#c51)"/><rect x="890.99" y="23.4" width="5.46" height="234.8" fill="url(#c52)"/><rect x="893.95" y="23.4" width="5.46" height="234.8" fill="url(#c53)"/><rect x="896.91" y="23.4" width="5.46" height="234.8" fill="url(#c54)"/><rect x="899.86" y="23.4" width="5.46" height="234.8" fill="url(#c55)"/><rect x="902.82" y="23.4" width="5.46" height="234.8" fill="url(#c56)"/><rect x="905.78" y="23.4" width="5.46" height="234.8" fill="url(#c57)"/><rect x="908.74" y="23.4" width="5.46" height="234.8" fill="url(#c58)"/><rect x="911.69" y="23.4" width="5.46" height="234.8" fill="url(#c59)"/><rect x="914.65" y="23.4" width="5.46" height="234.8" fill="url(#c60)"/><rect x="917.61" y="23.4" width="5.46" height="234.8" fill="url(#c61)"/><rect x="920.57" y="23.4" width="5.46" height="234.8" fill="url(#c62)"/><rect x="923.52" y="23.4" width="5.46" height="234.8" fill="url(#c63)"/><rect x="926.48" y="23.4" width="5.46" height="234.8" fill="url(#c64)"/><rect x="929.44" y="23.4" width="5.46" height="234.8" fill="url(#c65)"/><rect x="932.39" y="23.4" width="5.46" height="234.8" fill="url(#c66)"/><rect x="935.35" y="23.4" width="5.46" height="234.8" fill="url(#c67)"/><rect x="938.31" y="23.4" width="5.46" height="234.8" fill="url(#c68)"/><rect x="941.27" y="23.4" width="5.46" height="234.8" fill="url(#c69)"/><rect x="944.23" y="23.4" width="5.46" height="234.8" fill="url(#c70)"/><rect x="947.18" y="23.4" width="5.46" height="234.8" fill="url(#c71)"/><rect x="950.14" y="23.4" width="5.46" height="234.8" fill="url(#c72)"/><rect x="953.10" y="23.4" width="5.46" height="234.8" fill="url(#c73)"/><rect x="956.06" y="23.4" width="5.46" height="234.8" fill="url(#c74)"/><rect x="959.01" y="23.4" width="5.46" height="234.8" fill="url(#c75)"/><rect x="961.97" y="23.4" width="5.46" height="234.8" fill="url(#c76)"/><rect x="964.93" y="23.4" width="5.46" height="234.8" fill="url(#c77)"/><rect x="967.88" y="23.4" width="5.46" height="234.8" fill="url(#c78)"/><rect x="970.84" y="23.4" width="9.46" height="234.8" fill="url(#c79)"/></g></g><rect x="737.2" y="27.4" width="236.6" height="226.8" fill="none" stroke="#2a2420" stroke-width="1.1"/><path d="M737.2 254.2v4.5M760.9 254.2v2.2M784.5 254.2v4.5M808.2 254.2v2.2M831.8 254.2v4.5M855.5 254.2v2.2M879.2 254.2v4.5M902.8 254.2v2.2M926.5 254.2v4.5M950.1 254.2v2.2M973.8 254.2v4.5M737.2 27.4h-4.5M737.2 55.8h-2.2M737.2 84.1h-4.5M737.2 112.5h-2.2M737.2 140.8h-4.5M737.2 169.2h-2.2M737.2 197.5h-4.5M737.2 225.9h-2.2M737.2 254.2h-4.5" stroke="#2a2420" stroke-width="1.1" fill="none"/><text x="737.6" y="269.9" font-size="9.6" text-anchor="middle">-0.540</text><text x="784.9" y="269.9" font-size="9.6" text-anchor="middle">-0.535</text><text x="832.2" y="269.9" font-size="9.6" text-anchor="middle">-0.530</text><text x="879.6" y="269.9" font-size="9.6" text-anchor="middle">-0.525</text><text x="926.9" y="269.9" font-size="9.6" text-anchor="middle">-0.520</text><text x="974.2" y="269.9" font-size="9.6" text-anchor="middle">-0.515</text><text x="729.9" y="30.7" font-size="9.6" text-anchor="end">200</text><text x="729.9" y="87.4" font-size="9.6" text-anchor="end">160</text><text x="729.9" y="144.1" font-size="9.6" text-anchor="end">120</text><text x="729.9" y="200.8" font-size="9.6" text-anchor="end">80</text><text x="729.9" y="257.5" font-size="9.6" text-anchor="end">40</text><text x="855.8" y="287.8" font-size="12.1" text-anchor="middle">Chemical Potential (V)</text><text transform="translate(709.4 141.0) rotate(-90)" font-size="12.2" text-anchor="middle">Temperature (K)</text><text x="821.4" y="23.5" font-size="11.8" text-anchor="start" xml:space="preserve">κ/τ  [W/(m*K*s)]</text><rect x="978.0" y="27.4" width="18.6" height="226.8" fill="url(#cbg)" stroke="#2a2420" stroke-width="1.1"/><text x="1004.0" y="256.8" font-size="7.3" text-anchor="start">8×10<tspan font-size="4.8" dy="-2.8">12</tspan></text><text x="1004.0" y="228.5" font-size="7.3" text-anchor="start">1×10<tspan font-size="4.8" dy="-2.8">13</tspan></text><text x="1004.0" y="200.1" font-size="7.3" text-anchor="start">2×10<tspan font-size="4.8" dy="-2.8">13</tspan></text><text x="1004.0" y="171.8" font-size="7.3" text-anchor="start">3×10<tspan font-size="4.8" dy="-2.8">13</tspan></text><text x="1004.0" y="143.4" font-size="7.3" text-anchor="start">4×10<tspan font-size="4.8" dy="-2.8">13</tspan></text><text x="1004.0" y="115.1" font-size="7.3" text-anchor="start">4×10<tspan font-size="4.8" dy="-2.8">13</tspan></text><text x="1004.0" y="86.7" font-size="7.3" text-anchor="start">5×10<tspan font-size="4.8" dy="-2.8">13</tspan></text><text x="1004.0" y="58.4" font-size="7.3" text-anchor="start">6×10<tspan font-size="4.8" dy="-2.8">13</tspan></text><text x="1004.0" y="30.0" font-size="7.3" text-anchor="start">7×10<tspan font-size="4.8" dy="-2.8">13</tspan></text><path d="M996.6 254.2h4M996.6 225.9h4M996.6 197.5h4M996.6 169.2h4M996.6 140.8h4M996.6 112.5h4M996.6 84.1h4M996.6 55.8h4M996.6 27.4h4" stroke="#2a2420" stroke-width="1.1" fill="none"/></g>
<g><g clip-path="url(#cld)"><g filter="url(#hb)"><rect x="194.30" y="351.2" width="8.87" height="235.0" fill="url(#d0)"/><rect x="200.67" y="351.2" width="4.87" height="235.0" fill="url(#d1)"/><rect x="203.03" y="351.2" width="4.87" height="235.0" fill="url(#d2)"/><rect x="205.40" y="351.2" width="4.87" height="235.0" fill="url(#d3)"/><rect x="207.76" y="351.2" width="4.87" height="235.0" fill="url(#d4)"/><rect x="210.13" y="351.2" width="4.87" height="235.0" fill="url(#d5)"/><rect x="212.50" y="351.2" width="4.87" height="235.0" fill="url(#d6)"/><rect x="214.86" y="351.2" width="4.87" height="235.0" fill="url(#d7)"/><rect x="217.23" y="351.2" width="4.87" height="235.0" fill="url(#d8)"/><rect x="219.59" y="351.2" width="4.87" height="235.0" fill="url(#d9)"/><rect x="221.96" y="351.2" width="4.87" height="235.0" fill="url(#d10)"/><rect x="224.33" y="351.2" width="4.87" height="235.0" fill="url(#d11)"/><rect x="226.69" y="351.2" width="4.87" height="235.0" fill="url(#d12)"/><rect x="229.06" y="351.2" width="4.87" height="235.0" fill="url(#d13)"/><rect x="231.42" y="351.2" width="4.87" height="235.0" fill="url(#d14)"/><rect x="233.79" y="351.2" width="4.87" height="235.0" fill="url(#d15)"/><rect x="236.16" y="351.2" width="4.87" height="235.0" fill="url(#d16)"/><rect x="238.52" y="351.2" width="4.87" height="235.0" fill="url(#d17)"/><rect x="240.89" y="351.2" width="4.87" height="235.0" fill="url(#d18)"/><rect x="243.25" y="351.2" width="4.87" height="235.0" fill="url(#d19)"/><rect x="245.62" y="351.2" width="4.87" height="235.0" fill="url(#d20)"/><rect x="247.99" y="351.2" width="4.87" height="235.0" fill="url(#d21)"/><rect x="250.35" y="351.2" width="4.87" height="235.0" fill="url(#d22)"/><rect x="252.72" y="351.2" width="4.87" height="235.0" fill="url(#d23)"/><rect x="255.08" y="351.2" width="4.87" height="235.0" fill="url(#d24)"/><rect x="257.45" y="351.2" width="4.87" height="235.0" fill="url(#d25)"/><rect x="259.82" y="351.2" width="4.87" height="235.0" fill="url(#d26)"/><rect x="262.18" y="351.2" width="4.87" height="235.0" fill="url(#d27)"/><rect x="264.55" y="351.2" width="4.87" height="235.0" fill="url(#d28)"/><rect x="266.91" y="351.2" width="4.87" height="235.0" fill="url(#d29)"/><rect x="269.28" y="351.2" width="4.87" height="235.0" fill="url(#d30)"/><rect x="271.65" y="351.2" width="4.87" height="235.0" fill="url(#d31)"/><rect x="274.01" y="351.2" width="4.87" height="235.0" fill="url(#d32)"/><rect x="276.38" y="351.2" width="4.87" height="235.0" fill="url(#d33)"/><rect x="278.74" y="351.2" width="4.87" height="235.0" fill="url(#d34)"/><rect x="281.11" y="351.2" width="4.87" height="235.0" fill="url(#d35)"/><rect x="283.48" y="351.2" width="4.87" height="235.0" fill="url(#d36)"/><rect x="285.84" y="351.2" width="4.87" height="235.0" fill="url(#d37)"/><rect x="288.21" y="351.2" width="4.87" height="235.0" fill="url(#d38)"/><rect x="290.57" y="351.2" width="4.87" height="235.0" fill="url(#d39)"/><rect x="292.94" y="351.2" width="4.87" height="235.0" fill="url(#d40)"/><rect x="295.31" y="351.2" width="4.87" height="235.0" fill="url(#d41)"/><rect x="297.67" y="351.2" width="4.87" height="235.0" fill="url(#d42)"/><rect x="300.04" y="351.2" width="4.87" height="235.0" fill="url(#d43)"/><rect x="302.40" y="351.2" width="4.87" height="235.0" fill="url(#d44)"/><rect x="304.77" y="351.2" width="4.87" height="235.0" fill="url(#d45)"/><rect x="307.14" y="351.2" width="4.87" height="235.0" fill="url(#d46)"/><rect x="309.50" y="351.2" width="4.87" height="235.0" fill="url(#d47)"/><rect x="311.87" y="351.2" width="4.87" height="235.0" fill="url(#d48)"/><rect x="314.23" y="351.2" width="4.87" height="235.0" fill="url(#d49)"/><rect x="316.60" y="351.2" width="4.87" height="235.0" fill="url(#d50)"/><rect x="318.97" y="351.2" width="4.87" height="235.0" fill="url(#d51)"/><rect x="321.33" y="351.2" width="4.87" height="235.0" fill="url(#d52)"/><rect x="323.70" y="351.2" width="4.87" height="235.0" fill="url(#d53)"/><rect x="326.06" y="351.2" width="4.87" height="235.0" fill="url(#d54)"/><rect x="328.43" y="351.2" width="4.87" height="235.0" fill="url(#d55)"/><rect x="330.80" y="351.2" width="4.87" height="235.0" fill="url(#d56)"/><rect x="333.16" y="351.2" width="4.87" height="235.0" fill="url(#d57)"/><rect x="335.53" y="351.2" width="4.87" height="235.0" fill="url(#d58)"/><rect x="337.89" y="351.2" width="4.87" height="235.0" fill="url(#d59)"/><rect x="340.26" y="351.2" width="4.87" height="235.0" fill="url(#d60)"/><rect x="342.63" y="351.2" width="4.87" height="235.0" fill="url(#d61)"/><rect x="344.99" y="351.2" width="4.87" height="235.0" fill="url(#d62)"/><rect x="347.36" y="351.2" width="4.87" height="235.0" fill="url(#d63)"/><rect x="349.72" y="351.2" width="4.87" height="235.0" fill="url(#d64)"/><rect x="352.09" y="351.2" width="4.87" height="235.0" fill="url(#d65)"/><rect x="354.46" y="351.2" width="4.87" height="235.0" fill="url(#d66)"/><rect x="356.82" y="351.2" width="4.87" height="235.0" fill="url(#d67)"/><rect x="359.19" y="351.2" width="4.87" height="235.0" fill="url(#d68)"/><rect x="361.55" y="351.2" width="4.87" height="235.0" fill="url(#d69)"/><rect x="363.92" y="351.2" width="4.87" height="235.0" fill="url(#d70)"/><rect x="366.29" y="351.2" width="4.87" height="235.0" fill="url(#d71)"/><rect x="368.65" y="351.2" width="4.87" height="235.0" fill="url(#d72)"/><rect x="371.02" y="351.2" width="4.87" height="235.0" fill="url(#d73)"/><rect x="373.38" y="351.2" width="4.87" height="235.0" fill="url(#d74)"/><rect x="375.75" y="351.2" width="4.87" height="235.0" fill="url(#d75)"/><rect x="378.12" y="351.2" width="4.87" height="235.0" fill="url(#d76)"/><rect x="380.48" y="351.2" width="4.87" height="235.0" fill="url(#d77)"/><rect x="382.85" y="351.2" width="4.87" height="235.0" fill="url(#d78)"/><rect x="385.21" y="351.2" width="4.87" height="235.0" fill="url(#d79)"/><rect x="387.58" y="351.2" width="4.87" height="235.0" fill="url(#d80)"/><rect x="389.95" y="351.2" width="4.87" height="235.0" fill="url(#d81)"/><rect x="392.31" y="351.2" width="4.87" height="235.0" fill="url(#d82)"/><rect x="394.68" y="351.2" width="4.87" height="235.0" fill="url(#d83)"/><rect x="397.04" y="351.2" width="4.87" height="235.0" fill="url(#d84)"/><rect x="399.41" y="351.2" width="4.87" height="235.0" fill="url(#d85)"/><rect x="401.78" y="351.2" width="4.87" height="235.0" fill="url(#d86)"/><rect x="404.14" y="351.2" width="4.87" height="235.0" fill="url(#d87)"/><rect x="406.51" y="351.2" width="4.87" height="235.0" fill="url(#d88)"/><rect x="408.87" y="351.2" width="4.87" height="235.0" fill="url(#d89)"/><rect x="411.24" y="351.2" width="4.87" height="235.0" fill="url(#d90)"/><rect x="413.61" y="351.2" width="4.87" height="235.0" fill="url(#d91)"/><rect x="415.97" y="351.2" width="4.87" height="235.0" fill="url(#d92)"/><rect x="418.34" y="351.2" width="4.87" height="235.0" fill="url(#d93)"/><rect x="420.70" y="351.2" width="4.87" height="235.0" fill="url(#d94)"/><rect x="423.07" y="351.2" width="4.87" height="235.0" fill="url(#d95)"/><rect x="425.44" y="351.2" width="4.87" height="235.0" fill="url(#d96)"/><rect x="427.80" y="351.2" width="4.87" height="235.0" fill="url(#d97)"/><rect x="430.17" y="351.2" width="4.87" height="235.0" fill="url(#d98)"/><rect x="432.53" y="351.2" width="8.87" height="235.0" fill="url(#d99)"/></g></g><rect x="198.3" y="355.2" width="236.6" height="227.0" fill="none" stroke="#2a2420" stroke-width="1.1"/><path d="M198.3 582.2v4.5M222.0 582.2v2.2M245.6 582.2v4.5M269.3 582.2v2.2M292.9 582.2v4.5M316.6 582.2v2.2M340.3 582.2v4.5M363.9 582.2v2.2M387.6 582.2v4.5M411.2 582.2v2.2M434.9 582.2v4.5M198.3 355.2h-4.5M198.3 383.6h-2.2M198.3 411.9h-4.5M198.3 440.3h-2.2M198.3 468.7h-4.5M198.3 497.1h-2.2M198.3 525.5h-4.5M198.3 553.8h-2.2M198.3 582.2h-4.5" stroke="#2a2420" stroke-width="1.1" fill="none"/><text x="198.7" y="597.9" font-size="9.6" text-anchor="middle">-0.540</text><text x="246.0" y="597.9" font-size="9.6" text-anchor="middle">-0.535</text><text x="293.3" y="597.9" font-size="9.6" text-anchor="middle">-0.530</text><text x="340.7" y="597.9" font-size="9.6" text-anchor="middle">-0.525</text><text x="388.0" y="597.9" font-size="9.6" text-anchor="middle">-0.520</text><text x="435.3" y="597.9" font-size="9.6" text-anchor="middle">-0.515</text><text x="191.0" y="358.5" font-size="9.6" text-anchor="end">200</text><text x="191.0" y="415.2" font-size="9.6" text-anchor="end">160</text><text x="191.0" y="472.0" font-size="9.6" text-anchor="end">120</text><text x="191.0" y="528.8" font-size="9.6" text-anchor="end">80</text><text x="191.0" y="585.5" font-size="9.6" text-anchor="end">40</text><text x="316.9" y="615.8" font-size="12.1" text-anchor="middle">Chemical Potential (V)</text><text transform="translate(170.4 468.9) rotate(-90)" font-size="12.2" text-anchor="middle">Temperature (K)</text><text x="282.0" y="350.3" font-size="11.8" text-anchor="start" xml:space="preserve">σ/τ<tspan font-size="8" dy="2">0</tspan><tspan dy="-2">  [(1/Ω</tspan><tspan dy="2.4">*</tspan><tspan dy="-2.4">m</tspan><tspan dy="2.4">*</tspan><tspan dy="-2.4">s)]</tspan></text><rect x="439.3" y="355.2" width="19.1" height="227.0" fill="url(#cbg)" stroke="#2a2420" stroke-width="1.1"/><text x="465.8" y="562.7" font-size="7.3" text-anchor="start">8.0×10<tspan font-size="4.8" dy="-2.8">18</tspan></text><text x="465.8" y="519.8" font-size="7.3" text-anchor="start">1.0×10<tspan font-size="4.8" dy="-2.8">19</tspan></text><text x="465.8" y="476.9" font-size="7.3" text-anchor="start">1.2×10<tspan font-size="4.8" dy="-2.8">19</tspan></text><text x="465.8" y="434.0" font-size="7.3" text-anchor="start">1.4×10<tspan font-size="4.8" dy="-2.8">19</tspan></text><text x="465.8" y="391.1" font-size="7.3" text-anchor="start">1.6×10<tspan font-size="4.8" dy="-2.8">19</tspan></text><path d="M458.4 560.1h4M458.4 517.2h4M458.4 474.3h4M458.4 431.4h4M458.4 388.5h4" stroke="#2a2420" stroke-width="1.1" fill="none"/></g>
<g><g clip-path="url(#cle)"><g filter="url(#hb)"><rect x="538.80" y="351.2" width="8.86" height="235.0" fill="url(#e0)"/><rect x="545.16" y="351.2" width="4.86" height="235.0" fill="url(#e1)"/><rect x="547.52" y="351.2" width="4.86" height="235.0" fill="url(#e2)"/><rect x="549.89" y="351.2" width="4.86" height="235.0" fill="url(#e3)"/><rect x="552.25" y="351.2" width="4.86" height="235.0" fill="url(#e4)"/><rect x="554.61" y="351.2" width="4.86" height="235.0" fill="url(#e5)"/><rect x="556.97" y="351.2" width="4.86" height="235.0" fill="url(#e6)"/><rect x="559.33" y="351.2" width="4.86" height="235.0" fill="url(#e7)"/><rect x="561.70" y="351.2" width="4.86" height="235.0" fill="url(#e8)"/><rect x="564.06" y="351.2" width="4.86" height="235.0" fill="url(#e9)"/><rect x="566.42" y="351.2" width="4.86" height="235.0" fill="url(#e10)"/><rect x="568.78" y="351.2" width="4.86" height="235.0" fill="url(#e11)"/><rect x="571.14" y="351.2" width="4.86" height="235.0" fill="url(#e12)"/><rect x="573.51" y="351.2" width="4.86" height="235.0" fill="url(#e13)"/><rect x="575.87" y="351.2" width="4.86" height="235.0" fill="url(#e14)"/><rect x="578.23" y="351.2" width="4.86" height="235.0" fill="url(#e15)"/><rect x="580.59" y="351.2" width="4.86" height="235.0" fill="url(#e16)"/><rect x="582.95" y="351.2" width="4.86" height="235.0" fill="url(#e17)"/><rect x="585.32" y="351.2" width="4.86" height="235.0" fill="url(#e18)"/><rect x="587.68" y="351.2" width="4.86" height="235.0" fill="url(#e19)"/><rect x="590.04" y="351.2" width="4.86" height="235.0" fill="url(#e20)"/><rect x="592.40" y="351.2" width="4.86" height="235.0" fill="url(#e21)"/><rect x="594.76" y="351.2" width="4.86" height="235.0" fill="url(#e22)"/><rect x="597.13" y="351.2" width="4.86" height="235.0" fill="url(#e23)"/><rect x="599.49" y="351.2" width="4.86" height="235.0" fill="url(#e24)"/><rect x="601.85" y="351.2" width="4.86" height="235.0" fill="url(#e25)"/><rect x="604.21" y="351.2" width="4.86" height="235.0" fill="url(#e26)"/><rect x="606.57" y="351.2" width="4.86" height="235.0" fill="url(#e27)"/><rect x="608.94" y="351.2" width="4.86" height="235.0" fill="url(#e28)"/><rect x="611.30" y="351.2" width="4.86" height="235.0" fill="url(#e29)"/><rect x="613.66" y="351.2" width="4.86" height="235.0" fill="url(#e30)"/><rect x="616.02" y="351.2" width="4.86" height="235.0" fill="url(#e31)"/><rect x="618.38" y="351.2" width="4.86" height="235.0" fill="url(#e32)"/><rect x="620.75" y="351.2" width="4.86" height="235.0" fill="url(#e33)"/><rect x="623.11" y="351.2" width="4.86" height="235.0" fill="url(#e34)"/><rect x="625.47" y="351.2" width="4.86" height="235.0" fill="url(#e35)"/><rect x="627.83" y="351.2" width="4.86" height="235.0" fill="url(#e36)"/><rect x="630.19" y="351.2" width="4.86" height="235.0" fill="url(#e37)"/><rect x="632.56" y="351.2" width="4.86" height="235.0" fill="url(#e38)"/><rect x="634.92" y="351.2" width="4.86" height="235.0" fill="url(#e39)"/><rect x="637.28" y="351.2" width="4.86" height="235.0" fill="url(#e40)"/><rect x="639.64" y="351.2" width="4.86" height="235.0" fill="url(#e41)"/><rect x="642.00" y="351.2" width="4.86" height="235.0" fill="url(#e42)"/><rect x="644.37" y="351.2" width="4.86" height="235.0" fill="url(#e43)"/><rect x="646.73" y="351.2" width="4.86" height="235.0" fill="url(#e44)"/><rect x="649.09" y="351.2" width="4.86" height="235.0" fill="url(#e45)"/><rect x="651.45" y="351.2" width="4.86" height="235.0" fill="url(#e46)"/><rect x="653.81" y="351.2" width="4.86" height="235.0" fill="url(#e47)"/><rect x="656.18" y="351.2" width="4.86" height="235.0" fill="url(#e48)"/><rect x="658.54" y="351.2" width="4.86" height="235.0" fill="url(#e49)"/><rect x="660.90" y="351.2" width="4.86" height="235.0" fill="url(#e50)"/><rect x="663.26" y="351.2" width="4.86" height="235.0" fill="url(#e51)"/><rect x="665.62" y="351.2" width="4.86" height="235.0" fill="url(#e52)"/><rect x="667.99" y="351.2" width="4.86" height="235.0" fill="url(#e53)"/><rect x="670.35" y="351.2" width="4.86" height="235.0" fill="url(#e54)"/><rect x="672.71" y="351.2" width="4.86" height="235.0" fill="url(#e55)"/><rect x="675.07" y="351.2" width="4.86" height="235.0" fill="url(#e56)"/><rect x="677.43" y="351.2" width="4.86" height="235.0" fill="url(#e57)"/><rect x="679.80" y="351.2" width="4.86" height="235.0" fill="url(#e58)"/><rect x="682.16" y="351.2" width="4.86" height="235.0" fill="url(#e59)"/><rect x="684.52" y="351.2" width="4.86" height="235.0" fill="url(#e60)"/><rect x="686.88" y="351.2" width="4.86" height="235.0" fill="url(#e61)"/><rect x="689.24" y="351.2" width="4.86" height="235.0" fill="url(#e62)"/><rect x="691.61" y="351.2" width="4.86" height="235.0" fill="url(#e63)"/><rect x="693.97" y="351.2" width="4.86" height="235.0" fill="url(#e64)"/><rect x="696.33" y="351.2" width="4.86" height="235.0" fill="url(#e65)"/><rect x="698.69" y="351.2" width="4.86" height="235.0" fill="url(#e66)"/><rect x="701.05" y="351.2" width="4.86" height="235.0" fill="url(#e67)"/><rect x="703.42" y="351.2" width="4.86" height="235.0" fill="url(#e68)"/><rect x="705.78" y="351.2" width="4.86" height="235.0" fill="url(#e69)"/><rect x="708.14" y="351.2" width="4.86" height="235.0" fill="url(#e70)"/><rect x="710.50" y="351.2" width="4.86" height="235.0" fill="url(#e71)"/><rect x="712.86" y="351.2" width="4.86" height="235.0" fill="url(#e72)"/><rect x="715.23" y="351.2" width="4.86" height="235.0" fill="url(#e73)"/><rect x="717.59" y="351.2" width="4.86" height="235.0" fill="url(#e74)"/><rect x="719.95" y="351.2" width="4.86" height="235.0" fill="url(#e75)"/><rect x="722.31" y="351.2" width="4.86" height="235.0" fill="url(#e76)"/><rect x="724.67" y="351.2" width="4.86" height="235.0" fill="url(#e77)"/><rect x="727.04" y="351.2" width="4.86" height="235.0" fill="url(#e78)"/><rect x="729.40" y="351.2" width="4.86" height="235.0" fill="url(#e79)"/><rect x="731.76" y="351.2" width="4.86" height="235.0" fill="url(#e80)"/><rect x="734.12" y="351.2" width="4.86" height="235.0" fill="url(#e81)"/><rect x="736.48" y="351.2" width="4.86" height="235.0" fill="url(#e82)"/><rect x="738.85" y="351.2" width="4.86" height="235.0" fill="url(#e83)"/><rect x="741.21" y="351.2" width="4.86" height="235.0" fill="url(#e84)"/><rect x="743.57" y="351.2" width="4.86" height="235.0" fill="url(#e85)"/><rect x="745.93" y="351.2" width="4.86" height="235.0" fill="url(#e86)"/><rect x="748.29" y="351.2" width="4.86" height="235.0" fill="url(#e87)"/><rect x="750.66" y="351.2" width="4.86" height="235.0" fill="url(#e88)"/><rect x="753.02" y="351.2" width="4.86" height="235.0" fill="url(#e89)"/><rect x="755.38" y="351.2" width="4.86" height="235.0" fill="url(#e90)"/><rect x="757.74" y="351.2" width="4.86" height="235.0" fill="url(#e91)"/><rect x="760.10" y="351.2" width="4.86" height="235.0" fill="url(#e92)"/><rect x="762.47" y="351.2" width="4.86" height="235.0" fill="url(#e93)"/><rect x="764.83" y="351.2" width="4.86" height="235.0" fill="url(#e94)"/><rect x="767.19" y="351.2" width="4.86" height="235.0" fill="url(#e95)"/><rect x="769.55" y="351.2" width="4.86" height="235.0" fill="url(#e96)"/><rect x="771.91" y="351.2" width="4.86" height="235.0" fill="url(#e97)"/><rect x="774.28" y="351.2" width="4.86" height="235.0" fill="url(#e98)"/><rect x="776.64" y="351.2" width="8.86" height="235.0" fill="url(#e99)"/></g></g><rect x="542.8" y="355.2" width="236.2" height="227.0" fill="none" stroke="#2a2420" stroke-width="1.1"/><path d="M542.8 582.2v4.5M566.4 582.2v2.2M590.0 582.2v4.5M613.7 582.2v2.2M637.3 582.2v4.5M660.9 582.2v2.2M684.5 582.2v4.5M708.1 582.2v2.2M731.8 582.2v4.5M755.4 582.2v2.2M779.0 582.2v4.5M542.8 355.2h-4.5M542.8 383.6h-2.2M542.8 411.9h-4.5M542.8 440.3h-2.2M542.8 468.7h-4.5M542.8 497.1h-2.2M542.8 525.5h-4.5M542.8 553.8h-2.2M542.8 582.2h-4.5" stroke="#2a2420" stroke-width="1.1" fill="none"/><text x="543.2" y="597.9" font-size="9.6" text-anchor="middle">-0.540</text><text x="590.4" y="597.9" font-size="9.6" text-anchor="middle">-0.535</text><text x="637.7" y="597.9" font-size="9.6" text-anchor="middle">-0.530</text><text x="684.9" y="597.9" font-size="9.6" text-anchor="middle">-0.525</text><text x="732.2" y="597.9" font-size="9.6" text-anchor="middle">-0.520</text><text x="779.4" y="597.9" font-size="9.6" text-anchor="middle">-0.515</text><text x="535.5" y="358.5" font-size="9.6" text-anchor="end">200</text><text x="535.5" y="415.2" font-size="9.6" text-anchor="end">160</text><text x="535.5" y="472.0" font-size="9.6" text-anchor="end">120</text><text x="535.5" y="528.8" font-size="9.6" text-anchor="end">80</text><text x="535.5" y="585.5" font-size="9.6" text-anchor="end">40</text><text x="661.2" y="615.8" font-size="12.1" text-anchor="middle">Chemical Potential (V)</text><text transform="translate(514.9 468.9) rotate(-90)" font-size="12.2" text-anchor="middle">Temperature (K)</text><text x="626.5" y="351.6" font-size="11.8" text-anchor="start" xml:space="preserve">ZT=S<tspan font-size="8" dy="-4">2</tspan><tspan dy="4">σT/κ</tspan></text><rect x="783.6" y="355.2" width="18.8" height="227.0" fill="url(#cbg)" stroke="#2a2420" stroke-width="1.1"/><text x="809.8" y="584.8" font-size="7.3" text-anchor="start">0</text><text x="809.8" y="556.4" font-size="7.3" text-anchor="start">2</text><text x="809.8" y="528.1" font-size="7.3" text-anchor="start">3</text><text x="809.8" y="499.7" font-size="7.3" text-anchor="start">5</text><text x="809.8" y="471.3" font-size="7.3" text-anchor="start">6</text><text x="809.8" y="442.9" font-size="7.3" text-anchor="start">8</text><text x="809.8" y="414.6" font-size="7.3" text-anchor="start">10</text><text x="809.8" y="386.2" font-size="7.3" text-anchor="start">11</text><text x="809.8" y="357.8" font-size="7.3" text-anchor="start">13</text><path d="M802.4 582.2h4M802.4 553.8h4M802.4 525.5h4M802.4 497.1h4M802.4 468.7h4M802.4 440.3h4M802.4 411.9h4M802.4 383.6h4M802.4 355.2h4" stroke="#2a2420" stroke-width="1.1" fill="none"/></g>
<text x="171.3" y="322.0" font-size="24.8" text-anchor="middle">(a)</text>
<text x="505.3" y="322.0" font-size="24.8" text-anchor="middle">(b)</text>
<text x="849.0" y="327.4" font-size="24.8" text-anchor="middle">(c)</text>
<text x="320.3" y="658.9" font-size="24.8" text-anchor="middle">(d)</text>
<text x="666.8" y="658.9" font-size="24.8" text-anchor="middle">(e)</text>
</g>
</svg>
</body></html>
